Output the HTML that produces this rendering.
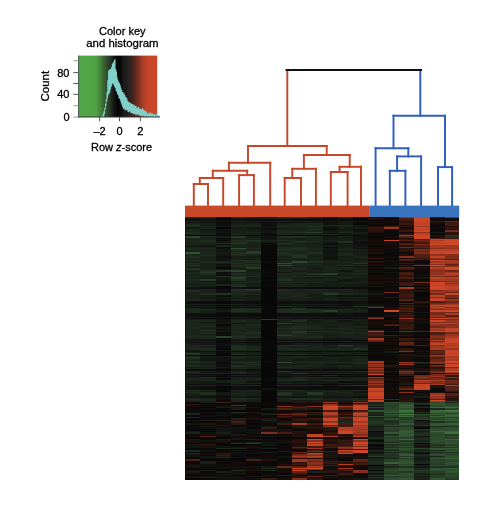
<!DOCTYPE html>
<html><head><meta charset="utf-8"><style>
html,body{margin:0;padding:0;background:#fff;width:499px;height:505px;overflow:hidden}
svg{display:block;will-change:transform}
</style></head><body>
<svg width="499" height="505" viewBox="0 0 499 505" shape-rendering="geometricPrecision">
<defs>
<linearGradient id="ck" x1="78.5" y1="0" x2="157.2" y2="0" gradientUnits="userSpaceOnUse">
<stop offset="0.0000" stop-color="#52a846"/>
<stop offset="0.2224" stop-color="#50a244"/>
<stop offset="0.2732" stop-color="#46843c"/>
<stop offset="0.3240" stop-color="#386232"/>
<stop offset="0.3748" stop-color="#2d442c"/>
<stop offset="0.4130" stop-color="#222e24"/>
<stop offset="0.4447" stop-color="#161816"/>
<stop offset="0.4892" stop-color="#060606"/>
<stop offset="0.5273" stop-color="#060606"/>
<stop offset="0.5654" stop-color="#181717"/>
<stop offset="0.6290" stop-color="#24201f"/>
<stop offset="0.6798" stop-color="#3e241e"/>
<stop offset="0.7306" stop-color="#642a20"/>
<stop offset="0.7814" stop-color="#8c3424"/>
<stop offset="0.8323" stop-color="#b23e28"/>
<stop offset="0.8831" stop-color="#c74529"/>
<stop offset="1.0000" stop-color="#c9462a"/>
</linearGradient>
<filter id="hb" x="185" y="217.2" width="274.2" height="262.3" filterUnits="userSpaceOnUse" color-interpolation-filters="sRGB">
<feGaussianBlur stdDeviation="0.35 0.45" edgeMode="duplicate"/>
</filter>
</defs>
<rect x="0" y="0" width="499" height="505" fill="#ffffff"/>
<!-- color key -->
<rect x="78.5" y="55.6" width="78.7" height="61.4" fill="url(#ck)"/>
<path d="M100.50 116.95 L101.25 116.95 L101.25 116.31 L102.00 116.31 L102.00 115.42 L102.75 115.42 L102.75 113.22 L103.50 113.22 L103.50 111.01 L104.25 111.01 L104.25 108.09 L105.00 108.09 L105.00 103.68 L105.75 103.68 L105.75 98.82 L106.50 98.82 L106.50 91.73 L107.25 91.73 L107.25 80.24 L108.00 80.24 L108.00 70.69 L108.75 70.69 L108.75 70.00 L109.50 70.00 L109.50 68.91 L110.25 68.91 L110.25 68.71 L111.00 68.71 L111.00 67.17 L111.75 67.17 L111.75 63.92 L112.50 63.92 L112.50 62.64 L113.25 62.64 L113.25 61.38 L114.00 61.38 L114.00 59.65 L114.75 59.65 L114.75 59.21 L115.50 59.21 L115.50 68.98 L116.25 68.98 L116.25 71.55 L117.00 71.55 L117.00 77.56 L117.75 77.56 L117.75 80.31 L118.50 80.31 L118.50 82.10 L119.25 82.10 L119.25 83.17 L120.00 83.17 L120.00 84.78 L120.75 84.78 L120.75 87.69 L121.50 87.69 L121.50 89.89 L122.25 89.89 L122.25 92.00 L123.00 92.00 L123.00 92.62 L123.75 92.62 L123.75 93.52 L124.50 93.52 L124.50 94.75 L125.25 94.75 L125.25 96.71 L126.00 96.71 L126.00 97.59 L126.75 97.59 L126.75 98.52 L127.50 98.52 L127.50 101.09 L128.25 101.09 L128.25 101.82 L129.00 101.82 L129.00 101.91 L129.75 101.91 L129.75 102.77 L130.50 102.77 L130.50 103.17 L131.25 103.17 L131.25 103.70 L132.00 103.70 L132.00 104.23 L132.75 104.23 L132.75 104.03 L133.50 104.03 L133.50 105.48 L134.25 105.48 L134.25 105.06 L135.00 105.06 L135.00 106.10 L135.75 106.10 L135.75 105.70 L136.50 105.70 L136.50 107.39 L137.25 107.39 L137.25 107.77 L138.00 107.77 L138.00 106.69 L138.75 106.69 L138.75 107.51 L139.50 107.51 L139.50 109.08 L140.25 109.08 L140.25 108.38 L141.00 108.38 L141.00 109.40 L141.75 109.40 L141.75 108.55 L142.50 108.55 L142.50 108.35 L143.25 108.35 L143.25 109.75 L144.00 109.75 L144.00 110.53 L144.75 110.53 L144.75 110.46 L145.50 110.46 L145.50 110.93 L146.25 110.93 L146.25 112.02 L147.00 112.02 L147.00 113.67 L147.75 113.67 L147.75 113.44 L148.50 113.44 L148.50 112.42 L149.25 112.42 L149.25 112.80 L150.00 112.80 L150.00 112.72 L150.75 112.72 L150.75 112.83 L151.50 112.83 L151.50 114.33 L152.25 114.33 L152.25 113.37 L153.00 113.37 L153.00 114.21 L153.75 114.21 L153.75 114.16 L154.50 114.16 L154.50 113.84 L155.25 113.84 L155.25 114.97 L156.00 114.97 L156.00 114.04 L156.75 114.04 L156.75 115.11 L157.50 115.11 L157.50 114.31 L158.25 114.31 L158.25 115.46 L159.00 115.46 L159.00 115.68 L159.75 115.68 L159.75 116.54 L160.50 116.54 L159.80 117.00 L150.00 117.00 L150.00 117.00 L149.25 117.00 L149.25 117.00 L148.50 117.00 L148.50 116.54 L147.75 116.54 L147.75 117.00 L147.00 117.00 L147.00 116.24 L146.25 116.24 L146.25 116.46 L145.50 116.46 L145.50 117.00 L144.75 117.00 L144.75 116.70 L144.00 116.70 L144.00 115.76 L143.25 115.76 L143.25 117.00 L142.50 117.00 L142.50 115.75 L141.75 115.75 L141.75 115.69 L141.00 115.69 L141.00 116.39 L140.25 116.39 L140.25 115.55 L139.50 115.55 L139.50 115.36 L138.75 115.36 L138.75 114.83 L138.00 114.83 L138.00 114.61 L137.25 114.61 L137.25 115.15 L136.50 115.15 L136.50 114.36 L135.75 114.36 L135.75 114.68 L135.00 114.68 L135.00 114.03 L134.25 114.03 L134.25 113.84 L133.50 113.84 L133.50 114.33 L132.75 114.33 L132.75 113.26 L132.00 113.26 L132.00 113.09 L131.25 113.09 L131.25 113.23 L130.50 113.23 L130.50 111.80 L129.75 111.80 L129.75 111.41 L129.00 111.41 L129.00 112.28 L128.25 112.28 L128.25 111.76 L127.50 111.76 L127.50 110.39 L126.75 110.39 L126.75 109.84 L126.00 109.84 L126.00 110.26 L125.25 110.26 L125.25 110.14 L124.50 110.14 L124.50 108.51 L123.75 108.51 L123.75 108.91 L123.00 108.91 L123.00 107.26 L122.25 107.26 L122.25 105.27 L121.50 105.27 L121.50 103.17 L120.75 103.17 L120.75 100.83 L120.00 100.83 L120.00 98.82 L119.25 98.82 L119.25 98.38 L118.50 98.38 L118.50 95.37 L117.75 95.37 L117.75 94.18 L117.00 94.18 L117.00 91.88 L116.25 91.88 L116.25 90.39 L115.50 90.39 L115.50 88.10 L114.75 88.10 L114.75 86.29 L114.00 86.29 L114.00 84.68 L113.25 84.68 L113.25 83.17 L112.50 83.17 L112.50 84.70 L111.75 84.70 L111.75 87.01 L111.00 87.01 L111.00 89.60 L110.25 89.60 L110.25 92.20 L109.50 92.20 L109.50 93.77 L108.75 93.77 L108.75 95.21 L108.00 95.21 L108.00 98.42 L107.25 98.42 L107.25 101.45 L106.50 101.45 L106.50 105.43 L105.75 105.43 L105.75 110.02 L105.00 110.02 L105.00 113.95 L104.25 113.95 L104.30 117.00 Z" fill="#80d0c9"/>
<line x1="78.6" y1="55.6" x2="78.6" y2="117.5" stroke="#2a3a2a" stroke-width="0.8"/>
<line x1="78" y1="117" x2="160" y2="117" stroke="#333" stroke-width="1"/>
<g stroke="#555" stroke-width="1">
<line x1="73.3" y1="60.8" x2="78.5" y2="60.8" stroke="#999"/>
<line x1="73.3" y1="72.6" x2="78.5" y2="72.6"/>
<line x1="73.3" y1="83.5" x2="78.5" y2="83.5"/>
<line x1="73.3" y1="94.3" x2="78.5" y2="94.3"/>
<line x1="73.3" y1="105.7" x2="78.5" y2="105.7" stroke="#999"/>
<line x1="73.3" y1="117" x2="78.5" y2="117" stroke="#999"/>
<line x1="99.7" y1="117" x2="99.7" y2="121.3"/>
<line x1="119.5" y1="117" x2="119.5" y2="121.3"/>
<line x1="140.3" y1="117" x2="140.3" y2="121.3"/>
</g>
<g font-family="Liberation Sans, sans-serif" font-size="11" fill="#000" stroke="#000" stroke-width="0.3">
<text x="122.3" y="34.8" text-anchor="middle">Color key</text>
<text x="122.4" y="46.7" text-anchor="middle" textLength="72.3" lengthAdjust="spacingAndGlyphs">and histogram</text>
<text x="69.5" y="76.8" text-anchor="end">80</text>
<text x="69.5" y="98.3" text-anchor="end">40</text>
<text x="69.5" y="120.7" text-anchor="end">0</text>
<text x="99.5" y="134.5" text-anchor="middle">–2</text>
<text x="119.6" y="134.5" text-anchor="middle">0</text>
<text x="140.3" y="134.5" text-anchor="middle">2</text>
<text x="121.6" y="150.7" text-anchor="middle">Row <tspan font-style="italic">z</tspan>-score</text>
<text transform="translate(49.0,86.2) rotate(-90)" text-anchor="middle" font-size="11.4" textLength="30.6" lengthAdjust="spacingAndGlyphs">Count</text>
</g>
<!-- dendrogram -->
<line x1="193.80" y1="184.00" x2="193.80" y2="205.70" stroke="#c8472a" stroke-width="1.95" stroke-linecap="square"/>
<line x1="208.00" y1="184.00" x2="208.00" y2="205.70" stroke="#c8472a" stroke-width="1.95" stroke-linecap="square"/>
<line x1="193.80" y1="184.00" x2="208.00" y2="184.00" stroke="#c8472a" stroke-width="1.95" stroke-linecap="square"/>
<line x1="199.80" y1="178.00" x2="199.80" y2="184.00" stroke="#c8472a" stroke-width="1.95" stroke-linecap="square"/>
<line x1="223.20" y1="178.00" x2="223.20" y2="205.70" stroke="#c8472a" stroke-width="1.95" stroke-linecap="square"/>
<line x1="199.80" y1="178.00" x2="223.20" y2="178.00" stroke="#c8472a" stroke-width="1.95" stroke-linecap="square"/>
<line x1="239.10" y1="175.10" x2="239.10" y2="205.70" stroke="#c8472a" stroke-width="1.95" stroke-linecap="square"/>
<line x1="253.90" y1="175.10" x2="253.90" y2="205.70" stroke="#c8472a" stroke-width="1.95" stroke-linecap="square"/>
<line x1="239.10" y1="175.10" x2="253.90" y2="175.10" stroke="#c8472a" stroke-width="1.95" stroke-linecap="square"/>
<line x1="212.80" y1="170.80" x2="212.80" y2="178.00" stroke="#c8472a" stroke-width="1.95" stroke-linecap="square"/>
<line x1="247.20" y1="170.80" x2="247.20" y2="175.10" stroke="#c8472a" stroke-width="1.95" stroke-linecap="square"/>
<line x1="212.80" y1="170.80" x2="247.20" y2="170.80" stroke="#c8472a" stroke-width="1.95" stroke-linecap="square"/>
<line x1="228.90" y1="162.70" x2="228.90" y2="170.80" stroke="#c8472a" stroke-width="1.95" stroke-linecap="square"/>
<line x1="270.20" y1="162.70" x2="270.20" y2="205.70" stroke="#c8472a" stroke-width="1.95" stroke-linecap="square"/>
<line x1="228.90" y1="162.70" x2="270.20" y2="162.70" stroke="#c8472a" stroke-width="1.95" stroke-linecap="square"/>
<line x1="284.70" y1="178.00" x2="284.70" y2="205.70" stroke="#c8472a" stroke-width="1.95" stroke-linecap="square"/>
<line x1="301.00" y1="178.00" x2="301.00" y2="205.70" stroke="#c8472a" stroke-width="1.95" stroke-linecap="square"/>
<line x1="284.70" y1="178.00" x2="301.00" y2="178.00" stroke="#c8472a" stroke-width="1.95" stroke-linecap="square"/>
<line x1="292.30" y1="168.80" x2="292.30" y2="178.00" stroke="#c8472a" stroke-width="1.95" stroke-linecap="square"/>
<line x1="315.90" y1="168.80" x2="315.90" y2="205.70" stroke="#c8472a" stroke-width="1.95" stroke-linecap="square"/>
<line x1="292.30" y1="168.80" x2="315.90" y2="168.80" stroke="#c8472a" stroke-width="1.95" stroke-linecap="square"/>
<line x1="330.80" y1="172.00" x2="330.80" y2="205.70" stroke="#c8472a" stroke-width="1.95" stroke-linecap="square"/>
<line x1="347.60" y1="172.00" x2="347.60" y2="205.70" stroke="#c8472a" stroke-width="1.95" stroke-linecap="square"/>
<line x1="330.80" y1="172.00" x2="347.60" y2="172.00" stroke="#c8472a" stroke-width="1.95" stroke-linecap="square"/>
<line x1="339.60" y1="166.80" x2="339.60" y2="172.00" stroke="#c8472a" stroke-width="1.95" stroke-linecap="square"/>
<line x1="361.00" y1="166.80" x2="361.00" y2="205.70" stroke="#c8472a" stroke-width="1.95" stroke-linecap="square"/>
<line x1="339.60" y1="166.80" x2="361.00" y2="166.80" stroke="#c8472a" stroke-width="1.95" stroke-linecap="square"/>
<line x1="303.90" y1="155.00" x2="303.90" y2="168.80" stroke="#c8472a" stroke-width="1.95" stroke-linecap="square"/>
<line x1="349.70" y1="155.00" x2="349.70" y2="166.80" stroke="#c8472a" stroke-width="1.95" stroke-linecap="square"/>
<line x1="303.90" y1="155.00" x2="349.70" y2="155.00" stroke="#c8472a" stroke-width="1.95" stroke-linecap="square"/>
<line x1="248.00" y1="145.90" x2="248.00" y2="162.70" stroke="#c8472a" stroke-width="1.95" stroke-linecap="square"/>
<line x1="326.70" y1="145.90" x2="326.70" y2="155.00" stroke="#c8472a" stroke-width="1.95" stroke-linecap="square"/>
<line x1="248.00" y1="145.90" x2="326.70" y2="145.90" stroke="#c8472a" stroke-width="1.95" stroke-linecap="square"/>
<line x1="389.80" y1="170.80" x2="389.80" y2="205.70" stroke="#2f5ebf" stroke-width="1.95" stroke-linecap="square"/>
<line x1="405.40" y1="170.80" x2="405.40" y2="205.70" stroke="#2f5ebf" stroke-width="1.95" stroke-linecap="square"/>
<line x1="389.80" y1="170.80" x2="405.40" y2="170.80" stroke="#2f5ebf" stroke-width="1.95" stroke-linecap="square"/>
<line x1="397.10" y1="156.40" x2="397.10" y2="170.80" stroke="#2f5ebf" stroke-width="1.95" stroke-linecap="square"/>
<line x1="421.10" y1="156.40" x2="421.10" y2="205.70" stroke="#2f5ebf" stroke-width="1.95" stroke-linecap="square"/>
<line x1="397.10" y1="156.40" x2="421.10" y2="156.40" stroke="#2f5ebf" stroke-width="1.95" stroke-linecap="square"/>
<line x1="375.60" y1="148.20" x2="375.60" y2="205.70" stroke="#2f5ebf" stroke-width="1.95" stroke-linecap="square"/>
<line x1="408.30" y1="148.20" x2="408.30" y2="156.40" stroke="#2f5ebf" stroke-width="1.95" stroke-linecap="square"/>
<line x1="375.60" y1="148.20" x2="408.30" y2="148.20" stroke="#2f5ebf" stroke-width="1.95" stroke-linecap="square"/>
<line x1="438.00" y1="167.10" x2="438.00" y2="205.70" stroke="#2f5ebf" stroke-width="1.95" stroke-linecap="square"/>
<line x1="452.10" y1="167.10" x2="452.10" y2="205.70" stroke="#2f5ebf" stroke-width="1.95" stroke-linecap="square"/>
<line x1="438.00" y1="167.10" x2="452.10" y2="167.10" stroke="#2f5ebf" stroke-width="1.95" stroke-linecap="square"/>
<line x1="393.50" y1="115.70" x2="393.50" y2="148.20" stroke="#2f5ebf" stroke-width="1.95" stroke-linecap="square"/>
<line x1="445.00" y1="115.70" x2="445.00" y2="167.10" stroke="#2f5ebf" stroke-width="1.95" stroke-linecap="square"/>
<line x1="393.50" y1="115.70" x2="445.00" y2="115.70" stroke="#2f5ebf" stroke-width="1.95" stroke-linecap="square"/>
<line x1="287.30" y1="70.00" x2="287.30" y2="145.90" stroke="#c8472a" stroke-width="1.95" stroke-linecap="square"/>
<line x1="420.30" y1="70.00" x2="420.30" y2="115.70" stroke="#2f5ebf" stroke-width="1.95" stroke-linecap="square"/>
<line x1="286.50" y1="70.00" x2="421.10" y2="70.00" stroke="#111111" stroke-width="1.90" stroke-linecap="square"/>
<!-- side colors -->
<rect x="185" y="205.6" width="184.1" height="11.8" fill="#c8482a"/>
<rect x="369.1" y="205.6" width="90.1" height="11.8" fill="#3a73be"/>
<!-- heatmap -->
<g shape-rendering="crispEdges" filter="url(#hb)">
<rect x="185.00" y="217.20" width="15.59" height="1.05" fill="#1e2c1e"/>
<rect x="185.00" y="218.20" width="15.59" height="1.05" fill="#171e17"/>
<rect x="185.00" y="219.20" width="15.59" height="1.55" fill="#0d0d0d"/>
<rect x="185.00" y="220.70" width="15.59" height="1.05" fill="#1d2a1d"/>
<rect x="185.00" y="221.70" width="15.59" height="1.05" fill="#0e0f0e"/>
<rect x="185.00" y="222.70" width="15.59" height="2.05" fill="#1c261c"/>
<rect x="185.00" y="224.70" width="15.59" height="1.05" fill="#223422"/>
<rect x="185.00" y="225.70" width="15.59" height="1.05" fill="#1b261b"/>
<rect x="185.00" y="226.70" width="15.59" height="2.05" fill="#131713"/>
<rect x="185.00" y="228.70" width="15.59" height="1.05" fill="#1b251b"/>
<rect x="185.00" y="229.70" width="15.59" height="2.05" fill="#1a241a"/>
<rect x="185.00" y="231.70" width="15.59" height="1.05" fill="#1e2b1e"/>
<rect x="185.00" y="232.70" width="15.59" height="1.05" fill="#213221"/>
<rect x="185.00" y="233.70" width="15.59" height="1.05" fill="#182018"/>
<rect x="185.00" y="234.70" width="15.59" height="1.55" fill="#0c0c0c"/>
<rect x="185.00" y="236.20" width="15.59" height="1.55" fill="#294229"/>
<rect x="185.00" y="237.70" width="15.59" height="1.05" fill="#1c261c"/>
<rect x="185.00" y="238.70" width="15.59" height="1.05" fill="#1a231a"/>
<rect x="185.00" y="239.70" width="15.59" height="1.05" fill="#1c271c"/>
<rect x="185.00" y="240.70" width="15.59" height="2.05" fill="#1c281c"/>
<rect x="185.00" y="242.70" width="15.59" height="1.55" fill="#182018"/>
<rect x="185.00" y="244.20" width="15.59" height="1.05" fill="#1c271c"/>
<rect x="185.00" y="245.20" width="15.59" height="2.05" fill="#151a15"/>
<rect x="185.00" y="247.20" width="15.59" height="1.05" fill="#182018"/>
<rect x="185.00" y="248.20" width="15.59" height="1.05" fill="#1d2a1d"/>
<rect x="185.00" y="249.20" width="15.59" height="2.05" fill="#1b261b"/>
<rect x="185.00" y="251.20" width="15.59" height="1.05" fill="#171e17"/>
<rect x="185.00" y="252.20" width="15.59" height="2.05" fill="#305330"/>
<rect x="185.00" y="254.20" width="15.59" height="2.05" fill="#1b261b"/>
<rect x="185.00" y="256.20" width="15.59" height="1.55" fill="#202f20"/>
<rect x="185.00" y="257.70" width="15.59" height="1.05" fill="#1b251b"/>
<rect x="185.00" y="258.70" width="15.59" height="1.05" fill="#182018"/>
<rect x="185.00" y="259.70" width="15.59" height="1.05" fill="#213221"/>
<rect x="185.00" y="260.70" width="15.59" height="2.05" fill="#192119"/>
<rect x="185.00" y="262.70" width="15.59" height="1.05" fill="#1f2c1f"/>
<rect x="185.00" y="263.70" width="15.59" height="1.05" fill="#1c271c"/>
<rect x="185.00" y="264.70" width="15.59" height="1.55" fill="#243924"/>
<rect x="185.00" y="266.20" width="15.59" height="1.05" fill="#161d16"/>
<rect x="185.00" y="267.20" width="15.59" height="2.05" fill="#1c271c"/>
<rect x="185.00" y="269.20" width="15.59" height="1.05" fill="#243824"/>
<rect x="185.00" y="270.20" width="15.59" height="2.05" fill="#182018"/>
<rect x="185.00" y="272.20" width="15.59" height="1.05" fill="#1d281d"/>
<rect x="185.00" y="273.20" width="15.59" height="2.05" fill="#1c271c"/>
<rect x="185.00" y="275.20" width="15.59" height="1.05" fill="#182018"/>
<rect x="185.00" y="276.20" width="15.59" height="1.05" fill="#1d291d"/>
<rect x="185.00" y="277.20" width="15.59" height="2.05" fill="#192119"/>
<rect x="185.00" y="279.20" width="15.59" height="2.05" fill="#1c281c"/>
<rect x="185.00" y="281.20" width="15.59" height="1.05" fill="#1b261b"/>
<rect x="185.00" y="282.20" width="15.59" height="1.05" fill="#192219"/>
<rect x="185.00" y="283.20" width="15.59" height="1.05" fill="#182018"/>
<rect x="185.00" y="284.20" width="15.59" height="2.05" fill="#161c16"/>
<rect x="185.00" y="286.20" width="15.59" height="1.05" fill="#1e2a1e"/>
<rect x="185.00" y="287.20" width="15.59" height="2.05" fill="#0e0f0e"/>
<rect x="185.00" y="289.20" width="15.59" height="1.05" fill="#171e17"/>
<rect x="185.00" y="290.20" width="15.59" height="2.05" fill="#202f20"/>
<rect x="185.00" y="292.20" width="15.59" height="1.05" fill="#181f18"/>
<rect x="185.00" y="293.20" width="15.59" height="1.55" fill="#1b241b"/>
<rect x="185.00" y="294.70" width="15.59" height="2.05" fill="#182018"/>
<rect x="185.00" y="296.70" width="15.59" height="1.55" fill="#192119"/>
<rect x="185.00" y="298.20" width="15.59" height="1.05" fill="#182018"/>
<rect x="185.00" y="299.20" width="15.59" height="1.55" fill="#1d281d"/>
<rect x="185.00" y="300.70" width="15.59" height="2.05" fill="#0e0e0e"/>
<rect x="185.00" y="302.70" width="15.59" height="1.55" fill="#0e100e"/>
<rect x="185.00" y="304.20" width="15.59" height="1.05" fill="#192119"/>
<rect x="185.00" y="305.20" width="15.59" height="1.05" fill="#0e100e"/>
<rect x="185.00" y="306.20" width="15.59" height="1.05" fill="#171f17"/>
<rect x="185.00" y="307.20" width="15.59" height="1.05" fill="#0d0d0d"/>
<rect x="185.00" y="308.20" width="15.59" height="1.05" fill="#1f2e1f"/>
<rect x="185.00" y="309.20" width="15.59" height="1.05" fill="#192119"/>
<rect x="185.00" y="310.20" width="15.59" height="2.05" fill="#1c281c"/>
<rect x="185.00" y="312.20" width="15.59" height="1.05" fill="#1d291d"/>
<rect x="185.00" y="313.20" width="15.59" height="2.05" fill="#0f110f"/>
<rect x="185.00" y="315.20" width="15.59" height="1.55" fill="#0e0f0e"/>
<rect x="185.00" y="316.70" width="15.59" height="1.05" fill="#161c16"/>
<rect x="185.00" y="317.70" width="15.59" height="1.55" fill="#0e0f0e"/>
<rect x="185.00" y="319.20" width="15.59" height="1.05" fill="#171e17"/>
<rect x="185.00" y="320.20" width="15.59" height="2.05" fill="#1c271c"/>
<rect x="185.00" y="322.20" width="15.59" height="1.05" fill="#182018"/>
<rect x="185.00" y="323.20" width="15.59" height="1.05" fill="#1c271c"/>
<rect x="185.00" y="324.20" width="15.59" height="2.05" fill="#1a241a"/>
<rect x="185.00" y="326.20" width="15.59" height="2.55" fill="#1d291d"/>
<rect x="185.00" y="328.70" width="15.59" height="1.05" fill="#192119"/>
<rect x="185.00" y="329.70" width="15.59" height="1.05" fill="#1b251b"/>
<rect x="185.00" y="330.70" width="15.59" height="1.55" fill="#192219"/>
<rect x="185.00" y="332.20" width="15.59" height="1.55" fill="#1b251b"/>
<rect x="185.00" y="333.70" width="15.59" height="1.05" fill="#1b241b"/>
<rect x="185.00" y="334.70" width="15.59" height="1.05" fill="#1b251b"/>
<rect x="185.00" y="335.70" width="15.59" height="2.05" fill="#1d281d"/>
<rect x="185.00" y="337.70" width="15.59" height="2.05" fill="#181f18"/>
<rect x="185.00" y="339.70" width="15.59" height="1.05" fill="#0e0f0e"/>
<rect x="185.00" y="340.70" width="15.59" height="1.05" fill="#1b261b"/>
<rect x="185.00" y="341.70" width="15.59" height="1.05" fill="#0e0f0e"/>
<rect x="185.00" y="342.70" width="15.59" height="2.05" fill="#171e17"/>
<rect x="185.00" y="344.70" width="15.59" height="1.55" fill="#1b261b"/>
<rect x="185.00" y="346.20" width="15.59" height="2.05" fill="#1c271c"/>
<rect x="185.00" y="348.20" width="15.59" height="1.55" fill="#1d281d"/>
<rect x="185.00" y="349.70" width="15.59" height="1.05" fill="#151a15"/>
<rect x="185.00" y="350.70" width="15.59" height="1.05" fill="#101110"/>
<rect x="185.00" y="351.70" width="15.59" height="1.05" fill="#181f18"/>
<rect x="185.00" y="352.70" width="15.59" height="1.55" fill="#263c26"/>
<rect x="185.00" y="354.20" width="15.59" height="1.05" fill="#203020"/>
<rect x="185.00" y="355.20" width="15.59" height="1.05" fill="#0d0e0d"/>
<rect x="185.00" y="356.20" width="15.59" height="1.05" fill="#1c271c"/>
<rect x="185.00" y="357.20" width="15.59" height="2.05" fill="#213221"/>
<rect x="185.00" y="359.20" width="15.59" height="1.55" fill="#1a221a"/>
<rect x="185.00" y="360.70" width="15.59" height="1.05" fill="#202f20"/>
<rect x="185.00" y="361.70" width="15.59" height="1.55" fill="#202e20"/>
<rect x="185.00" y="363.20" width="15.59" height="1.05" fill="#1a231a"/>
<rect x="185.00" y="364.20" width="15.59" height="1.05" fill="#1b261b"/>
<rect x="185.00" y="365.20" width="15.59" height="1.55" fill="#1e2a1e"/>
<rect x="185.00" y="366.70" width="15.59" height="1.05" fill="#151a15"/>
<rect x="185.00" y="367.70" width="15.59" height="1.05" fill="#1c271c"/>
<rect x="185.00" y="368.70" width="15.59" height="2.05" fill="#0c0c0c"/>
<rect x="185.00" y="370.70" width="15.59" height="1.05" fill="#1c271c"/>
<rect x="185.00" y="371.70" width="15.59" height="1.55" fill="#1c281c"/>
<rect x="185.00" y="373.20" width="15.59" height="1.05" fill="#1a241a"/>
<rect x="185.00" y="374.20" width="15.59" height="1.05" fill="#0e0f0e"/>
<rect x="185.00" y="375.20" width="15.59" height="1.05" fill="#171e17"/>
<rect x="185.00" y="376.20" width="15.59" height="1.05" fill="#0f100f"/>
<rect x="185.00" y="377.20" width="15.59" height="1.05" fill="#182018"/>
<rect x="185.00" y="378.20" width="15.59" height="1.55" fill="#1a231a"/>
<rect x="185.00" y="379.70" width="15.59" height="1.55" fill="#1b251b"/>
<rect x="185.00" y="381.20" width="15.59" height="1.55" fill="#161b16"/>
<rect x="185.00" y="382.70" width="15.59" height="1.05" fill="#171d17"/>
<rect x="185.00" y="383.70" width="15.59" height="1.05" fill="#0d0e0d"/>
<rect x="185.00" y="384.70" width="15.59" height="1.55" fill="#1b261b"/>
<rect x="185.00" y="386.20" width="15.59" height="1.55" fill="#111311"/>
<rect x="185.00" y="387.70" width="15.59" height="2.05" fill="#0e0f0e"/>
<rect x="185.00" y="389.70" width="15.59" height="1.05" fill="#202e20"/>
<rect x="185.00" y="390.70" width="15.59" height="1.05" fill="#1a231a"/>
<rect x="185.00" y="391.70" width="15.59" height="1.55" fill="#1e2b1e"/>
<rect x="185.00" y="393.20" width="15.59" height="2.05" fill="#182018"/>
<rect x="185.00" y="395.20" width="15.59" height="1.05" fill="#171e17"/>
<rect x="185.00" y="396.20" width="15.59" height="1.55" fill="#141814"/>
<rect x="185.00" y="397.70" width="15.59" height="1.05" fill="#1c271c"/>
<rect x="185.00" y="398.70" width="15.59" height="1.55" fill="#223322"/>
<rect x="185.00" y="400.20" width="15.59" height="1.05" fill="#1b251b"/>
<rect x="185.00" y="401.20" width="15.59" height="1.05" fill="#181f18"/>
<rect x="185.00" y="402.20" width="15.59" height="1.05" fill="#100a09"/>
<rect x="185.00" y="403.20" width="15.59" height="1.05" fill="#090808"/>
<rect x="185.00" y="404.20" width="15.59" height="1.05" fill="#32150f"/>
<rect x="185.00" y="405.20" width="15.59" height="1.05" fill="#0e0f0e"/>
<rect x="185.00" y="406.20" width="15.59" height="1.05" fill="#101110"/>
<rect x="185.00" y="407.20" width="15.59" height="1.05" fill="#0a090a"/>
<rect x="185.00" y="408.20" width="15.59" height="1.55" fill="#0e0a09"/>
<rect x="185.00" y="409.70" width="15.59" height="2.05" fill="#0a0a0a"/>
<rect x="185.00" y="411.70" width="15.59" height="1.05" fill="#0c0d0c"/>
<rect x="185.00" y="412.70" width="15.59" height="1.05" fill="#1b241b"/>
<rect x="185.00" y="413.70" width="15.59" height="1.05" fill="#1c271c"/>
<rect x="185.00" y="414.70" width="15.59" height="1.05" fill="#090808"/>
<rect x="185.00" y="415.70" width="15.59" height="1.05" fill="#0b0909"/>
<rect x="185.00" y="416.70" width="15.59" height="1.55" fill="#1d2a1d"/>
<rect x="185.00" y="418.20" width="15.59" height="2.05" fill="#080808"/>
<rect x="185.00" y="420.20" width="15.59" height="1.05" fill="#131613"/>
<rect x="185.00" y="421.20" width="15.59" height="2.05" fill="#0a0908"/>
<rect x="185.00" y="423.20" width="15.59" height="2.05" fill="#121612"/>
<rect x="185.00" y="425.20" width="15.59" height="1.05" fill="#0a0908"/>
<rect x="185.00" y="426.20" width="15.59" height="1.05" fill="#0f0a09"/>
<rect x="185.00" y="427.20" width="15.59" height="2.05" fill="#0d0a09"/>
<rect x="185.00" y="429.20" width="15.59" height="2.05" fill="#090808"/>
<rect x="185.00" y="431.20" width="15.59" height="1.05" fill="#141914"/>
<rect x="185.00" y="432.20" width="15.59" height="1.55" fill="#1b251b"/>
<rect x="185.00" y="433.70" width="15.59" height="2.05" fill="#100b09"/>
<rect x="185.00" y="435.70" width="15.59" height="1.55" fill="#110b0a"/>
<rect x="185.00" y="437.20" width="15.59" height="1.55" fill="#090808"/>
<rect x="185.00" y="438.70" width="15.59" height="1.55" fill="#151a15"/>
<rect x="185.00" y="440.20" width="15.59" height="1.55" fill="#1b0e0b"/>
<rect x="185.00" y="441.70" width="15.59" height="1.05" fill="#1e0f0c"/>
<rect x="185.00" y="442.70" width="15.59" height="1.55" fill="#0a0908"/>
<rect x="185.00" y="444.20" width="15.59" height="2.55" fill="#121512"/>
<rect x="185.00" y="446.70" width="15.59" height="1.05" fill="#170d0a"/>
<rect x="185.00" y="447.70" width="15.59" height="1.05" fill="#090909"/>
<rect x="185.00" y="448.70" width="15.59" height="1.05" fill="#0a0a0a"/>
<rect x="185.00" y="449.70" width="15.59" height="1.55" fill="#1c271c"/>
<rect x="185.00" y="451.20" width="15.59" height="1.05" fill="#1e2c1e"/>
<rect x="185.00" y="452.20" width="15.59" height="1.05" fill="#090909"/>
<rect x="185.00" y="453.20" width="15.59" height="1.05" fill="#451b12"/>
<rect x="185.00" y="454.20" width="15.59" height="2.05" fill="#101310"/>
<rect x="185.00" y="456.20" width="15.59" height="1.05" fill="#121512"/>
<rect x="185.00" y="457.20" width="15.59" height="1.05" fill="#0b0909"/>
<rect x="185.00" y="458.20" width="15.59" height="1.05" fill="#090808"/>
<rect x="185.00" y="459.20" width="15.59" height="2.05" fill="#511f14"/>
<rect x="185.00" y="461.20" width="15.59" height="1.05" fill="#080808"/>
<rect x="185.00" y="462.20" width="15.59" height="2.05" fill="#0b0908"/>
<rect x="185.00" y="464.20" width="15.59" height="1.05" fill="#160c0a"/>
<rect x="185.00" y="465.20" width="15.59" height="1.05" fill="#121512"/>
<rect x="185.00" y="466.20" width="15.59" height="2.05" fill="#131613"/>
<rect x="185.00" y="468.20" width="15.59" height="1.05" fill="#080808"/>
<rect x="185.00" y="469.20" width="15.59" height="1.05" fill="#0d0909"/>
<rect x="185.00" y="470.20" width="15.59" height="1.05" fill="#1b0e0b"/>
<rect x="185.00" y="471.20" width="15.59" height="2.05" fill="#161d16"/>
<rect x="185.00" y="473.20" width="15.59" height="1.55" fill="#130c0a"/>
<rect x="185.00" y="474.70" width="15.59" height="1.05" fill="#090808"/>
<rect x="185.00" y="475.70" width="15.59" height="1.05" fill="#121512"/>
<rect x="185.00" y="476.70" width="15.59" height="1.05" fill="#121612"/>
<rect x="185.00" y="477.70" width="15.59" height="1.85" fill="#080808"/>
<rect x="200.29" y="217.20" width="15.59" height="1.05" fill="#1d291d"/>
<rect x="200.29" y="218.20" width="15.59" height="1.05" fill="#171f17"/>
<rect x="200.29" y="219.20" width="15.59" height="1.55" fill="#101210"/>
<rect x="200.29" y="220.70" width="15.59" height="1.05" fill="#171d17"/>
<rect x="200.29" y="221.70" width="15.59" height="1.05" fill="#0d0e0d"/>
<rect x="200.29" y="222.70" width="15.59" height="2.05" fill="#171d17"/>
<rect x="200.29" y="224.70" width="15.59" height="1.05" fill="#181f18"/>
<rect x="200.29" y="225.70" width="15.59" height="1.05" fill="#1a241a"/>
<rect x="200.29" y="226.70" width="15.59" height="2.05" fill="#192219"/>
<rect x="200.29" y="228.70" width="15.59" height="1.05" fill="#111311"/>
<rect x="200.29" y="229.70" width="15.59" height="2.05" fill="#181f18"/>
<rect x="200.29" y="231.70" width="15.59" height="1.05" fill="#151b15"/>
<rect x="200.29" y="232.70" width="15.59" height="2.05" fill="#192119"/>
<rect x="200.29" y="234.70" width="15.59" height="1.55" fill="#0e0f0e"/>
<rect x="200.29" y="236.20" width="15.59" height="1.55" fill="#1a241a"/>
<rect x="200.29" y="237.70" width="15.59" height="1.05" fill="#181f18"/>
<rect x="200.29" y="238.70" width="15.59" height="1.05" fill="#1a231a"/>
<rect x="200.29" y="239.70" width="15.59" height="1.05" fill="#1f2d1f"/>
<rect x="200.29" y="240.70" width="15.59" height="2.05" fill="#1e2c1e"/>
<rect x="200.29" y="242.70" width="15.59" height="1.55" fill="#171e17"/>
<rect x="200.29" y="244.20" width="15.59" height="1.05" fill="#182018"/>
<rect x="200.29" y="245.20" width="15.59" height="2.05" fill="#131813"/>
<rect x="200.29" y="247.20" width="15.59" height="1.05" fill="#192119"/>
<rect x="200.29" y="248.20" width="15.59" height="1.05" fill="#1c281c"/>
<rect x="200.29" y="249.20" width="15.59" height="2.05" fill="#1a241a"/>
<rect x="200.29" y="251.20" width="15.59" height="1.05" fill="#1c281c"/>
<rect x="200.29" y="252.20" width="15.59" height="2.05" fill="#1b241b"/>
<rect x="200.29" y="254.20" width="15.59" height="2.05" fill="#1e2a1e"/>
<rect x="200.29" y="256.20" width="15.59" height="1.55" fill="#192219"/>
<rect x="200.29" y="257.70" width="15.59" height="1.05" fill="#1c271c"/>
<rect x="200.29" y="258.70" width="15.59" height="1.05" fill="#1a241a"/>
<rect x="200.29" y="259.70" width="15.59" height="1.05" fill="#1a231a"/>
<rect x="200.29" y="260.70" width="15.59" height="2.05" fill="#1e2b1e"/>
<rect x="200.29" y="262.70" width="15.59" height="1.05" fill="#1a231a"/>
<rect x="200.29" y="263.70" width="15.59" height="1.05" fill="#192119"/>
<rect x="200.29" y="264.70" width="15.59" height="2.55" fill="#171e17"/>
<rect x="200.29" y="267.20" width="15.59" height="2.05" fill="#182018"/>
<rect x="200.29" y="269.20" width="15.59" height="1.05" fill="#1a231a"/>
<rect x="200.29" y="270.20" width="15.59" height="2.05" fill="#213121"/>
<rect x="200.29" y="272.20" width="15.59" height="1.05" fill="#253a25"/>
<rect x="200.29" y="273.20" width="15.59" height="2.05" fill="#1f2c1f"/>
<rect x="200.29" y="275.20" width="15.59" height="1.05" fill="#151a15"/>
<rect x="200.29" y="276.20" width="15.59" height="1.05" fill="#192219"/>
<rect x="200.29" y="277.20" width="15.59" height="2.05" fill="#171d17"/>
<rect x="200.29" y="279.20" width="15.59" height="2.05" fill="#263c26"/>
<rect x="200.29" y="281.20" width="15.59" height="1.05" fill="#131713"/>
<rect x="200.29" y="282.20" width="15.59" height="1.05" fill="#1d281d"/>
<rect x="200.29" y="283.20" width="15.59" height="1.05" fill="#171e17"/>
<rect x="200.29" y="284.20" width="15.59" height="2.05" fill="#181f18"/>
<rect x="200.29" y="286.20" width="15.59" height="1.05" fill="#1a231a"/>
<rect x="200.29" y="287.20" width="15.59" height="2.05" fill="#0e100e"/>
<rect x="200.29" y="289.20" width="15.59" height="1.05" fill="#1b251b"/>
<rect x="200.29" y="290.20" width="15.59" height="3.05" fill="#192219"/>
<rect x="200.29" y="293.20" width="15.59" height="1.55" fill="#213121"/>
<rect x="200.29" y="294.70" width="15.59" height="2.05" fill="#171e17"/>
<rect x="200.29" y="296.70" width="15.59" height="1.55" fill="#151b15"/>
<rect x="200.29" y="298.20" width="15.59" height="1.05" fill="#141914"/>
<rect x="200.29" y="299.20" width="15.59" height="1.55" fill="#181f18"/>
<rect x="200.29" y="300.70" width="15.59" height="2.05" fill="#0d0d0d"/>
<rect x="200.29" y="302.70" width="15.59" height="1.55" fill="#0d0e0d"/>
<rect x="200.29" y="304.20" width="15.59" height="1.05" fill="#192119"/>
<rect x="200.29" y="305.20" width="15.59" height="1.05" fill="#0c0d0c"/>
<rect x="200.29" y="306.20" width="15.59" height="1.05" fill="#181f18"/>
<rect x="200.29" y="307.20" width="15.59" height="1.05" fill="#0e0e0e"/>
<rect x="200.29" y="308.20" width="15.59" height="1.05" fill="#171e17"/>
<rect x="200.29" y="309.20" width="15.59" height="1.05" fill="#1c271c"/>
<rect x="200.29" y="310.20" width="15.59" height="3.05" fill="#182018"/>
<rect x="200.29" y="313.20" width="15.59" height="2.05" fill="#0d0e0d"/>
<rect x="200.29" y="315.20" width="15.59" height="1.55" fill="#0d0d0d"/>
<rect x="200.29" y="316.70" width="15.59" height="1.05" fill="#161d16"/>
<rect x="200.29" y="317.70" width="15.59" height="1.55" fill="#0b0b0b"/>
<rect x="200.29" y="319.20" width="15.59" height="1.05" fill="#192119"/>
<rect x="200.29" y="320.20" width="15.59" height="2.05" fill="#1c271c"/>
<rect x="200.29" y="322.20" width="15.59" height="1.05" fill="#141914"/>
<rect x="200.29" y="323.20" width="15.59" height="1.05" fill="#161d16"/>
<rect x="200.29" y="324.20" width="15.59" height="2.05" fill="#1b251b"/>
<rect x="200.29" y="326.20" width="15.59" height="1.55" fill="#1c281c"/>
<rect x="200.29" y="327.70" width="15.59" height="1.05" fill="#1a241a"/>
<rect x="200.29" y="328.70" width="15.59" height="1.05" fill="#1a231a"/>
<rect x="200.29" y="329.70" width="15.59" height="1.05" fill="#223422"/>
<rect x="200.29" y="330.70" width="15.59" height="1.55" fill="#192119"/>
<rect x="200.29" y="332.20" width="15.59" height="1.55" fill="#1f2d1f"/>
<rect x="200.29" y="333.70" width="15.59" height="1.05" fill="#151b15"/>
<rect x="200.29" y="334.70" width="15.59" height="1.05" fill="#1c281c"/>
<rect x="200.29" y="335.70" width="15.59" height="2.05" fill="#1d291d"/>
<rect x="200.29" y="337.70" width="15.59" height="2.05" fill="#182018"/>
<rect x="200.29" y="339.70" width="15.59" height="1.05" fill="#0d0d0d"/>
<rect x="200.29" y="340.70" width="15.59" height="1.05" fill="#1b251b"/>
<rect x="200.29" y="341.70" width="15.59" height="1.05" fill="#0e100e"/>
<rect x="200.29" y="342.70" width="15.59" height="2.05" fill="#141914"/>
<rect x="200.29" y="344.70" width="15.59" height="1.55" fill="#1e2a1e"/>
<rect x="200.29" y="346.20" width="15.59" height="2.05" fill="#181f18"/>
<rect x="200.29" y="348.20" width="15.59" height="1.55" fill="#1f2e1f"/>
<rect x="200.29" y="349.70" width="15.59" height="1.05" fill="#1a231a"/>
<rect x="200.29" y="350.70" width="15.59" height="1.05" fill="#0f100f"/>
<rect x="200.29" y="351.70" width="15.59" height="1.05" fill="#161c16"/>
<rect x="200.29" y="352.70" width="15.59" height="1.55" fill="#161d16"/>
<rect x="200.29" y="354.20" width="15.59" height="1.05" fill="#1b261b"/>
<rect x="200.29" y="355.20" width="15.59" height="1.05" fill="#0d0d0d"/>
<rect x="200.29" y="356.20" width="15.59" height="3.05" fill="#141814"/>
<rect x="200.29" y="359.20" width="15.59" height="1.55" fill="#121512"/>
<rect x="200.29" y="360.70" width="15.59" height="1.05" fill="#1b241b"/>
<rect x="200.29" y="361.70" width="15.59" height="1.55" fill="#1a241a"/>
<rect x="200.29" y="363.20" width="15.59" height="1.05" fill="#161d16"/>
<rect x="200.29" y="364.20" width="15.59" height="1.05" fill="#171d17"/>
<rect x="200.29" y="365.20" width="15.59" height="1.55" fill="#1a241a"/>
<rect x="200.29" y="366.70" width="15.59" height="1.05" fill="#161c16"/>
<rect x="200.29" y="367.70" width="15.59" height="1.05" fill="#192119"/>
<rect x="200.29" y="368.70" width="15.59" height="2.05" fill="#0d0d0d"/>
<rect x="200.29" y="370.70" width="15.59" height="1.05" fill="#161b16"/>
<rect x="200.29" y="371.70" width="15.59" height="1.55" fill="#141814"/>
<rect x="200.29" y="373.20" width="15.59" height="1.05" fill="#192119"/>
<rect x="200.29" y="374.20" width="15.59" height="1.05" fill="#0e0f0e"/>
<rect x="200.29" y="375.20" width="15.59" height="1.05" fill="#141914"/>
<rect x="200.29" y="376.20" width="15.59" height="1.05" fill="#0d0e0d"/>
<rect x="200.29" y="377.20" width="15.59" height="1.05" fill="#1c281c"/>
<rect x="200.29" y="378.20" width="15.59" height="1.55" fill="#1a241a"/>
<rect x="200.29" y="379.70" width="15.59" height="1.55" fill="#1e2a1e"/>
<rect x="200.29" y="381.20" width="15.59" height="1.55" fill="#141814"/>
<rect x="200.29" y="382.70" width="15.59" height="1.05" fill="#151a15"/>
<rect x="200.29" y="383.70" width="15.59" height="1.05" fill="#0e0f0e"/>
<rect x="200.29" y="384.70" width="15.59" height="1.55" fill="#1c261c"/>
<rect x="200.29" y="386.20" width="15.59" height="3.55" fill="#0e0f0e"/>
<rect x="200.29" y="389.70" width="15.59" height="1.05" fill="#1a241a"/>
<rect x="200.29" y="390.70" width="15.59" height="1.05" fill="#141914"/>
<rect x="200.29" y="391.70" width="15.59" height="1.55" fill="#1f2e1f"/>
<rect x="200.29" y="393.20" width="15.59" height="2.05" fill="#203020"/>
<rect x="200.29" y="395.20" width="15.59" height="1.05" fill="#161d16"/>
<rect x="200.29" y="396.20" width="15.59" height="1.55" fill="#101210"/>
<rect x="200.29" y="397.70" width="15.59" height="1.05" fill="#171f17"/>
<rect x="200.29" y="398.70" width="15.59" height="1.55" fill="#192219"/>
<rect x="200.29" y="400.20" width="15.59" height="1.05" fill="#1b251b"/>
<rect x="200.29" y="401.20" width="15.59" height="1.05" fill="#171d17"/>
<rect x="200.29" y="402.20" width="15.59" height="1.05" fill="#171e17"/>
<rect x="200.29" y="403.20" width="15.59" height="1.05" fill="#0a0808"/>
<rect x="200.29" y="404.20" width="15.59" height="1.05" fill="#131713"/>
<rect x="200.29" y="405.20" width="15.59" height="1.05" fill="#0f0a09"/>
<rect x="200.29" y="406.20" width="15.59" height="1.05" fill="#0d0e0d"/>
<rect x="200.29" y="407.20" width="15.59" height="1.05" fill="#0b0908"/>
<rect x="200.29" y="408.20" width="15.59" height="1.55" fill="#110b0a"/>
<rect x="200.29" y="409.70" width="15.59" height="2.05" fill="#080808"/>
<rect x="200.29" y="411.70" width="15.59" height="1.05" fill="#0e0f0e"/>
<rect x="200.29" y="412.70" width="15.59" height="1.05" fill="#0d0a09"/>
<rect x="200.29" y="413.70" width="15.59" height="1.05" fill="#100a09"/>
<rect x="200.29" y="414.70" width="15.59" height="1.05" fill="#0f100f"/>
<rect x="200.29" y="415.70" width="15.59" height="1.05" fill="#0e0e0e"/>
<rect x="200.29" y="416.70" width="15.59" height="1.55" fill="#0c0909"/>
<rect x="200.29" y="418.20" width="15.59" height="2.05" fill="#0d0a09"/>
<rect x="200.29" y="420.20" width="15.59" height="1.05" fill="#171e17"/>
<rect x="200.29" y="421.20" width="15.59" height="2.05" fill="#0b0908"/>
<rect x="200.29" y="423.20" width="15.59" height="2.05" fill="#26110d"/>
<rect x="200.29" y="425.20" width="15.59" height="1.05" fill="#0d0a09"/>
<rect x="200.29" y="426.20" width="15.59" height="1.05" fill="#161c16"/>
<rect x="200.29" y="427.20" width="15.59" height="2.05" fill="#0f100f"/>
<rect x="200.29" y="429.20" width="15.59" height="2.05" fill="#0b0b0b"/>
<rect x="200.29" y="431.20" width="15.59" height="1.05" fill="#0c0909"/>
<rect x="200.29" y="432.20" width="15.59" height="1.55" fill="#111311"/>
<rect x="200.29" y="433.70" width="15.59" height="2.05" fill="#0f110f"/>
<rect x="200.29" y="435.70" width="15.59" height="1.55" fill="#572115"/>
<rect x="200.29" y="437.20" width="15.59" height="1.55" fill="#090909"/>
<rect x="200.29" y="438.70" width="15.59" height="1.55" fill="#0f0a09"/>
<rect x="200.29" y="440.20" width="15.59" height="1.55" fill="#131613"/>
<rect x="200.29" y="441.70" width="15.59" height="1.05" fill="#0e0a09"/>
<rect x="200.29" y="442.70" width="15.59" height="1.55" fill="#170d0a"/>
<rect x="200.29" y="444.20" width="15.59" height="1.55" fill="#29120d"/>
<rect x="200.29" y="445.70" width="15.59" height="1.05" fill="#100a09"/>
<rect x="200.29" y="446.70" width="15.59" height="1.05" fill="#141814"/>
<rect x="200.29" y="447.70" width="15.59" height="1.05" fill="#0b0b0b"/>
<rect x="200.29" y="448.70" width="15.59" height="1.05" fill="#100b09"/>
<rect x="200.29" y="449.70" width="15.59" height="1.55" fill="#0f110f"/>
<rect x="200.29" y="451.20" width="15.59" height="1.05" fill="#111411"/>
<rect x="200.29" y="452.20" width="15.59" height="1.05" fill="#0a0908"/>
<rect x="200.29" y="453.20" width="15.59" height="1.05" fill="#160c0a"/>
<rect x="200.29" y="454.20" width="15.59" height="2.05" fill="#100a09"/>
<rect x="200.29" y="456.20" width="15.59" height="1.05" fill="#121612"/>
<rect x="200.29" y="457.20" width="15.59" height="1.05" fill="#131613"/>
<rect x="200.29" y="458.20" width="15.59" height="1.05" fill="#0c0c0c"/>
<rect x="200.29" y="459.20" width="15.59" height="2.05" fill="#0b0908"/>
<rect x="200.29" y="461.20" width="15.59" height="1.05" fill="#161c16"/>
<rect x="200.29" y="462.20" width="15.59" height="2.05" fill="#192119"/>
<rect x="200.29" y="464.20" width="15.59" height="1.05" fill="#0e0e0e"/>
<rect x="200.29" y="465.20" width="15.59" height="1.05" fill="#101210"/>
<rect x="200.29" y="466.20" width="15.59" height="2.05" fill="#0d0d0d"/>
<rect x="200.29" y="468.20" width="15.59" height="1.05" fill="#0e0f0e"/>
<rect x="200.29" y="469.20" width="15.59" height="1.05" fill="#080808"/>
<rect x="200.29" y="470.20" width="15.59" height="1.05" fill="#171f17"/>
<rect x="200.29" y="471.20" width="15.59" height="2.05" fill="#090808"/>
<rect x="200.29" y="473.20" width="15.59" height="1.55" fill="#140c0a"/>
<rect x="200.29" y="474.70" width="15.59" height="1.05" fill="#080808"/>
<rect x="200.29" y="475.70" width="15.59" height="1.05" fill="#131613"/>
<rect x="200.29" y="476.70" width="15.59" height="1.05" fill="#151b15"/>
<rect x="200.29" y="477.70" width="15.59" height="1.85" fill="#0a0908"/>
<rect x="215.58" y="217.20" width="15.59" height="1.05" fill="#111311"/>
<rect x="215.58" y="218.20" width="15.59" height="1.05" fill="#080808"/>
<rect x="215.58" y="219.20" width="15.59" height="1.55" fill="#0a0a0a"/>
<rect x="215.58" y="220.70" width="15.59" height="1.05" fill="#141814"/>
<rect x="215.58" y="221.70" width="15.59" height="1.05" fill="#090808"/>
<rect x="215.58" y="222.70" width="15.59" height="2.05" fill="#0e0f0e"/>
<rect x="215.58" y="224.70" width="15.59" height="1.05" fill="#111311"/>
<rect x="215.58" y="225.70" width="15.59" height="1.05" fill="#131713"/>
<rect x="215.58" y="226.70" width="15.59" height="2.05" fill="#090808"/>
<rect x="215.58" y="228.70" width="15.59" height="1.05" fill="#111311"/>
<rect x="215.58" y="229.70" width="15.59" height="2.05" fill="#101210"/>
<rect x="215.58" y="231.70" width="15.59" height="1.05" fill="#141814"/>
<rect x="215.58" y="232.70" width="15.59" height="1.05" fill="#0d0d0d"/>
<rect x="215.58" y="233.70" width="15.59" height="1.05" fill="#0d0e0d"/>
<rect x="215.58" y="234.70" width="15.59" height="1.55" fill="#0b0b0b"/>
<rect x="215.58" y="236.20" width="15.59" height="1.55" fill="#171e17"/>
<rect x="215.58" y="237.70" width="15.59" height="1.05" fill="#0f110f"/>
<rect x="215.58" y="238.70" width="15.59" height="1.05" fill="#101210"/>
<rect x="215.58" y="239.70" width="15.59" height="1.05" fill="#0d0d0d"/>
<rect x="215.58" y="240.70" width="15.59" height="2.05" fill="#141914"/>
<rect x="215.58" y="242.70" width="15.59" height="1.55" fill="#1e2c1e"/>
<rect x="215.58" y="244.20" width="15.59" height="1.05" fill="#0b0b0b"/>
<rect x="215.58" y="245.20" width="15.59" height="2.05" fill="#1d291d"/>
<rect x="215.58" y="247.20" width="15.59" height="1.05" fill="#0d0d0d"/>
<rect x="215.58" y="248.20" width="15.59" height="1.05" fill="#101210"/>
<rect x="215.58" y="249.20" width="15.59" height="2.05" fill="#131613"/>
<rect x="215.58" y="251.20" width="15.59" height="1.05" fill="#121512"/>
<rect x="215.58" y="252.20" width="15.59" height="2.05" fill="#141914"/>
<rect x="215.58" y="254.20" width="15.59" height="2.05" fill="#141814"/>
<rect x="215.58" y="256.20" width="15.59" height="1.55" fill="#0f110f"/>
<rect x="215.58" y="257.70" width="15.59" height="1.05" fill="#111411"/>
<rect x="215.58" y="258.70" width="15.59" height="1.05" fill="#0e0f0e"/>
<rect x="215.58" y="259.70" width="15.59" height="1.05" fill="#111411"/>
<rect x="215.58" y="260.70" width="15.59" height="2.05" fill="#1d291d"/>
<rect x="215.58" y="262.70" width="15.59" height="1.05" fill="#171d17"/>
<rect x="215.58" y="263.70" width="15.59" height="1.05" fill="#0c0d0c"/>
<rect x="215.58" y="264.70" width="15.59" height="1.55" fill="#151915"/>
<rect x="215.58" y="266.20" width="15.59" height="1.05" fill="#0f110f"/>
<rect x="215.58" y="267.20" width="15.59" height="2.05" fill="#0b0b0b"/>
<rect x="215.58" y="269.20" width="15.59" height="1.05" fill="#131713"/>
<rect x="215.58" y="270.20" width="15.59" height="2.05" fill="#243724"/>
<rect x="215.58" y="272.20" width="15.59" height="1.05" fill="#0e0e0e"/>
<rect x="215.58" y="273.20" width="15.59" height="2.05" fill="#101110"/>
<rect x="215.58" y="275.20" width="15.59" height="1.05" fill="#0b0b0b"/>
<rect x="215.58" y="276.20" width="15.59" height="1.05" fill="#213221"/>
<rect x="215.58" y="277.20" width="15.59" height="2.05" fill="#141914"/>
<rect x="215.58" y="279.20" width="15.59" height="2.05" fill="#121512"/>
<rect x="215.58" y="281.20" width="15.59" height="1.05" fill="#101210"/>
<rect x="215.58" y="282.20" width="15.59" height="1.05" fill="#0f100f"/>
<rect x="215.58" y="283.20" width="15.59" height="1.05" fill="#0e0f0e"/>
<rect x="215.58" y="284.20" width="15.59" height="2.05" fill="#1b261b"/>
<rect x="215.58" y="286.20" width="15.59" height="1.05" fill="#090808"/>
<rect x="215.58" y="287.20" width="15.59" height="2.05" fill="#080808"/>
<rect x="215.58" y="289.20" width="15.59" height="1.05" fill="#101210"/>
<rect x="215.58" y="290.20" width="15.59" height="3.05" fill="#0f100f"/>
<rect x="215.58" y="293.20" width="15.59" height="1.55" fill="#213221"/>
<rect x="215.58" y="294.70" width="15.59" height="2.05" fill="#0f110f"/>
<rect x="215.58" y="296.70" width="15.59" height="1.55" fill="#151915"/>
<rect x="215.58" y="298.20" width="15.59" height="1.05" fill="#111311"/>
<rect x="215.58" y="299.20" width="15.59" height="1.55" fill="#111411"/>
<rect x="215.58" y="300.70" width="15.59" height="2.05" fill="#0a0a0a"/>
<rect x="215.58" y="302.70" width="15.59" height="1.55" fill="#090808"/>
<rect x="215.58" y="304.20" width="15.59" height="1.05" fill="#141914"/>
<rect x="215.58" y="305.20" width="15.59" height="1.05" fill="#0a0a0a"/>
<rect x="215.58" y="306.20" width="15.59" height="1.05" fill="#111311"/>
<rect x="215.58" y="307.20" width="15.59" height="1.05" fill="#080808"/>
<rect x="215.58" y="308.20" width="15.59" height="2.05" fill="#101210"/>
<rect x="215.58" y="310.20" width="15.59" height="2.05" fill="#151a15"/>
<rect x="215.58" y="312.20" width="15.59" height="1.05" fill="#0d0e0d"/>
<rect x="215.58" y="313.20" width="15.59" height="2.05" fill="#0b0b0b"/>
<rect x="215.58" y="315.20" width="15.59" height="1.55" fill="#090909"/>
<rect x="215.58" y="316.70" width="15.59" height="1.05" fill="#111311"/>
<rect x="215.58" y="317.70" width="15.59" height="1.55" fill="#090809"/>
<rect x="215.58" y="319.20" width="15.59" height="1.05" fill="#111311"/>
<rect x="215.58" y="320.20" width="15.59" height="2.05" fill="#101310"/>
<rect x="215.58" y="322.20" width="15.59" height="1.05" fill="#101210"/>
<rect x="215.58" y="323.20" width="15.59" height="1.05" fill="#141814"/>
<rect x="215.58" y="324.20" width="15.59" height="2.05" fill="#0a0908"/>
<rect x="215.58" y="326.20" width="15.59" height="1.55" fill="#111311"/>
<rect x="215.58" y="327.70" width="15.59" height="1.05" fill="#161b16"/>
<rect x="215.58" y="328.70" width="15.59" height="1.05" fill="#0c0c0c"/>
<rect x="215.58" y="329.70" width="15.59" height="2.55" fill="#141814"/>
<rect x="215.58" y="332.20" width="15.59" height="1.55" fill="#0d0d0d"/>
<rect x="215.58" y="333.70" width="15.59" height="1.05" fill="#0f110f"/>
<rect x="215.58" y="334.70" width="15.59" height="1.05" fill="#0c0c0c"/>
<rect x="215.58" y="335.70" width="15.59" height="2.05" fill="#294329"/>
<rect x="215.58" y="337.70" width="15.59" height="3.05" fill="#0c0c0c"/>
<rect x="215.58" y="340.70" width="15.59" height="1.05" fill="#0b0a0b"/>
<rect x="215.58" y="341.70" width="15.59" height="1.05" fill="#0c0c0c"/>
<rect x="215.58" y="342.70" width="15.59" height="2.05" fill="#0e0f0e"/>
<rect x="215.58" y="344.70" width="15.59" height="1.55" fill="#0e100e"/>
<rect x="215.58" y="346.20" width="15.59" height="2.05" fill="#0d0e0d"/>
<rect x="215.58" y="348.20" width="15.59" height="1.55" fill="#090808"/>
<rect x="215.58" y="349.70" width="15.59" height="1.05" fill="#121512"/>
<rect x="215.58" y="350.70" width="15.59" height="1.05" fill="#0b0b0b"/>
<rect x="215.58" y="351.70" width="15.59" height="1.05" fill="#0e0f0e"/>
<rect x="215.58" y="352.70" width="15.59" height="2.55" fill="#090808"/>
<rect x="215.58" y="355.20" width="15.59" height="1.05" fill="#090909"/>
<rect x="215.58" y="356.20" width="15.59" height="1.05" fill="#141914"/>
<rect x="215.58" y="357.20" width="15.59" height="2.05" fill="#111411"/>
<rect x="215.58" y="359.20" width="15.59" height="1.55" fill="#111311"/>
<rect x="215.58" y="360.70" width="15.59" height="1.05" fill="#0f100f"/>
<rect x="215.58" y="361.70" width="15.59" height="1.55" fill="#0d0e0d"/>
<rect x="215.58" y="363.20" width="15.59" height="1.05" fill="#080808"/>
<rect x="215.58" y="364.20" width="15.59" height="1.05" fill="#101210"/>
<rect x="215.58" y="365.20" width="15.59" height="1.55" fill="#0d0e0d"/>
<rect x="215.58" y="366.70" width="15.59" height="1.05" fill="#151a15"/>
<rect x="215.58" y="367.70" width="15.59" height="1.05" fill="#0e0f0e"/>
<rect x="215.58" y="368.70" width="15.59" height="2.05" fill="#0a0a0a"/>
<rect x="215.58" y="370.70" width="15.59" height="1.05" fill="#101310"/>
<rect x="215.58" y="371.70" width="15.59" height="1.55" fill="#0e0f0e"/>
<rect x="215.58" y="373.20" width="15.59" height="1.05" fill="#1b261b"/>
<rect x="215.58" y="374.20" width="15.59" height="1.05" fill="#090909"/>
<rect x="215.58" y="375.20" width="15.59" height="1.05" fill="#0f110f"/>
<rect x="215.58" y="376.20" width="15.59" height="1.05" fill="#0a0a0a"/>
<rect x="215.58" y="377.20" width="15.59" height="1.05" fill="#121512"/>
<rect x="215.58" y="378.20" width="15.59" height="1.55" fill="#0b0a0b"/>
<rect x="215.58" y="379.70" width="15.59" height="1.55" fill="#171e17"/>
<rect x="215.58" y="381.20" width="15.59" height="1.55" fill="#181f18"/>
<rect x="215.58" y="382.70" width="15.59" height="1.05" fill="#0c0c0c"/>
<rect x="215.58" y="383.70" width="15.59" height="1.05" fill="#111311"/>
<rect x="215.58" y="384.70" width="15.59" height="1.55" fill="#121512"/>
<rect x="215.58" y="386.20" width="15.59" height="3.55" fill="#0a0a0a"/>
<rect x="215.58" y="389.70" width="15.59" height="1.05" fill="#0a0908"/>
<rect x="215.58" y="390.70" width="15.59" height="1.05" fill="#090808"/>
<rect x="215.58" y="391.70" width="15.59" height="1.55" fill="#141814"/>
<rect x="215.58" y="393.20" width="15.59" height="2.05" fill="#131813"/>
<rect x="215.58" y="395.20" width="15.59" height="1.05" fill="#111311"/>
<rect x="215.58" y="396.20" width="15.59" height="1.55" fill="#0c0c0c"/>
<rect x="215.58" y="397.70" width="15.59" height="1.05" fill="#101110"/>
<rect x="215.58" y="398.70" width="15.59" height="1.55" fill="#0f110f"/>
<rect x="215.58" y="400.20" width="15.59" height="1.05" fill="#090808"/>
<rect x="215.58" y="401.20" width="15.59" height="1.05" fill="#111311"/>
<rect x="215.58" y="402.20" width="15.59" height="1.05" fill="#401a11"/>
<rect x="215.58" y="403.20" width="15.59" height="1.05" fill="#0d0e0d"/>
<rect x="215.58" y="404.20" width="15.59" height="1.05" fill="#080808"/>
<rect x="215.58" y="405.20" width="15.59" height="1.05" fill="#0d0d0d"/>
<rect x="215.58" y="406.20" width="15.59" height="1.05" fill="#141814"/>
<rect x="215.58" y="407.20" width="15.59" height="1.05" fill="#171d17"/>
<rect x="215.58" y="408.20" width="15.59" height="1.55" fill="#0a0908"/>
<rect x="215.58" y="409.70" width="15.59" height="2.05" fill="#080808"/>
<rect x="215.58" y="411.70" width="15.59" height="1.05" fill="#121612"/>
<rect x="215.58" y="412.70" width="15.59" height="1.05" fill="#0f100f"/>
<rect x="215.58" y="413.70" width="15.59" height="1.05" fill="#0f110f"/>
<rect x="215.58" y="414.70" width="15.59" height="1.05" fill="#101210"/>
<rect x="215.58" y="415.70" width="15.59" height="1.05" fill="#100b09"/>
<rect x="215.58" y="416.70" width="15.59" height="1.55" fill="#080808"/>
<rect x="215.58" y="418.20" width="15.59" height="2.05" fill="#110b09"/>
<rect x="215.58" y="420.20" width="15.59" height="1.05" fill="#1c271c"/>
<rect x="215.58" y="421.20" width="15.59" height="2.05" fill="#130b0a"/>
<rect x="215.58" y="423.20" width="15.59" height="2.05" fill="#120b0a"/>
<rect x="215.58" y="425.20" width="15.59" height="1.05" fill="#131713"/>
<rect x="215.58" y="426.20" width="15.59" height="1.05" fill="#0c0d0c"/>
<rect x="215.58" y="427.20" width="15.59" height="4.05" fill="#111411"/>
<rect x="215.58" y="431.20" width="15.59" height="1.05" fill="#121512"/>
<rect x="215.58" y="432.20" width="15.59" height="1.55" fill="#181f18"/>
<rect x="215.58" y="433.70" width="15.59" height="2.05" fill="#0f110f"/>
<rect x="215.58" y="435.70" width="15.59" height="1.55" fill="#0d0a09"/>
<rect x="215.58" y="437.20" width="15.59" height="1.55" fill="#080808"/>
<rect x="215.58" y="438.70" width="15.59" height="1.55" fill="#161b16"/>
<rect x="215.58" y="440.20" width="15.59" height="1.55" fill="#131713"/>
<rect x="215.58" y="441.70" width="15.59" height="2.55" fill="#150c0a"/>
<rect x="215.58" y="444.20" width="15.59" height="1.55" fill="#0a0908"/>
<rect x="215.58" y="445.70" width="15.59" height="1.05" fill="#121512"/>
<rect x="215.58" y="446.70" width="15.59" height="1.05" fill="#0f100f"/>
<rect x="215.58" y="447.70" width="15.59" height="1.05" fill="#1d281d"/>
<rect x="215.58" y="448.70" width="15.59" height="2.55" fill="#0a0908"/>
<rect x="215.58" y="451.20" width="15.59" height="1.05" fill="#090909"/>
<rect x="215.58" y="452.20" width="15.59" height="1.05" fill="#111311"/>
<rect x="215.58" y="453.20" width="15.59" height="1.05" fill="#151a15"/>
<rect x="215.58" y="454.20" width="15.59" height="2.05" fill="#34160f"/>
<rect x="215.58" y="456.20" width="15.59" height="1.05" fill="#141914"/>
<rect x="215.58" y="457.20" width="15.59" height="1.05" fill="#3c1810"/>
<rect x="215.58" y="458.20" width="15.59" height="1.05" fill="#0c0d0c"/>
<rect x="215.58" y="459.20" width="15.59" height="2.05" fill="#090808"/>
<rect x="215.58" y="461.20" width="15.59" height="1.05" fill="#111311"/>
<rect x="215.58" y="462.20" width="15.59" height="2.05" fill="#0a0908"/>
<rect x="215.58" y="464.20" width="15.59" height="1.05" fill="#110b09"/>
<rect x="215.58" y="465.20" width="15.59" height="1.05" fill="#0b0b0b"/>
<rect x="215.58" y="466.20" width="15.59" height="2.05" fill="#0d0e0d"/>
<rect x="215.58" y="468.20" width="15.59" height="1.05" fill="#111311"/>
<rect x="215.58" y="469.20" width="15.59" height="1.05" fill="#090808"/>
<rect x="215.58" y="470.20" width="15.59" height="1.05" fill="#080808"/>
<rect x="215.58" y="471.20" width="15.59" height="2.05" fill="#171e17"/>
<rect x="215.58" y="473.20" width="15.59" height="1.55" fill="#0f100f"/>
<rect x="215.58" y="474.70" width="15.59" height="1.05" fill="#121512"/>
<rect x="215.58" y="475.70" width="15.59" height="1.05" fill="#0c0c0c"/>
<rect x="215.58" y="476.70" width="15.59" height="1.05" fill="#141814"/>
<rect x="215.58" y="477.70" width="15.59" height="1.85" fill="#0f110f"/>
<rect x="230.87" y="217.20" width="15.59" height="1.05" fill="#1e2b1e"/>
<rect x="230.87" y="218.20" width="15.59" height="1.05" fill="#171d17"/>
<rect x="230.87" y="219.20" width="15.59" height="1.55" fill="#0e0f0e"/>
<rect x="230.87" y="220.70" width="15.59" height="1.05" fill="#1d291d"/>
<rect x="230.87" y="221.70" width="15.59" height="1.05" fill="#0e0e0e"/>
<rect x="230.87" y="222.70" width="15.59" height="2.05" fill="#171d17"/>
<rect x="230.87" y="224.70" width="15.59" height="1.05" fill="#1d2a1d"/>
<rect x="230.87" y="225.70" width="15.59" height="1.05" fill="#1a231a"/>
<rect x="230.87" y="226.70" width="15.59" height="3.05" fill="#171e17"/>
<rect x="230.87" y="229.70" width="15.59" height="3.05" fill="#181f18"/>
<rect x="230.87" y="232.70" width="15.59" height="1.05" fill="#192119"/>
<rect x="230.87" y="233.70" width="15.59" height="1.05" fill="#1d291d"/>
<rect x="230.87" y="234.70" width="15.59" height="1.55" fill="#0e0f0e"/>
<rect x="230.87" y="236.20" width="15.59" height="1.55" fill="#243824"/>
<rect x="230.87" y="237.70" width="15.59" height="2.05" fill="#1a241a"/>
<rect x="230.87" y="239.70" width="15.59" height="1.05" fill="#1f2e1f"/>
<rect x="230.87" y="240.70" width="15.59" height="2.05" fill="#1e2c1e"/>
<rect x="230.87" y="242.70" width="15.59" height="1.55" fill="#223422"/>
<rect x="230.87" y="244.20" width="15.59" height="1.05" fill="#1c271c"/>
<rect x="230.87" y="245.20" width="15.59" height="2.05" fill="#192219"/>
<rect x="230.87" y="247.20" width="15.59" height="1.05" fill="#182018"/>
<rect x="230.87" y="248.20" width="15.59" height="1.05" fill="#2e4e2e"/>
<rect x="230.87" y="249.20" width="15.59" height="2.05" fill="#1f2d1f"/>
<rect x="230.87" y="251.20" width="15.59" height="1.05" fill="#192119"/>
<rect x="230.87" y="252.20" width="15.59" height="2.05" fill="#202f20"/>
<rect x="230.87" y="254.20" width="15.59" height="2.05" fill="#1d2a1d"/>
<rect x="230.87" y="256.20" width="15.59" height="1.55" fill="#171e17"/>
<rect x="230.87" y="257.70" width="15.59" height="1.05" fill="#182018"/>
<rect x="230.87" y="258.70" width="15.59" height="1.05" fill="#161c16"/>
<rect x="230.87" y="259.70" width="15.59" height="1.05" fill="#213221"/>
<rect x="230.87" y="260.70" width="15.59" height="2.05" fill="#1b251b"/>
<rect x="230.87" y="262.70" width="15.59" height="1.05" fill="#203020"/>
<rect x="230.87" y="263.70" width="15.59" height="1.05" fill="#1b251b"/>
<rect x="230.87" y="264.70" width="15.59" height="1.55" fill="#1f2d1f"/>
<rect x="230.87" y="266.20" width="15.59" height="1.05" fill="#1e2b1e"/>
<rect x="230.87" y="267.20" width="15.59" height="2.05" fill="#182018"/>
<rect x="230.87" y="269.20" width="15.59" height="1.05" fill="#192219"/>
<rect x="230.87" y="270.20" width="15.59" height="2.05" fill="#2a452a"/>
<rect x="230.87" y="272.20" width="15.59" height="1.05" fill="#151b15"/>
<rect x="230.87" y="273.20" width="15.59" height="2.05" fill="#1f2c1f"/>
<rect x="230.87" y="275.20" width="15.59" height="1.05" fill="#1b251b"/>
<rect x="230.87" y="276.20" width="15.59" height="1.05" fill="#1e2b1e"/>
<rect x="230.87" y="277.20" width="15.59" height="2.05" fill="#273f27"/>
<rect x="230.87" y="279.20" width="15.59" height="2.05" fill="#203020"/>
<rect x="230.87" y="281.20" width="15.59" height="1.05" fill="#161d16"/>
<rect x="230.87" y="282.20" width="15.59" height="1.05" fill="#1c281c"/>
<rect x="230.87" y="283.20" width="15.59" height="1.05" fill="#181f18"/>
<rect x="230.87" y="284.20" width="15.59" height="2.05" fill="#1e2b1e"/>
<rect x="230.87" y="286.20" width="15.59" height="1.05" fill="#233623"/>
<rect x="230.87" y="287.20" width="15.59" height="2.05" fill="#0e0f0e"/>
<rect x="230.87" y="289.20" width="15.59" height="1.05" fill="#233523"/>
<rect x="230.87" y="290.20" width="15.59" height="2.05" fill="#1d291d"/>
<rect x="230.87" y="292.20" width="15.59" height="1.05" fill="#1c271c"/>
<rect x="230.87" y="293.20" width="15.59" height="1.55" fill="#1d281d"/>
<rect x="230.87" y="294.70" width="15.59" height="2.05" fill="#192219"/>
<rect x="230.87" y="296.70" width="15.59" height="1.55" fill="#182018"/>
<rect x="230.87" y="298.20" width="15.59" height="1.05" fill="#161c16"/>
<rect x="230.87" y="299.20" width="15.59" height="1.55" fill="#1a221a"/>
<rect x="230.87" y="300.70" width="15.59" height="3.55" fill="#0e0f0e"/>
<rect x="230.87" y="304.20" width="15.59" height="1.05" fill="#192119"/>
<rect x="230.87" y="305.20" width="15.59" height="1.05" fill="#0d0e0d"/>
<rect x="230.87" y="306.20" width="15.59" height="1.05" fill="#181f18"/>
<rect x="230.87" y="307.20" width="15.59" height="1.05" fill="#0d0e0d"/>
<rect x="230.87" y="308.20" width="15.59" height="1.05" fill="#1d2a1d"/>
<rect x="230.87" y="309.20" width="15.59" height="1.05" fill="#202f20"/>
<rect x="230.87" y="310.20" width="15.59" height="2.05" fill="#213121"/>
<rect x="230.87" y="312.20" width="15.59" height="1.05" fill="#1a231a"/>
<rect x="230.87" y="313.20" width="15.59" height="2.05" fill="#0e0f0e"/>
<rect x="230.87" y="315.20" width="15.59" height="1.55" fill="#0d0e0d"/>
<rect x="230.87" y="316.70" width="15.59" height="1.05" fill="#192219"/>
<rect x="230.87" y="317.70" width="15.59" height="1.55" fill="#101210"/>
<rect x="230.87" y="319.20" width="15.59" height="1.05" fill="#192119"/>
<rect x="230.87" y="320.20" width="15.59" height="2.05" fill="#1c281c"/>
<rect x="230.87" y="322.20" width="15.59" height="1.05" fill="#1b251b"/>
<rect x="230.87" y="323.20" width="15.59" height="1.05" fill="#131713"/>
<rect x="230.87" y="324.20" width="15.59" height="2.05" fill="#1b251b"/>
<rect x="230.87" y="326.20" width="15.59" height="1.55" fill="#1c271c"/>
<rect x="230.87" y="327.70" width="15.59" height="1.05" fill="#1b251b"/>
<rect x="230.87" y="328.70" width="15.59" height="1.05" fill="#1a241a"/>
<rect x="230.87" y="329.70" width="15.59" height="1.05" fill="#1a231a"/>
<rect x="230.87" y="330.70" width="15.59" height="3.05" fill="#1c271c"/>
<rect x="230.87" y="333.70" width="15.59" height="1.05" fill="#192119"/>
<rect x="230.87" y="334.70" width="15.59" height="1.05" fill="#1d2a1d"/>
<rect x="230.87" y="335.70" width="15.59" height="2.05" fill="#223222"/>
<rect x="230.87" y="337.70" width="15.59" height="2.05" fill="#192119"/>
<rect x="230.87" y="339.70" width="15.59" height="1.05" fill="#0f100f"/>
<rect x="230.87" y="340.70" width="15.59" height="1.05" fill="#1a231a"/>
<rect x="230.87" y="341.70" width="15.59" height="1.05" fill="#0f100f"/>
<rect x="230.87" y="342.70" width="15.59" height="2.05" fill="#161c16"/>
<rect x="230.87" y="344.70" width="15.59" height="1.55" fill="#1c281c"/>
<rect x="230.87" y="346.20" width="15.59" height="3.55" fill="#203020"/>
<rect x="230.87" y="349.70" width="15.59" height="1.05" fill="#192219"/>
<rect x="230.87" y="350.70" width="15.59" height="1.05" fill="#0f110f"/>
<rect x="230.87" y="351.70" width="15.59" height="1.05" fill="#192219"/>
<rect x="230.87" y="352.70" width="15.59" height="1.55" fill="#1a231a"/>
<rect x="230.87" y="354.20" width="15.59" height="1.05" fill="#1f2d1f"/>
<rect x="230.87" y="355.20" width="15.59" height="1.05" fill="#0d0e0d"/>
<rect x="230.87" y="356.20" width="15.59" height="1.05" fill="#1a231a"/>
<rect x="230.87" y="357.20" width="15.59" height="2.05" fill="#1d281d"/>
<rect x="230.87" y="359.20" width="15.59" height="1.55" fill="#161d16"/>
<rect x="230.87" y="360.70" width="15.59" height="1.05" fill="#1a231a"/>
<rect x="230.87" y="361.70" width="15.59" height="1.55" fill="#1f2c1f"/>
<rect x="230.87" y="363.20" width="15.59" height="1.05" fill="#1c281c"/>
<rect x="230.87" y="364.20" width="15.59" height="1.05" fill="#151b15"/>
<rect x="230.87" y="365.20" width="15.59" height="1.55" fill="#213021"/>
<rect x="230.87" y="366.70" width="15.59" height="1.05" fill="#1a231a"/>
<rect x="230.87" y="367.70" width="15.59" height="1.05" fill="#1d291d"/>
<rect x="230.87" y="368.70" width="15.59" height="2.05" fill="#121512"/>
<rect x="230.87" y="370.70" width="15.59" height="1.05" fill="#1b251b"/>
<rect x="230.87" y="371.70" width="15.59" height="1.55" fill="#1d291d"/>
<rect x="230.87" y="373.20" width="15.59" height="1.05" fill="#1b251b"/>
<rect x="230.87" y="374.20" width="15.59" height="1.05" fill="#0e0f0e"/>
<rect x="230.87" y="375.20" width="15.59" height="1.05" fill="#181f18"/>
<rect x="230.87" y="376.20" width="15.59" height="1.05" fill="#0f100f"/>
<rect x="230.87" y="377.20" width="15.59" height="1.05" fill="#161c16"/>
<rect x="230.87" y="378.20" width="15.59" height="1.55" fill="#192119"/>
<rect x="230.87" y="379.70" width="15.59" height="1.55" fill="#1c271c"/>
<rect x="230.87" y="381.20" width="15.59" height="1.55" fill="#1a231a"/>
<rect x="230.87" y="382.70" width="15.59" height="1.05" fill="#1a221a"/>
<rect x="230.87" y="383.70" width="15.59" height="1.05" fill="#0f100f"/>
<rect x="230.87" y="384.70" width="15.59" height="1.55" fill="#1b251b"/>
<rect x="230.87" y="386.20" width="15.59" height="1.55" fill="#0f110f"/>
<rect x="230.87" y="387.70" width="15.59" height="2.05" fill="#0e0f0e"/>
<rect x="230.87" y="389.70" width="15.59" height="1.05" fill="#192119"/>
<rect x="230.87" y="390.70" width="15.59" height="1.05" fill="#192219"/>
<rect x="230.87" y="391.70" width="15.59" height="1.55" fill="#182018"/>
<rect x="230.87" y="393.20" width="15.59" height="2.05" fill="#1b261b"/>
<rect x="230.87" y="395.20" width="15.59" height="1.05" fill="#192119"/>
<rect x="230.87" y="396.20" width="15.59" height="1.55" fill="#151a15"/>
<rect x="230.87" y="397.70" width="15.59" height="1.05" fill="#1f2d1f"/>
<rect x="230.87" y="398.70" width="15.59" height="1.55" fill="#1e2b1e"/>
<rect x="230.87" y="400.20" width="15.59" height="1.05" fill="#1c261c"/>
<rect x="230.87" y="401.20" width="15.59" height="1.05" fill="#1a231a"/>
<rect x="230.87" y="402.20" width="15.59" height="1.05" fill="#0c0c0c"/>
<rect x="230.87" y="403.20" width="15.59" height="1.05" fill="#0a090a"/>
<rect x="230.87" y="404.20" width="15.59" height="1.05" fill="#0f110f"/>
<rect x="230.87" y="405.20" width="15.59" height="1.05" fill="#632517"/>
<rect x="230.87" y="406.20" width="15.59" height="1.05" fill="#120b0a"/>
<rect x="230.87" y="407.20" width="15.59" height="1.05" fill="#181f18"/>
<rect x="230.87" y="408.20" width="15.59" height="1.55" fill="#171e17"/>
<rect x="230.87" y="409.70" width="15.59" height="2.05" fill="#080808"/>
<rect x="230.87" y="411.70" width="15.59" height="1.05" fill="#1f2d1f"/>
<rect x="230.87" y="412.70" width="15.59" height="1.05" fill="#121512"/>
<rect x="230.87" y="413.70" width="15.59" height="2.05" fill="#0c0909"/>
<rect x="230.87" y="415.70" width="15.59" height="1.05" fill="#0b0908"/>
<rect x="230.87" y="416.70" width="15.59" height="1.55" fill="#0c0909"/>
<rect x="230.87" y="418.20" width="15.59" height="2.05" fill="#192219"/>
<rect x="230.87" y="420.20" width="15.59" height="1.05" fill="#28120d"/>
<rect x="230.87" y="421.20" width="15.59" height="2.05" fill="#471c12"/>
<rect x="230.87" y="423.20" width="15.59" height="2.05" fill="#161d16"/>
<rect x="230.87" y="425.20" width="15.59" height="1.05" fill="#0b0908"/>
<rect x="230.87" y="426.20" width="15.59" height="1.05" fill="#0f0a09"/>
<rect x="230.87" y="427.20" width="15.59" height="2.05" fill="#121512"/>
<rect x="230.87" y="429.20" width="15.59" height="2.05" fill="#0f110f"/>
<rect x="230.87" y="431.20" width="15.59" height="1.05" fill="#1e0f0c"/>
<rect x="230.87" y="432.20" width="15.59" height="1.55" fill="#100a09"/>
<rect x="230.87" y="433.70" width="15.59" height="2.05" fill="#151b15"/>
<rect x="230.87" y="435.70" width="15.59" height="1.55" fill="#0e0a09"/>
<rect x="230.87" y="437.20" width="15.59" height="1.55" fill="#190d0b"/>
<rect x="230.87" y="438.70" width="15.59" height="1.55" fill="#141914"/>
<rect x="230.87" y="440.20" width="15.59" height="1.55" fill="#0b0908"/>
<rect x="230.87" y="441.70" width="15.59" height="1.05" fill="#131713"/>
<rect x="230.87" y="442.70" width="15.59" height="1.55" fill="#1e2b1e"/>
<rect x="230.87" y="444.20" width="15.59" height="1.55" fill="#090808"/>
<rect x="230.87" y="445.70" width="15.59" height="1.05" fill="#0b0b0b"/>
<rect x="230.87" y="446.70" width="15.59" height="1.05" fill="#131613"/>
<rect x="230.87" y="447.70" width="15.59" height="1.05" fill="#1b251b"/>
<rect x="230.87" y="448.70" width="15.59" height="1.05" fill="#080808"/>
<rect x="230.87" y="449.70" width="15.59" height="1.55" fill="#101210"/>
<rect x="230.87" y="451.20" width="15.59" height="1.05" fill="#0e0a09"/>
<rect x="230.87" y="452.20" width="15.59" height="1.05" fill="#111311"/>
<rect x="230.87" y="453.20" width="15.59" height="1.05" fill="#0c0d0c"/>
<rect x="230.87" y="454.20" width="15.59" height="2.05" fill="#0d0d0d"/>
<rect x="230.87" y="456.20" width="15.59" height="1.05" fill="#0a0908"/>
<rect x="230.87" y="457.20" width="15.59" height="1.05" fill="#0e0f0e"/>
<rect x="230.87" y="458.20" width="15.59" height="1.05" fill="#090808"/>
<rect x="230.87" y="459.20" width="15.59" height="2.05" fill="#080808"/>
<rect x="230.87" y="461.20" width="15.59" height="1.05" fill="#0a0908"/>
<rect x="230.87" y="462.20" width="15.59" height="2.05" fill="#130c0a"/>
<rect x="230.87" y="464.20" width="15.59" height="1.05" fill="#150c0a"/>
<rect x="230.87" y="465.20" width="15.59" height="1.05" fill="#0a0908"/>
<rect x="230.87" y="466.20" width="15.59" height="2.05" fill="#101110"/>
<rect x="230.87" y="468.20" width="15.59" height="1.05" fill="#0a0908"/>
<rect x="230.87" y="469.20" width="15.59" height="1.05" fill="#101110"/>
<rect x="230.87" y="470.20" width="15.59" height="1.05" fill="#1f2d1f"/>
<rect x="230.87" y="471.20" width="15.59" height="2.05" fill="#1a0e0b"/>
<rect x="230.87" y="473.20" width="15.59" height="1.55" fill="#111311"/>
<rect x="230.87" y="474.70" width="15.59" height="1.05" fill="#090909"/>
<rect x="230.87" y="475.70" width="15.59" height="1.05" fill="#0d0d0d"/>
<rect x="230.87" y="476.70" width="15.59" height="1.05" fill="#111411"/>
<rect x="230.87" y="477.70" width="15.59" height="1.85" fill="#0f100f"/>
<rect x="246.16" y="217.20" width="15.59" height="1.05" fill="#1a241a"/>
<rect x="246.16" y="218.20" width="15.59" height="1.05" fill="#151b15"/>
<rect x="246.16" y="219.20" width="15.59" height="1.55" fill="#0e0e0e"/>
<rect x="246.16" y="220.70" width="15.59" height="1.05" fill="#1b241b"/>
<rect x="246.16" y="221.70" width="15.59" height="1.05" fill="#0c0c0c"/>
<rect x="246.16" y="222.70" width="15.59" height="2.05" fill="#192219"/>
<rect x="246.16" y="224.70" width="15.59" height="1.05" fill="#1c281c"/>
<rect x="246.16" y="225.70" width="15.59" height="1.05" fill="#192119"/>
<rect x="246.16" y="226.70" width="15.59" height="2.05" fill="#141814"/>
<rect x="246.16" y="228.70" width="15.59" height="1.05" fill="#131713"/>
<rect x="246.16" y="229.70" width="15.59" height="2.05" fill="#171f17"/>
<rect x="246.16" y="231.70" width="15.59" height="1.05" fill="#1b261b"/>
<rect x="246.16" y="232.70" width="15.59" height="1.05" fill="#181f18"/>
<rect x="246.16" y="233.70" width="15.59" height="1.05" fill="#161c16"/>
<rect x="246.16" y="234.70" width="15.59" height="1.55" fill="#0c0d0c"/>
<rect x="246.16" y="236.20" width="15.59" height="1.55" fill="#161d16"/>
<rect x="246.16" y="237.70" width="15.59" height="1.05" fill="#1a241a"/>
<rect x="246.16" y="238.70" width="15.59" height="1.05" fill="#171e17"/>
<rect x="246.16" y="239.70" width="15.59" height="1.05" fill="#233423"/>
<rect x="246.16" y="240.70" width="15.59" height="2.05" fill="#1d291d"/>
<rect x="246.16" y="242.70" width="15.59" height="4.55" fill="#182018"/>
<rect x="246.16" y="247.20" width="15.59" height="1.05" fill="#1a231a"/>
<rect x="246.16" y="248.20" width="15.59" height="1.05" fill="#1d2a1d"/>
<rect x="246.16" y="249.20" width="15.59" height="2.05" fill="#1b241b"/>
<rect x="246.16" y="251.20" width="15.59" height="1.05" fill="#253a25"/>
<rect x="246.16" y="252.20" width="15.59" height="2.05" fill="#273d27"/>
<rect x="246.16" y="254.20" width="15.59" height="2.05" fill="#1a241a"/>
<rect x="246.16" y="256.20" width="15.59" height="1.55" fill="#151b15"/>
<rect x="246.16" y="257.70" width="15.59" height="1.05" fill="#192119"/>
<rect x="246.16" y="258.70" width="15.59" height="1.05" fill="#151a15"/>
<rect x="246.16" y="259.70" width="15.59" height="1.05" fill="#1d2a1d"/>
<rect x="246.16" y="260.70" width="15.59" height="2.05" fill="#1e2b1e"/>
<rect x="246.16" y="262.70" width="15.59" height="1.05" fill="#1a231a"/>
<rect x="246.16" y="263.70" width="15.59" height="1.05" fill="#202f20"/>
<rect x="246.16" y="264.70" width="15.59" height="1.55" fill="#1e2c1e"/>
<rect x="246.16" y="266.20" width="15.59" height="1.05" fill="#1e2a1e"/>
<rect x="246.16" y="267.20" width="15.59" height="2.05" fill="#263c26"/>
<rect x="246.16" y="269.20" width="15.59" height="1.05" fill="#161b16"/>
<rect x="246.16" y="270.20" width="15.59" height="2.05" fill="#161c16"/>
<rect x="246.16" y="272.20" width="15.59" height="1.05" fill="#192219"/>
<rect x="246.16" y="273.20" width="15.59" height="2.05" fill="#1c281c"/>
<rect x="246.16" y="275.20" width="15.59" height="1.05" fill="#181f18"/>
<rect x="246.16" y="276.20" width="15.59" height="1.05" fill="#1f2d1f"/>
<rect x="246.16" y="277.20" width="15.59" height="2.05" fill="#161c16"/>
<rect x="246.16" y="279.20" width="15.59" height="2.05" fill="#182018"/>
<rect x="246.16" y="281.20" width="15.59" height="1.05" fill="#192219"/>
<rect x="246.16" y="282.20" width="15.59" height="1.05" fill="#1e2b1e"/>
<rect x="246.16" y="283.20" width="15.59" height="1.05" fill="#141914"/>
<rect x="246.16" y="284.20" width="15.59" height="2.05" fill="#171e17"/>
<rect x="246.16" y="286.20" width="15.59" height="1.05" fill="#161c16"/>
<rect x="246.16" y="287.20" width="15.59" height="2.05" fill="#0e0e0e"/>
<rect x="246.16" y="289.20" width="15.59" height="1.05" fill="#294229"/>
<rect x="246.16" y="290.20" width="15.59" height="2.05" fill="#1e2b1e"/>
<rect x="246.16" y="292.20" width="15.59" height="1.05" fill="#151a15"/>
<rect x="246.16" y="293.20" width="15.59" height="1.55" fill="#1b251b"/>
<rect x="246.16" y="294.70" width="15.59" height="2.05" fill="#151a15"/>
<rect x="246.16" y="296.70" width="15.59" height="1.55" fill="#192119"/>
<rect x="246.16" y="298.20" width="15.59" height="1.05" fill="#171e17"/>
<rect x="246.16" y="299.20" width="15.59" height="1.55" fill="#161c16"/>
<rect x="246.16" y="300.70" width="15.59" height="2.05" fill="#0d0e0d"/>
<rect x="246.16" y="302.70" width="15.59" height="1.55" fill="#0d0d0d"/>
<rect x="246.16" y="304.20" width="15.59" height="1.05" fill="#151a15"/>
<rect x="246.16" y="305.20" width="15.59" height="1.05" fill="#0e0e0e"/>
<rect x="246.16" y="306.20" width="15.59" height="1.05" fill="#171d17"/>
<rect x="246.16" y="307.20" width="15.59" height="1.05" fill="#0d0d0d"/>
<rect x="246.16" y="308.20" width="15.59" height="1.05" fill="#1c281c"/>
<rect x="246.16" y="309.20" width="15.59" height="1.05" fill="#1e2a1e"/>
<rect x="246.16" y="310.20" width="15.59" height="2.05" fill="#1e2b1e"/>
<rect x="246.16" y="312.20" width="15.59" height="1.05" fill="#1a231a"/>
<rect x="246.16" y="313.20" width="15.59" height="3.55" fill="#0d0d0d"/>
<rect x="246.16" y="316.70" width="15.59" height="1.05" fill="#141914"/>
<rect x="246.16" y="317.70" width="15.59" height="1.55" fill="#0d0e0d"/>
<rect x="246.16" y="319.20" width="15.59" height="3.05" fill="#192219"/>
<rect x="246.16" y="322.20" width="15.59" height="1.05" fill="#192119"/>
<rect x="246.16" y="323.20" width="15.59" height="1.05" fill="#171f17"/>
<rect x="246.16" y="324.20" width="15.59" height="2.05" fill="#1d291d"/>
<rect x="246.16" y="326.20" width="15.59" height="1.55" fill="#1b251b"/>
<rect x="246.16" y="327.70" width="15.59" height="1.05" fill="#181f18"/>
<rect x="246.16" y="328.70" width="15.59" height="1.05" fill="#1a231a"/>
<rect x="246.16" y="329.70" width="15.59" height="1.05" fill="#1b241b"/>
<rect x="246.16" y="330.70" width="15.59" height="1.55" fill="#1a241a"/>
<rect x="246.16" y="332.20" width="15.59" height="1.55" fill="#213121"/>
<rect x="246.16" y="333.70" width="15.59" height="1.05" fill="#1b251b"/>
<rect x="246.16" y="334.70" width="15.59" height="1.05" fill="#1a231a"/>
<rect x="246.16" y="335.70" width="15.59" height="2.05" fill="#1e2b1e"/>
<rect x="246.16" y="337.70" width="15.59" height="2.05" fill="#131713"/>
<rect x="246.16" y="339.70" width="15.59" height="1.05" fill="#0d0e0d"/>
<rect x="246.16" y="340.70" width="15.59" height="1.05" fill="#171f17"/>
<rect x="246.16" y="341.70" width="15.59" height="1.05" fill="#0c0d0c"/>
<rect x="246.16" y="342.70" width="15.59" height="2.05" fill="#131713"/>
<rect x="246.16" y="344.70" width="15.59" height="1.55" fill="#161c16"/>
<rect x="246.16" y="346.20" width="15.59" height="2.05" fill="#1a231a"/>
<rect x="246.16" y="348.20" width="15.59" height="1.55" fill="#1c281c"/>
<rect x="246.16" y="349.70" width="15.59" height="1.05" fill="#1a241a"/>
<rect x="246.16" y="350.70" width="15.59" height="1.05" fill="#0d0d0d"/>
<rect x="246.16" y="351.70" width="15.59" height="1.05" fill="#161c16"/>
<rect x="246.16" y="352.70" width="15.59" height="1.55" fill="#181f18"/>
<rect x="246.16" y="354.20" width="15.59" height="1.05" fill="#192119"/>
<rect x="246.16" y="355.20" width="15.59" height="1.05" fill="#0e100e"/>
<rect x="246.16" y="356.20" width="15.59" height="1.05" fill="#1c271c"/>
<rect x="246.16" y="357.20" width="15.59" height="2.05" fill="#171e17"/>
<rect x="246.16" y="359.20" width="15.59" height="1.55" fill="#161d16"/>
<rect x="246.16" y="360.70" width="15.59" height="1.05" fill="#1b241b"/>
<rect x="246.16" y="361.70" width="15.59" height="1.55" fill="#223322"/>
<rect x="246.16" y="363.20" width="15.59" height="1.05" fill="#181f18"/>
<rect x="246.16" y="364.20" width="15.59" height="1.05" fill="#202f20"/>
<rect x="246.16" y="365.20" width="15.59" height="1.55" fill="#1a241a"/>
<rect x="246.16" y="366.70" width="15.59" height="1.05" fill="#1a221a"/>
<rect x="246.16" y="367.70" width="15.59" height="1.05" fill="#192219"/>
<rect x="246.16" y="368.70" width="15.59" height="2.05" fill="#0e0e0e"/>
<rect x="246.16" y="370.70" width="15.59" height="1.05" fill="#151a15"/>
<rect x="246.16" y="371.70" width="15.59" height="1.55" fill="#171d17"/>
<rect x="246.16" y="373.20" width="15.59" height="1.05" fill="#161b16"/>
<rect x="246.16" y="374.20" width="15.59" height="1.05" fill="#0d0e0d"/>
<rect x="246.16" y="375.20" width="15.59" height="1.05" fill="#161b16"/>
<rect x="246.16" y="376.20" width="15.59" height="1.05" fill="#0e0f0e"/>
<rect x="246.16" y="377.20" width="15.59" height="2.55" fill="#1a231a"/>
<rect x="246.16" y="379.70" width="15.59" height="1.55" fill="#182018"/>
<rect x="246.16" y="381.20" width="15.59" height="1.55" fill="#121412"/>
<rect x="246.16" y="382.70" width="15.59" height="1.05" fill="#1a241a"/>
<rect x="246.16" y="383.70" width="15.59" height="1.05" fill="#0d0e0d"/>
<rect x="246.16" y="384.70" width="15.59" height="1.55" fill="#1b251b"/>
<rect x="246.16" y="386.20" width="15.59" height="1.55" fill="#0e0e0e"/>
<rect x="246.16" y="387.70" width="15.59" height="2.05" fill="#0c0d0c"/>
<rect x="246.16" y="389.70" width="15.59" height="1.05" fill="#1d2a1d"/>
<rect x="246.16" y="390.70" width="15.59" height="1.05" fill="#192119"/>
<rect x="246.16" y="391.70" width="15.59" height="3.55" fill="#181f18"/>
<rect x="246.16" y="395.20" width="15.59" height="1.05" fill="#161b16"/>
<rect x="246.16" y="396.20" width="15.59" height="1.55" fill="#121512"/>
<rect x="246.16" y="397.70" width="15.59" height="1.05" fill="#1d291d"/>
<rect x="246.16" y="398.70" width="15.59" height="1.55" fill="#1a231a"/>
<rect x="246.16" y="400.20" width="15.59" height="1.05" fill="#171e17"/>
<rect x="246.16" y="401.20" width="15.59" height="1.05" fill="#151b15"/>
<rect x="246.16" y="402.20" width="15.59" height="1.05" fill="#180d0b"/>
<rect x="246.16" y="403.20" width="15.59" height="1.05" fill="#0a0908"/>
<rect x="246.16" y="404.20" width="15.59" height="1.05" fill="#0e0f0e"/>
<rect x="246.16" y="405.20" width="15.59" height="1.05" fill="#0a0908"/>
<rect x="246.16" y="406.20" width="15.59" height="1.05" fill="#100b09"/>
<rect x="246.16" y="407.20" width="15.59" height="1.05" fill="#1f0f0c"/>
<rect x="246.16" y="408.20" width="15.59" height="3.55" fill="#090808"/>
<rect x="246.16" y="411.70" width="15.59" height="1.05" fill="#25110d"/>
<rect x="246.16" y="412.70" width="15.59" height="1.05" fill="#140c0a"/>
<rect x="246.16" y="413.70" width="15.59" height="1.05" fill="#0c0909"/>
<rect x="246.16" y="414.70" width="15.59" height="1.05" fill="#0b0b0b"/>
<rect x="246.16" y="415.70" width="15.59" height="1.05" fill="#140c0a"/>
<rect x="246.16" y="416.70" width="15.59" height="1.55" fill="#190d0b"/>
<rect x="246.16" y="418.20" width="15.59" height="2.05" fill="#1c0e0b"/>
<rect x="246.16" y="420.20" width="15.59" height="1.05" fill="#090808"/>
<rect x="246.16" y="421.20" width="15.59" height="2.05" fill="#0d0909"/>
<rect x="246.16" y="423.20" width="15.59" height="2.05" fill="#090808"/>
<rect x="246.16" y="425.20" width="15.59" height="1.05" fill="#160c0a"/>
<rect x="246.16" y="426.20" width="15.59" height="1.05" fill="#0d0a09"/>
<rect x="246.16" y="427.20" width="15.59" height="2.05" fill="#090808"/>
<rect x="246.16" y="429.20" width="15.59" height="2.05" fill="#111311"/>
<rect x="246.16" y="431.20" width="15.59" height="1.05" fill="#160d0a"/>
<rect x="246.16" y="432.20" width="15.59" height="1.55" fill="#111311"/>
<rect x="246.16" y="433.70" width="15.59" height="2.05" fill="#130b0a"/>
<rect x="246.16" y="435.70" width="15.59" height="1.55" fill="#1d0f0b"/>
<rect x="246.16" y="437.20" width="15.59" height="1.55" fill="#0a0a0a"/>
<rect x="246.16" y="438.70" width="15.59" height="1.55" fill="#181f18"/>
<rect x="246.16" y="440.20" width="15.59" height="1.55" fill="#0a0808"/>
<rect x="246.16" y="441.70" width="15.59" height="1.05" fill="#1c281c"/>
<rect x="246.16" y="442.70" width="15.59" height="1.55" fill="#5b2215"/>
<rect x="246.16" y="444.20" width="15.59" height="1.55" fill="#090808"/>
<rect x="246.16" y="445.70" width="15.59" height="1.05" fill="#160c0a"/>
<rect x="246.16" y="446.70" width="15.59" height="1.05" fill="#1e0f0c"/>
<rect x="246.16" y="447.70" width="15.59" height="1.05" fill="#110b09"/>
<rect x="246.16" y="448.70" width="15.59" height="1.05" fill="#0a0908"/>
<rect x="246.16" y="449.70" width="15.59" height="1.55" fill="#0f0a09"/>
<rect x="246.16" y="451.20" width="15.59" height="1.05" fill="#0e0a09"/>
<rect x="246.16" y="452.20" width="15.59" height="1.05" fill="#130b0a"/>
<rect x="246.16" y="453.20" width="15.59" height="1.05" fill="#170d0b"/>
<rect x="246.16" y="454.20" width="15.59" height="2.05" fill="#090809"/>
<rect x="246.16" y="456.20" width="15.59" height="1.05" fill="#0f0a09"/>
<rect x="246.16" y="457.20" width="15.59" height="2.05" fill="#0d0d0d"/>
<rect x="246.16" y="459.20" width="15.59" height="2.05" fill="#4b1d13"/>
<rect x="246.16" y="461.20" width="15.59" height="1.05" fill="#0f0a09"/>
<rect x="246.16" y="462.20" width="15.59" height="2.05" fill="#0e0a09"/>
<rect x="246.16" y="464.20" width="15.59" height="1.05" fill="#0a0808"/>
<rect x="246.16" y="465.20" width="15.59" height="1.05" fill="#090909"/>
<rect x="246.16" y="466.20" width="15.59" height="2.05" fill="#101210"/>
<rect x="246.16" y="468.20" width="15.59" height="1.05" fill="#130b0a"/>
<rect x="246.16" y="469.20" width="15.59" height="1.05" fill="#0f100f"/>
<rect x="246.16" y="470.20" width="15.59" height="1.05" fill="#1a0e0b"/>
<rect x="246.16" y="471.20" width="15.59" height="2.05" fill="#100b09"/>
<rect x="246.16" y="473.20" width="15.59" height="2.55" fill="#090808"/>
<rect x="246.16" y="475.70" width="15.59" height="1.05" fill="#141814"/>
<rect x="246.16" y="476.70" width="15.59" height="1.05" fill="#0e0a09"/>
<rect x="246.16" y="477.70" width="15.59" height="1.85" fill="#140c0a"/>
<rect x="261.45" y="217.20" width="15.59" height="1.05" fill="#111411"/>
<rect x="261.45" y="218.20" width="15.59" height="1.05" fill="#1a231a"/>
<rect x="261.45" y="219.20" width="15.59" height="1.55" fill="#0c0c0c"/>
<rect x="261.45" y="220.70" width="15.59" height="1.05" fill="#192219"/>
<rect x="261.45" y="221.70" width="15.59" height="1.05" fill="#0b0b0b"/>
<rect x="261.45" y="222.70" width="15.59" height="2.05" fill="#101110"/>
<rect x="261.45" y="224.70" width="15.59" height="1.05" fill="#0d0e0d"/>
<rect x="261.45" y="225.70" width="15.59" height="1.05" fill="#101310"/>
<rect x="261.45" y="226.70" width="15.59" height="2.05" fill="#101110"/>
<rect x="261.45" y="228.70" width="15.59" height="1.05" fill="#0c0c0c"/>
<rect x="261.45" y="229.70" width="15.59" height="2.05" fill="#131713"/>
<rect x="261.45" y="231.70" width="15.59" height="1.05" fill="#131613"/>
<rect x="261.45" y="232.70" width="15.59" height="1.05" fill="#0f100f"/>
<rect x="261.45" y="233.70" width="15.59" height="1.05" fill="#0c0c0c"/>
<rect x="261.45" y="234.70" width="15.59" height="1.55" fill="#0b0b0b"/>
<rect x="261.45" y="236.20" width="15.59" height="1.55" fill="#111411"/>
<rect x="261.45" y="237.70" width="15.59" height="2.05" fill="#121512"/>
<rect x="261.45" y="239.70" width="15.59" height="1.05" fill="#192219"/>
<rect x="261.45" y="240.70" width="15.59" height="2.05" fill="#151a15"/>
<rect x="261.45" y="242.70" width="15.59" height="1.55" fill="#090808"/>
<rect x="261.45" y="244.20" width="15.59" height="1.05" fill="#101110"/>
<rect x="261.45" y="245.20" width="15.59" height="2.05" fill="#080808"/>
<rect x="261.45" y="247.20" width="15.59" height="1.05" fill="#090808"/>
<rect x="261.45" y="248.20" width="15.59" height="1.05" fill="#080808"/>
<rect x="261.45" y="249.20" width="15.59" height="2.05" fill="#0a090a"/>
<rect x="261.45" y="251.20" width="15.59" height="3.05" fill="#090909"/>
<rect x="261.45" y="254.20" width="15.59" height="3.55" fill="#080808"/>
<rect x="261.45" y="257.70" width="15.59" height="1.05" fill="#090909"/>
<rect x="261.45" y="258.70" width="15.59" height="2.05" fill="#080808"/>
<rect x="261.45" y="260.70" width="15.59" height="2.05" fill="#0a0a0a"/>
<rect x="261.45" y="262.70" width="15.59" height="1.05" fill="#090808"/>
<rect x="261.45" y="263.70" width="15.59" height="5.55" fill="#080808"/>
<rect x="261.45" y="269.20" width="15.59" height="1.05" fill="#090809"/>
<rect x="261.45" y="270.20" width="15.59" height="2.05" fill="#090909"/>
<rect x="261.45" y="272.20" width="15.59" height="3.05" fill="#0a0a0a"/>
<rect x="261.45" y="275.20" width="15.59" height="1.05" fill="#090909"/>
<rect x="261.45" y="276.20" width="15.59" height="1.05" fill="#0b0b0b"/>
<rect x="261.45" y="277.20" width="15.59" height="2.05" fill="#080808"/>
<rect x="261.45" y="279.20" width="15.59" height="2.05" fill="#0a0a0a"/>
<rect x="261.45" y="281.20" width="15.59" height="3.05" fill="#080808"/>
<rect x="261.45" y="284.20" width="15.59" height="3.05" fill="#090909"/>
<rect x="261.45" y="287.20" width="15.59" height="2.05" fill="#090809"/>
<rect x="261.45" y="289.20" width="15.59" height="3.05" fill="#080808"/>
<rect x="261.45" y="292.20" width="15.59" height="1.05" fill="#090909"/>
<rect x="261.45" y="293.20" width="15.59" height="1.55" fill="#080808"/>
<rect x="261.45" y="294.70" width="15.59" height="2.05" fill="#090809"/>
<rect x="261.45" y="296.70" width="15.59" height="9.55" fill="#080808"/>
<rect x="261.45" y="306.20" width="15.59" height="1.05" fill="#0a0a0a"/>
<rect x="261.45" y="307.20" width="15.59" height="1.05" fill="#080808"/>
<rect x="261.45" y="308.20" width="15.59" height="4.05" fill="#090909"/>
<rect x="261.45" y="312.20" width="15.59" height="1.05" fill="#0a0a0a"/>
<rect x="261.45" y="313.20" width="15.59" height="2.05" fill="#080808"/>
<rect x="261.45" y="315.20" width="15.59" height="1.55" fill="#090909"/>
<rect x="261.45" y="316.70" width="15.59" height="1.05" fill="#0a0a0a"/>
<rect x="261.45" y="317.70" width="15.59" height="1.55" fill="#080808"/>
<rect x="261.45" y="319.20" width="15.59" height="1.05" fill="#253925"/>
<rect x="261.45" y="320.20" width="15.59" height="7.55" fill="#080808"/>
<rect x="261.45" y="327.70" width="15.59" height="1.05" fill="#090909"/>
<rect x="261.45" y="328.70" width="15.59" height="1.05" fill="#090809"/>
<rect x="261.45" y="329.70" width="15.59" height="6.05" fill="#080808"/>
<rect x="261.45" y="335.70" width="15.59" height="2.05" fill="#090809"/>
<rect x="261.45" y="337.70" width="15.59" height="2.05" fill="#080808"/>
<rect x="261.45" y="339.70" width="15.59" height="1.05" fill="#090809"/>
<rect x="261.45" y="340.70" width="15.59" height="2.05" fill="#080808"/>
<rect x="261.45" y="342.70" width="15.59" height="2.05" fill="#0a0a0a"/>
<rect x="261.45" y="344.70" width="15.59" height="1.55" fill="#090808"/>
<rect x="261.45" y="346.20" width="15.59" height="2.05" fill="#0b0b0b"/>
<rect x="261.45" y="348.20" width="15.59" height="1.55" fill="#090808"/>
<rect x="261.45" y="349.70" width="15.59" height="4.55" fill="#080808"/>
<rect x="261.45" y="354.20" width="15.59" height="1.05" fill="#0a0a0a"/>
<rect x="261.45" y="355.20" width="15.59" height="2.05" fill="#080808"/>
<rect x="261.45" y="357.20" width="15.59" height="2.05" fill="#090808"/>
<rect x="261.45" y="359.20" width="15.59" height="1.55" fill="#080808"/>
<rect x="261.45" y="360.70" width="15.59" height="2.55" fill="#0b0b0b"/>
<rect x="261.45" y="363.20" width="15.59" height="1.05" fill="#080808"/>
<rect x="261.45" y="364.20" width="15.59" height="1.05" fill="#090909"/>
<rect x="261.45" y="365.20" width="15.59" height="1.55" fill="#0a090a"/>
<rect x="261.45" y="366.70" width="15.59" height="1.05" fill="#080808"/>
<rect x="261.45" y="367.70" width="15.59" height="1.05" fill="#090808"/>
<rect x="261.45" y="368.70" width="15.59" height="2.05" fill="#080808"/>
<rect x="261.45" y="370.70" width="15.59" height="1.05" fill="#090909"/>
<rect x="261.45" y="371.70" width="15.59" height="6.55" fill="#080808"/>
<rect x="261.45" y="378.20" width="15.59" height="1.55" fill="#0a0a0a"/>
<rect x="261.45" y="379.70" width="15.59" height="1.55" fill="#090808"/>
<rect x="261.45" y="381.20" width="15.59" height="3.55" fill="#080808"/>
<rect x="261.45" y="384.70" width="15.59" height="1.55" fill="#090909"/>
<rect x="261.45" y="386.20" width="15.59" height="1.55" fill="#080808"/>
<rect x="261.45" y="387.70" width="15.59" height="2.05" fill="#0f110f"/>
<rect x="261.45" y="389.70" width="15.59" height="1.05" fill="#0a0a0a"/>
<rect x="261.45" y="390.70" width="15.59" height="1.05" fill="#090808"/>
<rect x="261.45" y="391.70" width="15.59" height="6.05" fill="#080808"/>
<rect x="261.45" y="397.70" width="15.59" height="1.05" fill="#0a090a"/>
<rect x="261.45" y="398.70" width="15.59" height="2.55" fill="#080808"/>
<rect x="261.45" y="401.20" width="15.59" height="1.05" fill="#090808"/>
<rect x="261.45" y="402.20" width="15.59" height="1.05" fill="#0a0a0a"/>
<rect x="261.45" y="403.20" width="15.59" height="1.05" fill="#090808"/>
<rect x="261.45" y="404.20" width="15.59" height="1.05" fill="#0f0a09"/>
<rect x="261.45" y="405.20" width="15.59" height="1.05" fill="#0a0908"/>
<rect x="261.45" y="406.20" width="15.59" height="1.05" fill="#0b0b0b"/>
<rect x="261.45" y="407.20" width="15.59" height="1.05" fill="#090808"/>
<rect x="261.45" y="408.20" width="15.59" height="1.55" fill="#151a15"/>
<rect x="261.45" y="409.70" width="15.59" height="2.05" fill="#0b0b0b"/>
<rect x="261.45" y="411.70" width="15.59" height="1.05" fill="#0f0a09"/>
<rect x="261.45" y="412.70" width="15.59" height="1.05" fill="#141914"/>
<rect x="261.45" y="413.70" width="15.59" height="1.05" fill="#192119"/>
<rect x="261.45" y="414.70" width="15.59" height="1.05" fill="#120b0a"/>
<rect x="261.45" y="415.70" width="15.59" height="1.05" fill="#0d0e0d"/>
<rect x="261.45" y="416.70" width="15.59" height="1.55" fill="#0b0908"/>
<rect x="261.45" y="418.20" width="15.59" height="2.05" fill="#26120d"/>
<rect x="261.45" y="420.20" width="15.59" height="1.05" fill="#181f18"/>
<rect x="261.45" y="421.20" width="15.59" height="2.05" fill="#0f110f"/>
<rect x="261.45" y="423.20" width="15.59" height="3.05" fill="#0e0a09"/>
<rect x="261.45" y="426.20" width="15.59" height="1.05" fill="#151a15"/>
<rect x="261.45" y="427.20" width="15.59" height="2.05" fill="#381710"/>
<rect x="261.45" y="429.20" width="15.59" height="2.05" fill="#111311"/>
<rect x="261.45" y="431.20" width="15.59" height="1.05" fill="#141814"/>
<rect x="261.45" y="432.20" width="15.59" height="1.55" fill="#7d2d1b"/>
<rect x="261.45" y="433.70" width="15.59" height="2.05" fill="#0d0a09"/>
<rect x="261.45" y="435.70" width="15.59" height="1.55" fill="#131713"/>
<rect x="261.45" y="437.20" width="15.59" height="1.55" fill="#080808"/>
<rect x="261.45" y="438.70" width="15.59" height="1.55" fill="#150c0a"/>
<rect x="261.45" y="440.20" width="15.59" height="1.55" fill="#0c0c0c"/>
<rect x="261.45" y="441.70" width="15.59" height="1.05" fill="#131713"/>
<rect x="261.45" y="442.70" width="15.59" height="1.55" fill="#0e0f0e"/>
<rect x="261.45" y="444.20" width="15.59" height="1.55" fill="#111411"/>
<rect x="261.45" y="445.70" width="15.59" height="1.05" fill="#090808"/>
<rect x="261.45" y="446.70" width="15.59" height="1.05" fill="#140c0a"/>
<rect x="261.45" y="447.70" width="15.59" height="1.05" fill="#181f18"/>
<rect x="261.45" y="448.70" width="15.59" height="1.05" fill="#080808"/>
<rect x="261.45" y="449.70" width="15.59" height="1.55" fill="#090808"/>
<rect x="261.45" y="451.20" width="15.59" height="1.05" fill="#0d0a09"/>
<rect x="261.45" y="452.20" width="15.59" height="1.05" fill="#151b15"/>
<rect x="261.45" y="453.20" width="15.59" height="1.05" fill="#0c0c0c"/>
<rect x="261.45" y="454.20" width="15.59" height="2.05" fill="#0d0909"/>
<rect x="261.45" y="456.20" width="15.59" height="1.05" fill="#140c0a"/>
<rect x="261.45" y="457.20" width="15.59" height="1.05" fill="#0e0a09"/>
<rect x="261.45" y="458.20" width="15.59" height="1.05" fill="#0d0e0d"/>
<rect x="261.45" y="459.20" width="15.59" height="2.05" fill="#23100c"/>
<rect x="261.45" y="461.20" width="15.59" height="1.05" fill="#110b09"/>
<rect x="261.45" y="462.20" width="15.59" height="2.05" fill="#0c0909"/>
<rect x="261.45" y="464.20" width="15.59" height="1.05" fill="#0d0a09"/>
<rect x="261.45" y="465.20" width="15.59" height="1.05" fill="#0b0908"/>
<rect x="261.45" y="466.20" width="15.59" height="2.05" fill="#141814"/>
<rect x="261.45" y="468.20" width="15.59" height="1.05" fill="#1d291d"/>
<rect x="261.45" y="469.20" width="15.59" height="1.05" fill="#160c0a"/>
<rect x="261.45" y="470.20" width="15.59" height="1.05" fill="#1c271c"/>
<rect x="261.45" y="471.20" width="15.59" height="2.05" fill="#0a0908"/>
<rect x="261.45" y="473.20" width="15.59" height="1.55" fill="#0d0e0d"/>
<rect x="261.45" y="474.70" width="15.59" height="1.05" fill="#0f100f"/>
<rect x="261.45" y="475.70" width="15.59" height="1.05" fill="#101210"/>
<rect x="261.45" y="476.70" width="15.59" height="1.05" fill="#0d0909"/>
<rect x="261.45" y="477.70" width="15.59" height="1.85" fill="#391810"/>
<rect x="276.74" y="217.20" width="15.59" height="1.05" fill="#243724"/>
<rect x="276.74" y="218.20" width="15.59" height="1.05" fill="#182018"/>
<rect x="276.74" y="219.20" width="15.59" height="1.55" fill="#0e100e"/>
<rect x="276.74" y="220.70" width="15.59" height="1.05" fill="#1b261b"/>
<rect x="276.74" y="221.70" width="15.59" height="1.05" fill="#0e0f0e"/>
<rect x="276.74" y="222.70" width="15.59" height="2.05" fill="#192119"/>
<rect x="276.74" y="224.70" width="15.59" height="1.05" fill="#1b251b"/>
<rect x="276.74" y="225.70" width="15.59" height="1.05" fill="#1d2a1d"/>
<rect x="276.74" y="226.70" width="15.59" height="2.05" fill="#192219"/>
<rect x="276.74" y="228.70" width="15.59" height="1.05" fill="#161d16"/>
<rect x="276.74" y="229.70" width="15.59" height="2.05" fill="#1d291d"/>
<rect x="276.74" y="231.70" width="15.59" height="2.05" fill="#1c281c"/>
<rect x="276.74" y="233.70" width="15.59" height="1.05" fill="#192119"/>
<rect x="276.74" y="234.70" width="15.59" height="1.55" fill="#0e0f0e"/>
<rect x="276.74" y="236.20" width="15.59" height="1.55" fill="#1f2d1f"/>
<rect x="276.74" y="237.70" width="15.59" height="1.05" fill="#171f17"/>
<rect x="276.74" y="238.70" width="15.59" height="1.05" fill="#1a231a"/>
<rect x="276.74" y="239.70" width="15.59" height="1.05" fill="#1f2c1f"/>
<rect x="276.74" y="240.70" width="15.59" height="2.05" fill="#1a231a"/>
<rect x="276.74" y="242.70" width="15.59" height="1.55" fill="#233623"/>
<rect x="276.74" y="244.20" width="15.59" height="1.05" fill="#1c271c"/>
<rect x="276.74" y="245.20" width="15.59" height="2.05" fill="#181f18"/>
<rect x="276.74" y="247.20" width="15.59" height="1.05" fill="#1f2d1f"/>
<rect x="276.74" y="248.20" width="15.59" height="1.05" fill="#1d2a1d"/>
<rect x="276.74" y="249.20" width="15.59" height="2.05" fill="#203020"/>
<rect x="276.74" y="251.20" width="15.59" height="1.05" fill="#192219"/>
<rect x="276.74" y="252.20" width="15.59" height="2.05" fill="#1f2e1f"/>
<rect x="276.74" y="254.20" width="15.59" height="2.05" fill="#1e2a1e"/>
<rect x="276.74" y="256.20" width="15.59" height="1.55" fill="#182018"/>
<rect x="276.74" y="257.70" width="15.59" height="1.05" fill="#1f2c1f"/>
<rect x="276.74" y="258.70" width="15.59" height="1.05" fill="#151a15"/>
<rect x="276.74" y="259.70" width="15.59" height="1.05" fill="#1a241a"/>
<rect x="276.74" y="260.70" width="15.59" height="2.05" fill="#1c281c"/>
<rect x="276.74" y="262.70" width="15.59" height="1.05" fill="#2e4d2e"/>
<rect x="276.74" y="263.70" width="15.59" height="1.05" fill="#1c271c"/>
<rect x="276.74" y="264.70" width="15.59" height="1.55" fill="#2b482b"/>
<rect x="276.74" y="266.20" width="15.59" height="1.05" fill="#1b261b"/>
<rect x="276.74" y="267.20" width="15.59" height="2.05" fill="#192219"/>
<rect x="276.74" y="269.20" width="15.59" height="1.05" fill="#1a231a"/>
<rect x="276.74" y="270.20" width="15.59" height="2.05" fill="#1c261c"/>
<rect x="276.74" y="272.20" width="15.59" height="1.05" fill="#131713"/>
<rect x="276.74" y="273.20" width="15.59" height="2.05" fill="#1d291d"/>
<rect x="276.74" y="275.20" width="15.59" height="1.05" fill="#1a231a"/>
<rect x="276.74" y="276.20" width="15.59" height="1.05" fill="#1b251b"/>
<rect x="276.74" y="277.20" width="15.59" height="2.05" fill="#1d281d"/>
<rect x="276.74" y="279.20" width="15.59" height="2.05" fill="#223422"/>
<rect x="276.74" y="281.20" width="15.59" height="1.05" fill="#181f18"/>
<rect x="276.74" y="282.20" width="15.59" height="1.05" fill="#1e2c1e"/>
<rect x="276.74" y="283.20" width="15.59" height="1.05" fill="#192119"/>
<rect x="276.74" y="284.20" width="15.59" height="2.05" fill="#192219"/>
<rect x="276.74" y="286.20" width="15.59" height="1.05" fill="#1b251b"/>
<rect x="276.74" y="287.20" width="15.59" height="2.05" fill="#0e0f0e"/>
<rect x="276.74" y="289.20" width="15.59" height="3.05" fill="#1d291d"/>
<rect x="276.74" y="292.20" width="15.59" height="1.05" fill="#182018"/>
<rect x="276.74" y="293.20" width="15.59" height="1.55" fill="#1c261c"/>
<rect x="276.74" y="294.70" width="15.59" height="2.05" fill="#1a231a"/>
<rect x="276.74" y="296.70" width="15.59" height="1.55" fill="#1c271c"/>
<rect x="276.74" y="298.20" width="15.59" height="1.05" fill="#192219"/>
<rect x="276.74" y="299.20" width="15.59" height="1.55" fill="#161b16"/>
<rect x="276.74" y="300.70" width="15.59" height="2.05" fill="#0f110f"/>
<rect x="276.74" y="302.70" width="15.59" height="1.55" fill="#0d0e0d"/>
<rect x="276.74" y="304.20" width="15.59" height="1.05" fill="#161d16"/>
<rect x="276.74" y="305.20" width="15.59" height="1.05" fill="#0e0e0e"/>
<rect x="276.74" y="306.20" width="15.59" height="1.05" fill="#233523"/>
<rect x="276.74" y="307.20" width="15.59" height="1.05" fill="#0e0f0e"/>
<rect x="276.74" y="308.20" width="15.59" height="1.05" fill="#181f18"/>
<rect x="276.74" y="309.20" width="15.59" height="1.05" fill="#202f20"/>
<rect x="276.74" y="310.20" width="15.59" height="2.05" fill="#1f2e1f"/>
<rect x="276.74" y="312.20" width="15.59" height="1.05" fill="#1d291d"/>
<rect x="276.74" y="313.20" width="15.59" height="3.55" fill="#0e0f0e"/>
<rect x="276.74" y="316.70" width="15.59" height="1.05" fill="#171d17"/>
<rect x="276.74" y="317.70" width="15.59" height="1.55" fill="#0e0f0e"/>
<rect x="276.74" y="319.20" width="15.59" height="1.05" fill="#1c281c"/>
<rect x="276.74" y="320.20" width="15.59" height="2.05" fill="#192219"/>
<rect x="276.74" y="322.20" width="15.59" height="1.05" fill="#1a241a"/>
<rect x="276.74" y="323.20" width="15.59" height="1.05" fill="#253b25"/>
<rect x="276.74" y="324.20" width="15.59" height="2.05" fill="#171d17"/>
<rect x="276.74" y="326.20" width="15.59" height="1.55" fill="#1b261b"/>
<rect x="276.74" y="327.70" width="15.59" height="1.05" fill="#1f2d1f"/>
<rect x="276.74" y="328.70" width="15.59" height="1.05" fill="#1c271c"/>
<rect x="276.74" y="329.70" width="15.59" height="1.05" fill="#192219"/>
<rect x="276.74" y="330.70" width="15.59" height="1.55" fill="#1e2c1e"/>
<rect x="276.74" y="332.20" width="15.59" height="1.55" fill="#1b251b"/>
<rect x="276.74" y="333.70" width="15.59" height="1.05" fill="#203020"/>
<rect x="276.74" y="334.70" width="15.59" height="1.05" fill="#273f27"/>
<rect x="276.74" y="335.70" width="15.59" height="2.05" fill="#1c261c"/>
<rect x="276.74" y="337.70" width="15.59" height="2.05" fill="#171d17"/>
<rect x="276.74" y="339.70" width="15.59" height="1.05" fill="#0e0e0e"/>
<rect x="276.74" y="340.70" width="15.59" height="1.05" fill="#1b251b"/>
<rect x="276.74" y="341.70" width="15.59" height="1.05" fill="#0e0f0e"/>
<rect x="276.74" y="342.70" width="15.59" height="2.05" fill="#101210"/>
<rect x="276.74" y="344.70" width="15.59" height="1.55" fill="#202f20"/>
<rect x="276.74" y="346.20" width="15.59" height="2.05" fill="#1b261b"/>
<rect x="276.74" y="348.20" width="15.59" height="1.55" fill="#1e2a1e"/>
<rect x="276.74" y="349.70" width="15.59" height="1.05" fill="#192219"/>
<rect x="276.74" y="350.70" width="15.59" height="1.05" fill="#0e0f0e"/>
<rect x="276.74" y="351.70" width="15.59" height="1.05" fill="#192219"/>
<rect x="276.74" y="352.70" width="15.59" height="1.55" fill="#1c271c"/>
<rect x="276.74" y="354.20" width="15.59" height="1.05" fill="#1d2a1d"/>
<rect x="276.74" y="355.20" width="15.59" height="1.05" fill="#0c0d0c"/>
<rect x="276.74" y="356.20" width="15.59" height="1.05" fill="#1a241a"/>
<rect x="276.74" y="357.20" width="15.59" height="3.55" fill="#192219"/>
<rect x="276.74" y="360.70" width="15.59" height="1.05" fill="#171d17"/>
<rect x="276.74" y="361.70" width="15.59" height="1.55" fill="#2b462b"/>
<rect x="276.74" y="363.20" width="15.59" height="1.05" fill="#192219"/>
<rect x="276.74" y="364.20" width="15.59" height="1.05" fill="#161c16"/>
<rect x="276.74" y="365.20" width="15.59" height="1.55" fill="#192119"/>
<rect x="276.74" y="366.70" width="15.59" height="1.05" fill="#1f2d1f"/>
<rect x="276.74" y="367.70" width="15.59" height="1.05" fill="#182018"/>
<rect x="276.74" y="368.70" width="15.59" height="2.05" fill="#0f100f"/>
<rect x="276.74" y="370.70" width="15.59" height="1.05" fill="#253a25"/>
<rect x="276.74" y="371.70" width="15.59" height="1.55" fill="#151a15"/>
<rect x="276.74" y="373.20" width="15.59" height="1.05" fill="#181f18"/>
<rect x="276.74" y="374.20" width="15.59" height="1.05" fill="#0e0f0e"/>
<rect x="276.74" y="375.20" width="15.59" height="1.05" fill="#151a15"/>
<rect x="276.74" y="376.20" width="15.59" height="1.05" fill="#0d0e0d"/>
<rect x="276.74" y="377.20" width="15.59" height="1.05" fill="#151b15"/>
<rect x="276.74" y="378.20" width="15.59" height="1.55" fill="#192119"/>
<rect x="276.74" y="379.70" width="15.59" height="1.55" fill="#1f2e1f"/>
<rect x="276.74" y="381.20" width="15.59" height="1.55" fill="#161c16"/>
<rect x="276.74" y="382.70" width="15.59" height="1.05" fill="#182018"/>
<rect x="276.74" y="383.70" width="15.59" height="1.05" fill="#0d0e0d"/>
<rect x="276.74" y="384.70" width="15.59" height="1.55" fill="#1a241a"/>
<rect x="276.74" y="386.20" width="15.59" height="1.55" fill="#0f100f"/>
<rect x="276.74" y="387.70" width="15.59" height="2.05" fill="#0e0f0e"/>
<rect x="276.74" y="389.70" width="15.59" height="1.05" fill="#1e2a1e"/>
<rect x="276.74" y="390.70" width="15.59" height="1.05" fill="#181f18"/>
<rect x="276.74" y="391.70" width="15.59" height="1.55" fill="#202f20"/>
<rect x="276.74" y="393.20" width="15.59" height="2.05" fill="#233523"/>
<rect x="276.74" y="395.20" width="15.59" height="1.05" fill="#1e2b1e"/>
<rect x="276.74" y="396.20" width="15.59" height="1.55" fill="#141814"/>
<rect x="276.74" y="397.70" width="15.59" height="1.05" fill="#1c271c"/>
<rect x="276.74" y="398.70" width="15.59" height="1.55" fill="#192119"/>
<rect x="276.74" y="400.20" width="15.59" height="2.05" fill="#171f17"/>
<rect x="276.74" y="402.20" width="15.59" height="1.05" fill="#120b0a"/>
<rect x="276.74" y="403.20" width="15.59" height="1.05" fill="#090808"/>
<rect x="276.74" y="404.20" width="15.59" height="1.05" fill="#121612"/>
<rect x="276.74" y="405.20" width="15.59" height="1.05" fill="#0e100e"/>
<rect x="276.74" y="406.20" width="15.59" height="1.05" fill="#90331e"/>
<rect x="276.74" y="407.20" width="15.59" height="1.05" fill="#29120d"/>
<rect x="276.74" y="408.20" width="15.59" height="1.55" fill="#532014"/>
<rect x="276.74" y="409.70" width="15.59" height="2.05" fill="#0c0c0c"/>
<rect x="276.74" y="411.70" width="15.59" height="1.05" fill="#130b0a"/>
<rect x="276.74" y="412.70" width="15.59" height="1.05" fill="#101210"/>
<rect x="276.74" y="413.70" width="15.59" height="1.05" fill="#782b1a"/>
<rect x="276.74" y="414.70" width="15.59" height="1.05" fill="#0b0909"/>
<rect x="276.74" y="415.70" width="15.59" height="1.05" fill="#461b12"/>
<rect x="276.74" y="416.70" width="15.59" height="1.55" fill="#26120d"/>
<rect x="276.74" y="418.20" width="15.59" height="2.05" fill="#0d0a09"/>
<rect x="276.74" y="420.20" width="15.59" height="1.05" fill="#1a0e0b"/>
<rect x="276.74" y="421.20" width="15.59" height="2.05" fill="#131613"/>
<rect x="276.74" y="423.20" width="15.59" height="2.05" fill="#3d1911"/>
<rect x="276.74" y="425.20" width="15.59" height="1.05" fill="#101210"/>
<rect x="276.74" y="426.20" width="15.59" height="1.05" fill="#110b0a"/>
<rect x="276.74" y="427.20" width="15.59" height="2.05" fill="#0f0a09"/>
<rect x="276.74" y="429.20" width="15.59" height="2.05" fill="#131613"/>
<rect x="276.74" y="431.20" width="15.59" height="1.05" fill="#1e0f0c"/>
<rect x="276.74" y="432.20" width="15.59" height="1.55" fill="#451b12"/>
<rect x="276.74" y="433.70" width="15.59" height="2.05" fill="#0b0909"/>
<rect x="276.74" y="435.70" width="15.59" height="1.55" fill="#180d0b"/>
<rect x="276.74" y="437.20" width="15.59" height="1.55" fill="#090808"/>
<rect x="276.74" y="438.70" width="15.59" height="1.55" fill="#0a0908"/>
<rect x="276.74" y="440.20" width="15.59" height="1.55" fill="#1a0e0b"/>
<rect x="276.74" y="441.70" width="15.59" height="1.05" fill="#0f100f"/>
<rect x="276.74" y="442.70" width="15.59" height="1.55" fill="#0e0f0e"/>
<rect x="276.74" y="444.20" width="15.59" height="1.55" fill="#090808"/>
<rect x="276.74" y="445.70" width="15.59" height="1.05" fill="#120b0a"/>
<rect x="276.74" y="446.70" width="15.59" height="1.05" fill="#090808"/>
<rect x="276.74" y="447.70" width="15.59" height="1.05" fill="#180d0b"/>
<rect x="276.74" y="448.70" width="15.59" height="1.05" fill="#090808"/>
<rect x="276.74" y="449.70" width="15.59" height="1.55" fill="#110b09"/>
<rect x="276.74" y="451.20" width="15.59" height="1.05" fill="#2d140e"/>
<rect x="276.74" y="452.20" width="15.59" height="1.05" fill="#0a0a0a"/>
<rect x="276.74" y="453.20" width="15.59" height="1.05" fill="#120b0a"/>
<rect x="276.74" y="454.20" width="15.59" height="2.05" fill="#080808"/>
<rect x="276.74" y="456.20" width="15.59" height="1.05" fill="#131713"/>
<rect x="276.74" y="457.20" width="15.59" height="1.05" fill="#110b0a"/>
<rect x="276.74" y="458.20" width="15.59" height="1.05" fill="#0c0c0c"/>
<rect x="276.74" y="459.20" width="15.59" height="2.05" fill="#0b0909"/>
<rect x="276.74" y="461.20" width="15.59" height="1.05" fill="#110b09"/>
<rect x="276.74" y="462.20" width="15.59" height="2.05" fill="#0b0b0b"/>
<rect x="276.74" y="464.20" width="15.59" height="1.05" fill="#1e0f0c"/>
<rect x="276.74" y="465.20" width="15.59" height="1.05" fill="#1b0e0b"/>
<rect x="276.74" y="466.20" width="15.59" height="2.05" fill="#6a2718"/>
<rect x="276.74" y="468.20" width="15.59" height="1.05" fill="#160c0a"/>
<rect x="276.74" y="469.20" width="15.59" height="1.05" fill="#0e0f0e"/>
<rect x="276.74" y="470.20" width="15.59" height="1.05" fill="#0e0a09"/>
<rect x="276.74" y="471.20" width="15.59" height="2.05" fill="#180d0b"/>
<rect x="276.74" y="473.20" width="15.59" height="1.55" fill="#090808"/>
<rect x="276.74" y="474.70" width="15.59" height="1.05" fill="#361710"/>
<rect x="276.74" y="475.70" width="15.59" height="1.05" fill="#0c0909"/>
<rect x="276.74" y="476.70" width="15.59" height="1.05" fill="#0f100f"/>
<rect x="276.74" y="477.70" width="15.59" height="1.85" fill="#170d0b"/>
<rect x="292.03" y="217.20" width="15.59" height="1.05" fill="#253925"/>
<rect x="292.03" y="218.20" width="15.59" height="1.05" fill="#171e17"/>
<rect x="292.03" y="219.20" width="15.59" height="1.55" fill="#0d0e0d"/>
<rect x="292.03" y="220.70" width="15.59" height="1.05" fill="#1b251b"/>
<rect x="292.03" y="221.70" width="15.59" height="1.05" fill="#0c0d0c"/>
<rect x="292.03" y="222.70" width="15.59" height="2.05" fill="#1b251b"/>
<rect x="292.03" y="224.70" width="15.59" height="2.05" fill="#1b261b"/>
<rect x="292.03" y="226.70" width="15.59" height="2.05" fill="#1a231a"/>
<rect x="292.03" y="228.70" width="15.59" height="1.05" fill="#161c16"/>
<rect x="292.03" y="229.70" width="15.59" height="2.05" fill="#1b261b"/>
<rect x="292.03" y="231.70" width="15.59" height="1.05" fill="#213221"/>
<rect x="292.03" y="232.70" width="15.59" height="1.05" fill="#192219"/>
<rect x="292.03" y="233.70" width="15.59" height="1.05" fill="#181f18"/>
<rect x="292.03" y="234.70" width="15.59" height="1.55" fill="#0d0e0d"/>
<rect x="292.03" y="236.20" width="15.59" height="1.55" fill="#203020"/>
<rect x="292.03" y="237.70" width="15.59" height="1.05" fill="#161c16"/>
<rect x="292.03" y="238.70" width="15.59" height="1.05" fill="#171e17"/>
<rect x="292.03" y="239.70" width="15.59" height="1.05" fill="#1b251b"/>
<rect x="292.03" y="240.70" width="15.59" height="2.05" fill="#202f20"/>
<rect x="292.03" y="242.70" width="15.59" height="1.55" fill="#161c16"/>
<rect x="292.03" y="244.20" width="15.59" height="1.05" fill="#1d281d"/>
<rect x="292.03" y="245.20" width="15.59" height="2.05" fill="#192119"/>
<rect x="292.03" y="247.20" width="15.59" height="1.05" fill="#1f2c1f"/>
<rect x="292.03" y="248.20" width="15.59" height="1.05" fill="#203020"/>
<rect x="292.03" y="249.20" width="15.59" height="2.05" fill="#1d2a1d"/>
<rect x="292.03" y="251.20" width="15.59" height="1.05" fill="#1b261b"/>
<rect x="292.03" y="252.20" width="15.59" height="2.05" fill="#1b251b"/>
<rect x="292.03" y="254.20" width="15.59" height="2.05" fill="#213021"/>
<rect x="292.03" y="256.20" width="15.59" height="1.55" fill="#223322"/>
<rect x="292.03" y="257.70" width="15.59" height="1.05" fill="#1a231a"/>
<rect x="292.03" y="258.70" width="15.59" height="1.05" fill="#161d16"/>
<rect x="292.03" y="259.70" width="15.59" height="1.05" fill="#1a231a"/>
<rect x="292.03" y="260.70" width="15.59" height="2.05" fill="#2b482b"/>
<rect x="292.03" y="262.70" width="15.59" height="2.05" fill="#1b251b"/>
<rect x="292.03" y="264.70" width="15.59" height="1.55" fill="#1f2c1f"/>
<rect x="292.03" y="266.20" width="15.59" height="1.05" fill="#161c16"/>
<rect x="292.03" y="267.20" width="15.59" height="2.05" fill="#1b251b"/>
<rect x="292.03" y="269.20" width="15.59" height="1.05" fill="#1f2d1f"/>
<rect x="292.03" y="270.20" width="15.59" height="2.05" fill="#161d16"/>
<rect x="292.03" y="272.20" width="15.59" height="1.05" fill="#1b261b"/>
<rect x="292.03" y="273.20" width="15.59" height="2.05" fill="#1c261c"/>
<rect x="292.03" y="275.20" width="15.59" height="1.05" fill="#192119"/>
<rect x="292.03" y="276.20" width="15.59" height="1.05" fill="#1f2c1f"/>
<rect x="292.03" y="277.20" width="15.59" height="2.05" fill="#192219"/>
<rect x="292.03" y="279.20" width="15.59" height="2.05" fill="#1a231a"/>
<rect x="292.03" y="281.20" width="15.59" height="2.05" fill="#1b251b"/>
<rect x="292.03" y="283.20" width="15.59" height="1.05" fill="#131713"/>
<rect x="292.03" y="284.20" width="15.59" height="2.05" fill="#1b251b"/>
<rect x="292.03" y="286.20" width="15.59" height="1.05" fill="#181f18"/>
<rect x="292.03" y="287.20" width="15.59" height="2.05" fill="#0e0f0e"/>
<rect x="292.03" y="289.20" width="15.59" height="1.05" fill="#1c271c"/>
<rect x="292.03" y="290.20" width="15.59" height="2.05" fill="#1b241b"/>
<rect x="292.03" y="292.20" width="15.59" height="1.05" fill="#182018"/>
<rect x="292.03" y="293.20" width="15.59" height="1.55" fill="#1d281d"/>
<rect x="292.03" y="294.70" width="15.59" height="2.05" fill="#1c261c"/>
<rect x="292.03" y="296.70" width="15.59" height="1.55" fill="#1a231a"/>
<rect x="292.03" y="298.20" width="15.59" height="1.05" fill="#192119"/>
<rect x="292.03" y="299.20" width="15.59" height="1.55" fill="#181f18"/>
<rect x="292.03" y="300.70" width="15.59" height="2.05" fill="#0f100f"/>
<rect x="292.03" y="302.70" width="15.59" height="1.55" fill="#0e0f0e"/>
<rect x="292.03" y="304.20" width="15.59" height="1.05" fill="#1b251b"/>
<rect x="292.03" y="305.20" width="15.59" height="1.05" fill="#0d0d0d"/>
<rect x="292.03" y="306.20" width="15.59" height="1.05" fill="#1b261b"/>
<rect x="292.03" y="307.20" width="15.59" height="1.05" fill="#0e0f0e"/>
<rect x="292.03" y="308.20" width="15.59" height="1.05" fill="#223322"/>
<rect x="292.03" y="309.20" width="15.59" height="1.05" fill="#213121"/>
<rect x="292.03" y="310.20" width="15.59" height="2.05" fill="#1e2b1e"/>
<rect x="292.03" y="312.20" width="15.59" height="1.05" fill="#213121"/>
<rect x="292.03" y="313.20" width="15.59" height="2.05" fill="#0e0f0e"/>
<rect x="292.03" y="315.20" width="15.59" height="1.55" fill="#0f100f"/>
<rect x="292.03" y="316.70" width="15.59" height="1.05" fill="#161c16"/>
<rect x="292.03" y="317.70" width="15.59" height="1.55" fill="#0e0e0e"/>
<rect x="292.03" y="319.20" width="15.59" height="1.05" fill="#1c271c"/>
<rect x="292.03" y="320.20" width="15.59" height="2.05" fill="#1e2b1e"/>
<rect x="292.03" y="322.20" width="15.59" height="1.05" fill="#161c16"/>
<rect x="292.03" y="323.20" width="15.59" height="1.05" fill="#1c261c"/>
<rect x="292.03" y="324.20" width="15.59" height="2.05" fill="#1b241b"/>
<rect x="292.03" y="326.20" width="15.59" height="1.55" fill="#1f2c1f"/>
<rect x="292.03" y="327.70" width="15.59" height="1.05" fill="#202f20"/>
<rect x="292.03" y="328.70" width="15.59" height="1.05" fill="#1c261c"/>
<rect x="292.03" y="329.70" width="15.59" height="1.05" fill="#1a221a"/>
<rect x="292.03" y="330.70" width="15.59" height="1.55" fill="#253a25"/>
<rect x="292.03" y="332.20" width="15.59" height="1.55" fill="#223322"/>
<rect x="292.03" y="333.70" width="15.59" height="1.05" fill="#1b251b"/>
<rect x="292.03" y="334.70" width="15.59" height="1.05" fill="#1d291d"/>
<rect x="292.03" y="335.70" width="15.59" height="2.05" fill="#1c281c"/>
<rect x="292.03" y="337.70" width="15.59" height="2.05" fill="#181f18"/>
<rect x="292.03" y="339.70" width="15.59" height="1.05" fill="#0f110f"/>
<rect x="292.03" y="340.70" width="15.59" height="1.05" fill="#1a241a"/>
<rect x="292.03" y="341.70" width="15.59" height="1.05" fill="#0f100f"/>
<rect x="292.03" y="342.70" width="15.59" height="2.05" fill="#161c16"/>
<rect x="292.03" y="344.70" width="15.59" height="1.55" fill="#213021"/>
<rect x="292.03" y="346.20" width="15.59" height="2.05" fill="#182018"/>
<rect x="292.03" y="348.20" width="15.59" height="1.55" fill="#1d291d"/>
<rect x="292.03" y="349.70" width="15.59" height="1.05" fill="#1a241a"/>
<rect x="292.03" y="350.70" width="15.59" height="1.05" fill="#0e0e0e"/>
<rect x="292.03" y="351.70" width="15.59" height="1.05" fill="#181f18"/>
<rect x="292.03" y="352.70" width="15.59" height="1.55" fill="#192119"/>
<rect x="292.03" y="354.20" width="15.59" height="1.05" fill="#1f2e1f"/>
<rect x="292.03" y="355.20" width="15.59" height="1.05" fill="#101110"/>
<rect x="292.03" y="356.20" width="15.59" height="1.05" fill="#1b261b"/>
<rect x="292.03" y="357.20" width="15.59" height="2.05" fill="#1a231a"/>
<rect x="292.03" y="359.20" width="15.59" height="1.55" fill="#141914"/>
<rect x="292.03" y="360.70" width="15.59" height="1.05" fill="#1c271c"/>
<rect x="292.03" y="361.70" width="15.59" height="2.55" fill="#1b251b"/>
<rect x="292.03" y="364.20" width="15.59" height="1.05" fill="#141814"/>
<rect x="292.03" y="365.20" width="15.59" height="1.55" fill="#1c261c"/>
<rect x="292.03" y="366.70" width="15.59" height="1.05" fill="#181f18"/>
<rect x="292.03" y="367.70" width="15.59" height="1.05" fill="#192219"/>
<rect x="292.03" y="368.70" width="15.59" height="2.05" fill="#0e0e0e"/>
<rect x="292.03" y="370.70" width="15.59" height="1.05" fill="#161c16"/>
<rect x="292.03" y="371.70" width="15.59" height="1.55" fill="#161d16"/>
<rect x="292.03" y="373.20" width="15.59" height="1.05" fill="#263b26"/>
<rect x="292.03" y="374.20" width="15.59" height="1.05" fill="#0d0e0d"/>
<rect x="292.03" y="375.20" width="15.59" height="1.05" fill="#161c16"/>
<rect x="292.03" y="376.20" width="15.59" height="1.05" fill="#121512"/>
<rect x="292.03" y="377.20" width="15.59" height="2.55" fill="#1d291d"/>
<rect x="292.03" y="379.70" width="15.59" height="1.55" fill="#1e2a1e"/>
<rect x="292.03" y="381.20" width="15.59" height="1.55" fill="#131713"/>
<rect x="292.03" y="382.70" width="15.59" height="1.05" fill="#181f18"/>
<rect x="292.03" y="383.70" width="15.59" height="1.05" fill="#0e0e0e"/>
<rect x="292.03" y="384.70" width="15.59" height="1.55" fill="#1c271c"/>
<rect x="292.03" y="386.20" width="15.59" height="1.55" fill="#0f100f"/>
<rect x="292.03" y="387.70" width="15.59" height="2.05" fill="#0e0e0e"/>
<rect x="292.03" y="389.70" width="15.59" height="1.05" fill="#1f2d1f"/>
<rect x="292.03" y="390.70" width="15.59" height="1.05" fill="#181f18"/>
<rect x="292.03" y="391.70" width="15.59" height="1.55" fill="#1a231a"/>
<rect x="292.03" y="393.20" width="15.59" height="2.05" fill="#161c16"/>
<rect x="292.03" y="395.20" width="15.59" height="1.05" fill="#192219"/>
<rect x="292.03" y="396.20" width="15.59" height="1.55" fill="#121512"/>
<rect x="292.03" y="397.70" width="15.59" height="1.05" fill="#202e20"/>
<rect x="292.03" y="398.70" width="15.59" height="1.55" fill="#1f2d1f"/>
<rect x="292.03" y="400.20" width="15.59" height="1.05" fill="#151a15"/>
<rect x="292.03" y="401.20" width="15.59" height="1.05" fill="#192219"/>
<rect x="292.03" y="402.20" width="15.59" height="1.05" fill="#26120d"/>
<rect x="292.03" y="403.20" width="15.59" height="1.05" fill="#160d0a"/>
<rect x="292.03" y="404.20" width="15.59" height="1.05" fill="#170d0b"/>
<rect x="292.03" y="405.20" width="15.59" height="1.05" fill="#0e0f0e"/>
<rect x="292.03" y="406.20" width="15.59" height="1.05" fill="#3c1810"/>
<rect x="292.03" y="407.20" width="15.59" height="1.05" fill="#491c13"/>
<rect x="292.03" y="408.20" width="15.59" height="1.55" fill="#31150f"/>
<rect x="292.03" y="409.70" width="15.59" height="2.05" fill="#120b0a"/>
<rect x="292.03" y="411.70" width="15.59" height="1.05" fill="#22100c"/>
<rect x="292.03" y="412.70" width="15.59" height="1.05" fill="#481c12"/>
<rect x="292.03" y="413.70" width="15.59" height="1.05" fill="#702919"/>
<rect x="292.03" y="414.70" width="15.59" height="1.05" fill="#3a1810"/>
<rect x="292.03" y="415.70" width="15.59" height="1.05" fill="#29120d"/>
<rect x="292.03" y="416.70" width="15.59" height="1.55" fill="#0e0a09"/>
<rect x="292.03" y="418.20" width="15.59" height="2.05" fill="#2e140e"/>
<rect x="292.03" y="420.20" width="15.59" height="1.05" fill="#31150f"/>
<rect x="292.03" y="421.20" width="15.59" height="2.05" fill="#24110c"/>
<rect x="292.03" y="423.20" width="15.59" height="2.05" fill="#ab3b23"/>
<rect x="292.03" y="425.20" width="15.59" height="1.05" fill="#120b0a"/>
<rect x="292.03" y="426.20" width="15.59" height="1.05" fill="#1c261c"/>
<rect x="292.03" y="427.20" width="15.59" height="2.05" fill="#1b0e0b"/>
<rect x="292.03" y="429.20" width="15.59" height="2.05" fill="#0c0909"/>
<rect x="292.03" y="431.20" width="15.59" height="1.05" fill="#25110d"/>
<rect x="292.03" y="432.20" width="15.59" height="1.55" fill="#24110d"/>
<rect x="292.03" y="433.70" width="15.59" height="2.05" fill="#1b0e0b"/>
<rect x="292.03" y="435.70" width="15.59" height="1.55" fill="#26110d"/>
<rect x="292.03" y="437.20" width="15.59" height="1.55" fill="#0b0908"/>
<rect x="292.03" y="438.70" width="15.59" height="1.55" fill="#25110d"/>
<rect x="292.03" y="440.20" width="15.59" height="1.55" fill="#26110d"/>
<rect x="292.03" y="441.70" width="15.59" height="1.05" fill="#2b130e"/>
<rect x="292.03" y="442.70" width="15.59" height="1.55" fill="#101210"/>
<rect x="292.03" y="444.20" width="15.59" height="1.55" fill="#22100c"/>
<rect x="292.03" y="445.70" width="15.59" height="1.05" fill="#23110c"/>
<rect x="292.03" y="446.70" width="15.59" height="1.05" fill="#5c2316"/>
<rect x="292.03" y="447.70" width="15.59" height="1.05" fill="#2f140e"/>
<rect x="292.03" y="448.70" width="15.59" height="1.05" fill="#0d0a09"/>
<rect x="292.03" y="449.70" width="15.59" height="1.55" fill="#0c0909"/>
<rect x="292.03" y="451.20" width="15.59" height="1.05" fill="#080808"/>
<rect x="292.03" y="452.20" width="15.59" height="1.05" fill="#702919"/>
<rect x="292.03" y="453.20" width="15.59" height="1.05" fill="#190d0b"/>
<rect x="292.03" y="454.20" width="15.59" height="2.05" fill="#792c1a"/>
<rect x="292.03" y="456.20" width="15.59" height="1.05" fill="#a03821"/>
<rect x="292.03" y="457.20" width="15.59" height="1.05" fill="#86301c"/>
<rect x="292.03" y="458.20" width="15.59" height="1.05" fill="#21100c"/>
<rect x="292.03" y="459.20" width="15.59" height="2.05" fill="#9b3620"/>
<rect x="292.03" y="461.20" width="15.59" height="1.05" fill="#9d3720"/>
<rect x="292.03" y="462.20" width="15.59" height="2.05" fill="#33160f"/>
<rect x="292.03" y="464.20" width="15.59" height="1.05" fill="#401a11"/>
<rect x="292.03" y="465.20" width="15.59" height="1.05" fill="#0b0909"/>
<rect x="292.03" y="466.20" width="15.59" height="2.05" fill="#582115"/>
<rect x="292.03" y="468.20" width="15.59" height="1.05" fill="#ca4528"/>
<rect x="292.03" y="469.20" width="15.59" height="1.05" fill="#642517"/>
<rect x="292.03" y="470.20" width="15.59" height="1.05" fill="#c74427"/>
<rect x="292.03" y="471.20" width="15.59" height="2.05" fill="#602416"/>
<rect x="292.03" y="473.20" width="15.59" height="1.55" fill="#381710"/>
<rect x="292.03" y="474.70" width="15.59" height="1.05" fill="#110b09"/>
<rect x="292.03" y="475.70" width="15.59" height="1.05" fill="#2a130d"/>
<rect x="292.03" y="476.70" width="15.59" height="1.05" fill="#25110d"/>
<rect x="292.03" y="477.70" width="15.59" height="1.85" fill="#812e1c"/>
<rect x="307.32" y="217.20" width="15.59" height="1.05" fill="#1d281d"/>
<rect x="307.32" y="218.20" width="15.59" height="1.05" fill="#151a15"/>
<rect x="307.32" y="219.20" width="15.59" height="1.55" fill="#0d0d0d"/>
<rect x="307.32" y="220.70" width="15.59" height="1.05" fill="#151b15"/>
<rect x="307.32" y="221.70" width="15.59" height="1.05" fill="#121512"/>
<rect x="307.32" y="222.70" width="15.59" height="2.05" fill="#1b261b"/>
<rect x="307.32" y="224.70" width="15.59" height="1.05" fill="#1d291d"/>
<rect x="307.32" y="225.70" width="15.59" height="1.05" fill="#1f2d1f"/>
<rect x="307.32" y="226.70" width="15.59" height="2.05" fill="#1a241a"/>
<rect x="307.32" y="228.70" width="15.59" height="1.05" fill="#1e2b1e"/>
<rect x="307.32" y="229.70" width="15.59" height="2.05" fill="#1a241a"/>
<rect x="307.32" y="231.70" width="15.59" height="1.05" fill="#263c26"/>
<rect x="307.32" y="232.70" width="15.59" height="1.05" fill="#192219"/>
<rect x="307.32" y="233.70" width="15.59" height="1.05" fill="#1a231a"/>
<rect x="307.32" y="234.70" width="15.59" height="1.55" fill="#0d0e0d"/>
<rect x="307.32" y="236.20" width="15.59" height="1.55" fill="#1c261c"/>
<rect x="307.32" y="237.70" width="15.59" height="1.05" fill="#181f18"/>
<rect x="307.32" y="238.70" width="15.59" height="2.05" fill="#192219"/>
<rect x="307.32" y="240.70" width="15.59" height="2.05" fill="#1b251b"/>
<rect x="307.32" y="242.70" width="15.59" height="1.55" fill="#171e17"/>
<rect x="307.32" y="244.20" width="15.59" height="3.05" fill="#181f18"/>
<rect x="307.32" y="247.20" width="15.59" height="1.05" fill="#192119"/>
<rect x="307.32" y="248.20" width="15.59" height="1.05" fill="#1c281c"/>
<rect x="307.32" y="249.20" width="15.59" height="2.05" fill="#1b261b"/>
<rect x="307.32" y="251.20" width="15.59" height="1.05" fill="#1a241a"/>
<rect x="307.32" y="252.20" width="15.59" height="2.05" fill="#202f20"/>
<rect x="307.32" y="254.20" width="15.59" height="2.05" fill="#1a231a"/>
<rect x="307.32" y="256.20" width="15.59" height="1.55" fill="#171f17"/>
<rect x="307.32" y="257.70" width="15.59" height="1.05" fill="#1d291d"/>
<rect x="307.32" y="258.70" width="15.59" height="1.05" fill="#171d17"/>
<rect x="307.32" y="259.70" width="15.59" height="1.05" fill="#1b261b"/>
<rect x="307.32" y="260.70" width="15.59" height="2.05" fill="#1f2d1f"/>
<rect x="307.32" y="262.70" width="15.59" height="1.05" fill="#192219"/>
<rect x="307.32" y="263.70" width="15.59" height="1.05" fill="#1d291d"/>
<rect x="307.32" y="264.70" width="15.59" height="1.55" fill="#192219"/>
<rect x="307.32" y="266.20" width="15.59" height="1.05" fill="#192119"/>
<rect x="307.32" y="267.20" width="15.59" height="2.05" fill="#171e17"/>
<rect x="307.32" y="269.20" width="15.59" height="1.05" fill="#151b15"/>
<rect x="307.32" y="270.20" width="15.59" height="2.05" fill="#192219"/>
<rect x="307.32" y="272.20" width="15.59" height="1.05" fill="#151a15"/>
<rect x="307.32" y="273.20" width="15.59" height="2.05" fill="#223322"/>
<rect x="307.32" y="275.20" width="15.59" height="1.05" fill="#181f18"/>
<rect x="307.32" y="276.20" width="15.59" height="1.05" fill="#213121"/>
<rect x="307.32" y="277.20" width="15.59" height="2.05" fill="#141914"/>
<rect x="307.32" y="279.20" width="15.59" height="2.05" fill="#1b251b"/>
<rect x="307.32" y="281.20" width="15.59" height="1.05" fill="#182018"/>
<rect x="307.32" y="282.20" width="15.59" height="1.05" fill="#1e2c1e"/>
<rect x="307.32" y="283.20" width="15.59" height="1.05" fill="#141914"/>
<rect x="307.32" y="284.20" width="15.59" height="2.05" fill="#151b15"/>
<rect x="307.32" y="286.20" width="15.59" height="1.05" fill="#192219"/>
<rect x="307.32" y="287.20" width="15.59" height="2.05" fill="#0d0d0d"/>
<rect x="307.32" y="289.20" width="15.59" height="1.05" fill="#1f2e1f"/>
<rect x="307.32" y="290.20" width="15.59" height="2.05" fill="#1b241b"/>
<rect x="307.32" y="292.20" width="15.59" height="1.05" fill="#1c271c"/>
<rect x="307.32" y="293.20" width="15.59" height="1.55" fill="#171e17"/>
<rect x="307.32" y="294.70" width="15.59" height="2.05" fill="#151b15"/>
<rect x="307.32" y="296.70" width="15.59" height="1.55" fill="#192119"/>
<rect x="307.32" y="298.20" width="15.59" height="1.05" fill="#151a15"/>
<rect x="307.32" y="299.20" width="15.59" height="1.55" fill="#171e17"/>
<rect x="307.32" y="300.70" width="15.59" height="2.05" fill="#0d0e0d"/>
<rect x="307.32" y="302.70" width="15.59" height="1.55" fill="#0d0d0d"/>
<rect x="307.32" y="304.20" width="15.59" height="1.05" fill="#171e17"/>
<rect x="307.32" y="305.20" width="15.59" height="1.05" fill="#0f100f"/>
<rect x="307.32" y="306.20" width="15.59" height="1.05" fill="#151a15"/>
<rect x="307.32" y="307.20" width="15.59" height="1.05" fill="#0d0e0d"/>
<rect x="307.32" y="308.20" width="15.59" height="1.05" fill="#151a15"/>
<rect x="307.32" y="309.20" width="15.59" height="1.05" fill="#1d291d"/>
<rect x="307.32" y="310.20" width="15.59" height="2.05" fill="#1f2d1f"/>
<rect x="307.32" y="312.20" width="15.59" height="1.05" fill="#1b241b"/>
<rect x="307.32" y="313.20" width="15.59" height="2.05" fill="#101210"/>
<rect x="307.32" y="315.20" width="15.59" height="1.55" fill="#0d0e0d"/>
<rect x="307.32" y="316.70" width="15.59" height="1.05" fill="#141914"/>
<rect x="307.32" y="317.70" width="15.59" height="1.55" fill="#0d0d0d"/>
<rect x="307.32" y="319.20" width="15.59" height="1.05" fill="#192119"/>
<rect x="307.32" y="320.20" width="15.59" height="2.05" fill="#151a15"/>
<rect x="307.32" y="322.20" width="15.59" height="1.05" fill="#192119"/>
<rect x="307.32" y="323.20" width="15.59" height="1.05" fill="#161c16"/>
<rect x="307.32" y="324.20" width="15.59" height="2.05" fill="#1a231a"/>
<rect x="307.32" y="326.20" width="15.59" height="1.55" fill="#1c271c"/>
<rect x="307.32" y="327.70" width="15.59" height="1.05" fill="#1b251b"/>
<rect x="307.32" y="328.70" width="15.59" height="1.05" fill="#1a231a"/>
<rect x="307.32" y="329.70" width="15.59" height="1.05" fill="#161d16"/>
<rect x="307.32" y="330.70" width="15.59" height="1.55" fill="#1f2d1f"/>
<rect x="307.32" y="332.20" width="15.59" height="1.55" fill="#192219"/>
<rect x="307.32" y="333.70" width="15.59" height="1.05" fill="#192119"/>
<rect x="307.32" y="334.70" width="15.59" height="1.05" fill="#1a241a"/>
<rect x="307.32" y="335.70" width="15.59" height="2.05" fill="#1f2e1f"/>
<rect x="307.32" y="337.70" width="15.59" height="2.05" fill="#161d16"/>
<rect x="307.32" y="339.70" width="15.59" height="1.05" fill="#0d0e0d"/>
<rect x="307.32" y="340.70" width="15.59" height="1.05" fill="#1b241b"/>
<rect x="307.32" y="341.70" width="15.59" height="1.05" fill="#0e0f0e"/>
<rect x="307.32" y="342.70" width="15.59" height="2.05" fill="#161c16"/>
<rect x="307.32" y="344.70" width="15.59" height="1.55" fill="#1a231a"/>
<rect x="307.32" y="346.20" width="15.59" height="2.05" fill="#1c261c"/>
<rect x="307.32" y="348.20" width="15.59" height="1.55" fill="#1a231a"/>
<rect x="307.32" y="349.70" width="15.59" height="1.05" fill="#182018"/>
<rect x="307.32" y="350.70" width="15.59" height="1.05" fill="#0d0d0d"/>
<rect x="307.32" y="351.70" width="15.59" height="1.05" fill="#161c16"/>
<rect x="307.32" y="352.70" width="15.59" height="1.55" fill="#141814"/>
<rect x="307.32" y="354.20" width="15.59" height="1.05" fill="#1b241b"/>
<rect x="307.32" y="355.20" width="15.59" height="1.05" fill="#0e0f0e"/>
<rect x="307.32" y="356.20" width="15.59" height="1.05" fill="#1b251b"/>
<rect x="307.32" y="357.20" width="15.59" height="2.05" fill="#161c16"/>
<rect x="307.32" y="359.20" width="15.59" height="1.55" fill="#151b15"/>
<rect x="307.32" y="360.70" width="15.59" height="1.05" fill="#1b251b"/>
<rect x="307.32" y="361.70" width="15.59" height="1.55" fill="#1c261c"/>
<rect x="307.32" y="363.20" width="15.59" height="1.05" fill="#192219"/>
<rect x="307.32" y="364.20" width="15.59" height="1.05" fill="#192119"/>
<rect x="307.32" y="365.20" width="15.59" height="1.55" fill="#1a231a"/>
<rect x="307.32" y="366.70" width="15.59" height="2.05" fill="#161c16"/>
<rect x="307.32" y="368.70" width="15.59" height="2.05" fill="#0d0e0d"/>
<rect x="307.32" y="370.70" width="15.59" height="1.05" fill="#181f18"/>
<rect x="307.32" y="371.70" width="15.59" height="1.55" fill="#131713"/>
<rect x="307.32" y="373.20" width="15.59" height="1.05" fill="#192119"/>
<rect x="307.32" y="374.20" width="15.59" height="1.05" fill="#0d0e0d"/>
<rect x="307.32" y="375.20" width="15.59" height="1.05" fill="#171e17"/>
<rect x="307.32" y="376.20" width="15.59" height="1.05" fill="#0d0e0d"/>
<rect x="307.32" y="377.20" width="15.59" height="1.05" fill="#1a231a"/>
<rect x="307.32" y="378.20" width="15.59" height="1.55" fill="#192119"/>
<rect x="307.32" y="379.70" width="15.59" height="1.55" fill="#1a231a"/>
<rect x="307.32" y="381.20" width="15.59" height="1.55" fill="#141814"/>
<rect x="307.32" y="382.70" width="15.59" height="1.05" fill="#161b16"/>
<rect x="307.32" y="383.70" width="15.59" height="1.05" fill="#0d0e0d"/>
<rect x="307.32" y="384.70" width="15.59" height="1.55" fill="#1b261b"/>
<rect x="307.32" y="386.20" width="15.59" height="1.55" fill="#0d0e0d"/>
<rect x="307.32" y="387.70" width="15.59" height="2.05" fill="#0c0c0c"/>
<rect x="307.32" y="389.70" width="15.59" height="1.05" fill="#192119"/>
<rect x="307.32" y="390.70" width="15.59" height="1.05" fill="#171e17"/>
<rect x="307.32" y="391.70" width="15.59" height="1.55" fill="#263b26"/>
<rect x="307.32" y="393.20" width="15.59" height="2.05" fill="#243824"/>
<rect x="307.32" y="395.20" width="15.59" height="1.05" fill="#192119"/>
<rect x="307.32" y="396.20" width="15.59" height="1.55" fill="#151a15"/>
<rect x="307.32" y="397.70" width="15.59" height="1.05" fill="#1d291d"/>
<rect x="307.32" y="398.70" width="15.59" height="1.55" fill="#1e2b1e"/>
<rect x="307.32" y="400.20" width="15.59" height="1.05" fill="#141914"/>
<rect x="307.32" y="401.20" width="15.59" height="1.05" fill="#171f17"/>
<rect x="307.32" y="402.20" width="15.59" height="1.05" fill="#200f0c"/>
<rect x="307.32" y="403.20" width="15.59" height="1.05" fill="#0a0908"/>
<rect x="307.32" y="404.20" width="15.59" height="1.05" fill="#1d0e0b"/>
<rect x="307.32" y="405.20" width="15.59" height="1.05" fill="#160c0a"/>
<rect x="307.32" y="406.20" width="15.59" height="1.05" fill="#87301d"/>
<rect x="307.32" y="407.20" width="15.59" height="1.05" fill="#27120d"/>
<rect x="307.32" y="408.20" width="15.59" height="1.55" fill="#171f17"/>
<rect x="307.32" y="409.70" width="15.59" height="2.05" fill="#080808"/>
<rect x="307.32" y="411.70" width="15.59" height="1.05" fill="#391810"/>
<rect x="307.32" y="412.70" width="15.59" height="1.05" fill="#21100c"/>
<rect x="307.32" y="413.70" width="15.59" height="1.05" fill="#192119"/>
<rect x="307.32" y="414.70" width="15.59" height="1.05" fill="#180d0b"/>
<rect x="307.32" y="415.70" width="15.59" height="1.05" fill="#0f0a09"/>
<rect x="307.32" y="416.70" width="15.59" height="1.55" fill="#160c0a"/>
<rect x="307.32" y="418.20" width="15.59" height="2.05" fill="#371710"/>
<rect x="307.32" y="420.20" width="15.59" height="1.05" fill="#22100c"/>
<rect x="307.32" y="421.20" width="15.59" height="2.05" fill="#150c0a"/>
<rect x="307.32" y="423.20" width="15.59" height="2.05" fill="#3b1810"/>
<rect x="307.32" y="425.20" width="15.59" height="1.05" fill="#24110d"/>
<rect x="307.32" y="426.20" width="15.59" height="1.05" fill="#1d0f0b"/>
<rect x="307.32" y="427.20" width="15.59" height="2.05" fill="#2d140e"/>
<rect x="307.32" y="429.20" width="15.59" height="2.05" fill="#1a0e0b"/>
<rect x="307.32" y="431.20" width="15.59" height="1.05" fill="#0f100f"/>
<rect x="307.32" y="432.20" width="15.59" height="1.55" fill="#130c0a"/>
<rect x="307.32" y="433.70" width="15.59" height="2.05" fill="#bc4125"/>
<rect x="307.32" y="435.70" width="15.59" height="1.55" fill="#cd4628"/>
<rect x="307.32" y="437.20" width="15.59" height="1.55" fill="#1d0f0b"/>
<rect x="307.32" y="438.70" width="15.59" height="1.55" fill="#c84427"/>
<rect x="307.32" y="440.20" width="15.59" height="1.55" fill="#88301d"/>
<rect x="307.32" y="441.70" width="15.59" height="1.05" fill="#cd4628"/>
<rect x="307.32" y="442.70" width="15.59" height="1.55" fill="#96351f"/>
<rect x="307.32" y="444.20" width="15.59" height="1.55" fill="#c14226"/>
<rect x="307.32" y="445.70" width="15.59" height="1.05" fill="#401911"/>
<rect x="307.32" y="446.70" width="15.59" height="1.05" fill="#461b12"/>
<rect x="307.32" y="447.70" width="15.59" height="1.05" fill="#97351f"/>
<rect x="307.32" y="448.70" width="15.59" height="1.05" fill="#140c0a"/>
<rect x="307.32" y="449.70" width="15.59" height="1.55" fill="#481c12"/>
<rect x="307.32" y="451.20" width="15.59" height="1.05" fill="#6d2818"/>
<rect x="307.32" y="452.20" width="15.59" height="1.05" fill="#29120d"/>
<rect x="307.32" y="453.20" width="15.59" height="1.05" fill="#cb4528"/>
<rect x="307.32" y="454.20" width="15.59" height="2.05" fill="#852f1c"/>
<rect x="307.32" y="456.20" width="15.59" height="1.05" fill="#b73f24"/>
<rect x="307.32" y="457.20" width="15.59" height="1.05" fill="#91331e"/>
<rect x="307.32" y="458.20" width="15.59" height="1.05" fill="#24110c"/>
<rect x="307.32" y="459.20" width="15.59" height="2.05" fill="#812e1c"/>
<rect x="307.32" y="461.20" width="15.59" height="1.05" fill="#682618"/>
<rect x="307.32" y="462.20" width="15.59" height="2.05" fill="#86301c"/>
<rect x="307.32" y="464.20" width="15.59" height="1.05" fill="#792c1a"/>
<rect x="307.32" y="465.20" width="15.59" height="1.05" fill="#742a1a"/>
<rect x="307.32" y="466.20" width="15.59" height="2.05" fill="#a13821"/>
<rect x="307.32" y="468.20" width="15.59" height="1.05" fill="#cd4628"/>
<rect x="307.32" y="469.20" width="15.59" height="1.05" fill="#832f1c"/>
<rect x="307.32" y="470.20" width="15.59" height="1.05" fill="#0f0a09"/>
<rect x="307.32" y="471.20" width="15.59" height="2.05" fill="#1a231a"/>
<rect x="307.32" y="473.20" width="15.59" height="1.55" fill="#0f0a09"/>
<rect x="307.32" y="474.70" width="15.59" height="1.05" fill="#121512"/>
<rect x="307.32" y="475.70" width="15.59" height="1.05" fill="#5b2215"/>
<rect x="307.32" y="476.70" width="15.59" height="1.05" fill="#160c0a"/>
<rect x="307.32" y="477.70" width="15.59" height="1.85" fill="#2c130e"/>
<rect x="322.61" y="217.20" width="15.59" height="1.05" fill="#141914"/>
<rect x="322.61" y="218.20" width="15.59" height="1.05" fill="#0f100f"/>
<rect x="322.61" y="219.20" width="15.59" height="1.55" fill="#0c0c0c"/>
<rect x="322.61" y="220.70" width="15.59" height="1.05" fill="#161b16"/>
<rect x="322.61" y="221.70" width="15.59" height="1.05" fill="#0d0d0d"/>
<rect x="322.61" y="222.70" width="15.59" height="2.05" fill="#111311"/>
<rect x="322.61" y="224.70" width="15.59" height="1.05" fill="#1c271c"/>
<rect x="322.61" y="225.70" width="15.59" height="1.05" fill="#161c16"/>
<rect x="322.61" y="226.70" width="15.59" height="2.05" fill="#0f110f"/>
<rect x="322.61" y="228.70" width="15.59" height="1.05" fill="#0c0c0c"/>
<rect x="322.61" y="229.70" width="15.59" height="2.05" fill="#141814"/>
<rect x="322.61" y="231.70" width="15.59" height="1.05" fill="#151b15"/>
<rect x="322.61" y="232.70" width="15.59" height="1.05" fill="#111411"/>
<rect x="322.61" y="233.70" width="15.59" height="1.05" fill="#1d2a1d"/>
<rect x="322.61" y="234.70" width="15.59" height="1.55" fill="#0c0c0c"/>
<rect x="322.61" y="236.20" width="15.59" height="1.55" fill="#121512"/>
<rect x="322.61" y="237.70" width="15.59" height="1.05" fill="#171d17"/>
<rect x="322.61" y="238.70" width="15.59" height="1.05" fill="#141814"/>
<rect x="322.61" y="239.70" width="15.59" height="1.05" fill="#1a241a"/>
<rect x="322.61" y="240.70" width="15.59" height="2.05" fill="#141914"/>
<rect x="322.61" y="242.70" width="15.59" height="1.55" fill="#0e0f0e"/>
<rect x="322.61" y="244.20" width="15.59" height="1.05" fill="#0d0d0d"/>
<rect x="322.61" y="245.20" width="15.59" height="2.05" fill="#151a15"/>
<rect x="322.61" y="247.20" width="15.59" height="1.05" fill="#0d0d0d"/>
<rect x="322.61" y="248.20" width="15.59" height="1.05" fill="#131713"/>
<rect x="322.61" y="249.20" width="15.59" height="2.05" fill="#121612"/>
<rect x="322.61" y="251.20" width="15.59" height="3.05" fill="#111311"/>
<rect x="322.61" y="254.20" width="15.59" height="2.05" fill="#141814"/>
<rect x="322.61" y="256.20" width="15.59" height="1.55" fill="#101210"/>
<rect x="322.61" y="257.70" width="15.59" height="1.05" fill="#121512"/>
<rect x="322.61" y="258.70" width="15.59" height="1.05" fill="#0f100f"/>
<rect x="322.61" y="259.70" width="15.59" height="1.05" fill="#1a231a"/>
<rect x="322.61" y="260.70" width="15.59" height="2.05" fill="#1a241a"/>
<rect x="322.61" y="262.70" width="15.59" height="2.05" fill="#171e17"/>
<rect x="322.61" y="264.70" width="15.59" height="2.55" fill="#192119"/>
<rect x="322.61" y="267.20" width="15.59" height="2.05" fill="#1a241a"/>
<rect x="322.61" y="269.20" width="15.59" height="1.05" fill="#182018"/>
<rect x="322.61" y="270.20" width="15.59" height="2.05" fill="#1a231a"/>
<rect x="322.61" y="272.20" width="15.59" height="1.05" fill="#151a15"/>
<rect x="322.61" y="273.20" width="15.59" height="2.05" fill="#273e27"/>
<rect x="322.61" y="275.20" width="15.59" height="1.05" fill="#171f17"/>
<rect x="322.61" y="276.20" width="15.59" height="1.05" fill="#1c271c"/>
<rect x="322.61" y="277.20" width="15.59" height="2.05" fill="#161c16"/>
<rect x="322.61" y="279.20" width="15.59" height="2.05" fill="#1a241a"/>
<rect x="322.61" y="281.20" width="15.59" height="1.05" fill="#161c16"/>
<rect x="322.61" y="282.20" width="15.59" height="1.05" fill="#141914"/>
<rect x="322.61" y="283.20" width="15.59" height="1.05" fill="#161d16"/>
<rect x="322.61" y="284.20" width="15.59" height="2.05" fill="#161c16"/>
<rect x="322.61" y="286.20" width="15.59" height="1.05" fill="#151b15"/>
<rect x="322.61" y="287.20" width="15.59" height="2.05" fill="#0d0d0d"/>
<rect x="322.61" y="289.20" width="15.59" height="1.05" fill="#1c271c"/>
<rect x="322.61" y="290.20" width="15.59" height="2.05" fill="#1a231a"/>
<rect x="322.61" y="292.20" width="15.59" height="1.05" fill="#1b241b"/>
<rect x="322.61" y="293.20" width="15.59" height="1.55" fill="#253925"/>
<rect x="322.61" y="294.70" width="15.59" height="2.05" fill="#151b15"/>
<rect x="322.61" y="296.70" width="15.59" height="1.55" fill="#161c16"/>
<rect x="322.61" y="298.20" width="15.59" height="1.05" fill="#192119"/>
<rect x="322.61" y="299.20" width="15.59" height="1.55" fill="#192219"/>
<rect x="322.61" y="300.70" width="15.59" height="2.05" fill="#0d0e0d"/>
<rect x="322.61" y="302.70" width="15.59" height="1.55" fill="#0e0e0e"/>
<rect x="322.61" y="304.20" width="15.59" height="1.05" fill="#151b15"/>
<rect x="322.61" y="305.20" width="15.59" height="1.05" fill="#0e0f0e"/>
<rect x="322.61" y="306.20" width="15.59" height="1.05" fill="#171d17"/>
<rect x="322.61" y="307.20" width="15.59" height="1.05" fill="#0e0e0e"/>
<rect x="322.61" y="308.20" width="15.59" height="1.05" fill="#141914"/>
<rect x="322.61" y="309.20" width="15.59" height="1.05" fill="#192219"/>
<rect x="322.61" y="310.20" width="15.59" height="2.05" fill="#284028"/>
<rect x="322.61" y="312.20" width="15.59" height="1.05" fill="#171f17"/>
<rect x="322.61" y="313.20" width="15.59" height="2.05" fill="#0e0e0e"/>
<rect x="322.61" y="315.20" width="15.59" height="1.55" fill="#0d0d0d"/>
<rect x="322.61" y="316.70" width="15.59" height="1.05" fill="#171e17"/>
<rect x="322.61" y="317.70" width="15.59" height="1.55" fill="#0d0e0d"/>
<rect x="322.61" y="319.20" width="15.59" height="1.05" fill="#171d17"/>
<rect x="322.61" y="320.20" width="15.59" height="2.05" fill="#192219"/>
<rect x="322.61" y="322.20" width="15.59" height="1.05" fill="#192119"/>
<rect x="322.61" y="323.20" width="15.59" height="1.05" fill="#171e17"/>
<rect x="322.61" y="324.20" width="15.59" height="2.05" fill="#192219"/>
<rect x="322.61" y="326.20" width="15.59" height="1.55" fill="#161c16"/>
<rect x="322.61" y="327.70" width="15.59" height="1.05" fill="#1c271c"/>
<rect x="322.61" y="328.70" width="15.59" height="1.05" fill="#161c16"/>
<rect x="322.61" y="329.70" width="15.59" height="1.05" fill="#192119"/>
<rect x="322.61" y="330.70" width="15.59" height="1.55" fill="#1b251b"/>
<rect x="322.61" y="332.20" width="15.59" height="1.55" fill="#1a231a"/>
<rect x="322.61" y="333.70" width="15.59" height="1.05" fill="#171e17"/>
<rect x="322.61" y="334.70" width="15.59" height="1.05" fill="#161b16"/>
<rect x="322.61" y="335.70" width="15.59" height="2.05" fill="#182018"/>
<rect x="322.61" y="337.70" width="15.59" height="2.05" fill="#121612"/>
<rect x="322.61" y="339.70" width="15.59" height="1.05" fill="#0c0d0c"/>
<rect x="322.61" y="340.70" width="15.59" height="1.05" fill="#151b15"/>
<rect x="322.61" y="341.70" width="15.59" height="1.05" fill="#0d0d0d"/>
<rect x="322.61" y="342.70" width="15.59" height="2.05" fill="#121612"/>
<rect x="322.61" y="344.70" width="15.59" height="1.55" fill="#182018"/>
<rect x="322.61" y="346.20" width="15.59" height="2.05" fill="#171e17"/>
<rect x="322.61" y="348.20" width="15.59" height="1.55" fill="#1c261c"/>
<rect x="322.61" y="349.70" width="15.59" height="1.05" fill="#161d16"/>
<rect x="322.61" y="350.70" width="15.59" height="1.05" fill="#0d0e0d"/>
<rect x="322.61" y="351.70" width="15.59" height="1.05" fill="#171d17"/>
<rect x="322.61" y="352.70" width="15.59" height="1.55" fill="#161d16"/>
<rect x="322.61" y="354.20" width="15.59" height="1.05" fill="#181f18"/>
<rect x="322.61" y="355.20" width="15.59" height="1.05" fill="#0d0e0d"/>
<rect x="322.61" y="356.20" width="15.59" height="1.05" fill="#131713"/>
<rect x="322.61" y="357.20" width="15.59" height="2.05" fill="#192219"/>
<rect x="322.61" y="359.20" width="15.59" height="1.55" fill="#161c16"/>
<rect x="322.61" y="360.70" width="15.59" height="2.55" fill="#1a241a"/>
<rect x="322.61" y="363.20" width="15.59" height="1.05" fill="#1a231a"/>
<rect x="322.61" y="364.20" width="15.59" height="1.05" fill="#121512"/>
<rect x="322.61" y="365.20" width="15.59" height="1.55" fill="#161c16"/>
<rect x="322.61" y="366.70" width="15.59" height="1.05" fill="#141914"/>
<rect x="322.61" y="367.70" width="15.59" height="1.05" fill="#131613"/>
<rect x="322.61" y="368.70" width="15.59" height="2.05" fill="#0d0d0d"/>
<rect x="322.61" y="370.70" width="15.59" height="1.05" fill="#192119"/>
<rect x="322.61" y="371.70" width="15.59" height="2.55" fill="#151b15"/>
<rect x="322.61" y="374.20" width="15.59" height="1.05" fill="#0c0d0c"/>
<rect x="322.61" y="375.20" width="15.59" height="1.05" fill="#1e2c1e"/>
<rect x="322.61" y="376.20" width="15.59" height="1.05" fill="#0e0f0e"/>
<rect x="322.61" y="377.20" width="15.59" height="1.05" fill="#1b251b"/>
<rect x="322.61" y="378.20" width="15.59" height="1.55" fill="#151a15"/>
<rect x="322.61" y="379.70" width="15.59" height="1.55" fill="#1e2b1e"/>
<rect x="322.61" y="381.20" width="15.59" height="1.55" fill="#161b16"/>
<rect x="322.61" y="382.70" width="15.59" height="1.05" fill="#141814"/>
<rect x="322.61" y="383.70" width="15.59" height="1.05" fill="#0d0d0d"/>
<rect x="322.61" y="384.70" width="15.59" height="1.55" fill="#121512"/>
<rect x="322.61" y="386.20" width="15.59" height="1.55" fill="#0c0c0c"/>
<rect x="322.61" y="387.70" width="15.59" height="2.05" fill="#0e0f0e"/>
<rect x="322.61" y="389.70" width="15.59" height="1.05" fill="#171e17"/>
<rect x="322.61" y="390.70" width="15.59" height="1.05" fill="#1c271c"/>
<rect x="322.61" y="391.70" width="15.59" height="1.55" fill="#171e17"/>
<rect x="322.61" y="393.20" width="15.59" height="2.05" fill="#182018"/>
<rect x="322.61" y="395.20" width="15.59" height="1.05" fill="#171d17"/>
<rect x="322.61" y="396.20" width="15.59" height="1.55" fill="#131613"/>
<rect x="322.61" y="397.70" width="15.59" height="1.05" fill="#181f18"/>
<rect x="322.61" y="398.70" width="15.59" height="1.55" fill="#1c281c"/>
<rect x="322.61" y="400.20" width="15.59" height="2.05" fill="#161c16"/>
<rect x="322.61" y="402.20" width="15.59" height="1.05" fill="#9b3620"/>
<rect x="322.61" y="403.20" width="15.59" height="1.05" fill="#21100c"/>
<rect x="322.61" y="404.20" width="15.59" height="1.05" fill="#93341f"/>
<rect x="322.61" y="405.20" width="15.59" height="1.05" fill="#a63a22"/>
<rect x="322.61" y="406.20" width="15.59" height="3.55" fill="#cd4628"/>
<rect x="322.61" y="409.70" width="15.59" height="2.05" fill="#4d1e13"/>
<rect x="322.61" y="411.70" width="15.59" height="1.05" fill="#a43921"/>
<rect x="322.61" y="412.70" width="15.59" height="1.05" fill="#c64427"/>
<rect x="322.61" y="413.70" width="15.59" height="1.05" fill="#a83a22"/>
<rect x="322.61" y="414.70" width="15.59" height="1.05" fill="#91331e"/>
<rect x="322.61" y="415.70" width="15.59" height="1.05" fill="#702919"/>
<rect x="322.61" y="416.70" width="15.59" height="1.55" fill="#802e1c"/>
<rect x="322.61" y="418.20" width="15.59" height="2.05" fill="#cd4628"/>
<rect x="322.61" y="420.20" width="15.59" height="1.05" fill="#c44326"/>
<rect x="322.61" y="421.20" width="15.59" height="2.05" fill="#93341f"/>
<rect x="322.61" y="423.20" width="15.59" height="2.05" fill="#cd4628"/>
<rect x="322.61" y="425.20" width="15.59" height="1.05" fill="#6a2718"/>
<rect x="322.61" y="426.20" width="15.59" height="1.05" fill="#89311d"/>
<rect x="322.61" y="427.20" width="15.59" height="2.05" fill="#171e17"/>
<rect x="322.61" y="429.20" width="15.59" height="2.05" fill="#2c130e"/>
<rect x="322.61" y="431.20" width="15.59" height="1.05" fill="#110b09"/>
<rect x="322.61" y="432.20" width="15.59" height="1.55" fill="#2d140e"/>
<rect x="322.61" y="433.70" width="15.59" height="2.05" fill="#35160f"/>
<rect x="322.61" y="435.70" width="15.59" height="1.55" fill="#b13d24"/>
<rect x="322.61" y="437.20" width="15.59" height="1.55" fill="#0c0c0c"/>
<rect x="322.61" y="438.70" width="15.59" height="1.55" fill="#2e140e"/>
<rect x="322.61" y="440.20" width="15.59" height="1.55" fill="#2a130d"/>
<rect x="322.61" y="441.70" width="15.59" height="1.05" fill="#180d0b"/>
<rect x="322.61" y="442.70" width="15.59" height="1.55" fill="#23110c"/>
<rect x="322.61" y="444.20" width="15.59" height="1.55" fill="#3b1810"/>
<rect x="322.61" y="445.70" width="15.59" height="1.05" fill="#35160f"/>
<rect x="322.61" y="446.70" width="15.59" height="1.05" fill="#1e2a1e"/>
<rect x="322.61" y="447.70" width="15.59" height="1.05" fill="#120b0a"/>
<rect x="322.61" y="448.70" width="15.59" height="1.05" fill="#0f100f"/>
<rect x="322.61" y="449.70" width="15.59" height="1.55" fill="#0d0a09"/>
<rect x="322.61" y="451.20" width="15.59" height="1.05" fill="#421a11"/>
<rect x="322.61" y="452.20" width="15.59" height="1.05" fill="#151b15"/>
<rect x="322.61" y="453.20" width="15.59" height="1.05" fill="#1c0e0b"/>
<rect x="322.61" y="454.20" width="15.59" height="2.05" fill="#26110d"/>
<rect x="322.61" y="456.20" width="15.59" height="1.05" fill="#1b0e0b"/>
<rect x="322.61" y="457.20" width="15.59" height="1.05" fill="#26110d"/>
<rect x="322.61" y="458.20" width="15.59" height="1.05" fill="#090808"/>
<rect x="322.61" y="459.20" width="15.59" height="2.05" fill="#131613"/>
<rect x="322.61" y="461.20" width="15.59" height="1.05" fill="#36160f"/>
<rect x="322.61" y="462.20" width="15.59" height="2.05" fill="#361710"/>
<rect x="322.61" y="464.20" width="15.59" height="1.05" fill="#1c0e0b"/>
<rect x="322.61" y="465.20" width="15.59" height="1.05" fill="#1c281c"/>
<rect x="322.61" y="466.20" width="15.59" height="2.05" fill="#180d0b"/>
<rect x="322.61" y="468.20" width="15.59" height="1.05" fill="#101210"/>
<rect x="322.61" y="469.20" width="15.59" height="1.05" fill="#101310"/>
<rect x="322.61" y="470.20" width="15.59" height="1.05" fill="#25110d"/>
<rect x="322.61" y="471.20" width="15.59" height="2.05" fill="#2d140e"/>
<rect x="322.61" y="473.20" width="15.59" height="1.55" fill="#110b09"/>
<rect x="322.61" y="474.70" width="15.59" height="1.05" fill="#411a11"/>
<rect x="322.61" y="475.70" width="15.59" height="1.05" fill="#150c0a"/>
<rect x="322.61" y="476.70" width="15.59" height="1.05" fill="#151a15"/>
<rect x="322.61" y="477.70" width="15.59" height="1.85" fill="#0e0a09"/>
<rect x="337.90" y="217.20" width="15.59" height="1.05" fill="#1b241b"/>
<rect x="337.90" y="218.20" width="15.59" height="1.05" fill="#141914"/>
<rect x="337.90" y="219.20" width="15.59" height="1.55" fill="#0c0c0c"/>
<rect x="337.90" y="220.70" width="15.59" height="1.05" fill="#1a231a"/>
<rect x="337.90" y="221.70" width="15.59" height="1.05" fill="#0e0f0e"/>
<rect x="337.90" y="222.70" width="15.59" height="2.05" fill="#161c16"/>
<rect x="337.90" y="224.70" width="15.59" height="1.05" fill="#1a241a"/>
<rect x="337.90" y="225.70" width="15.59" height="1.05" fill="#192119"/>
<rect x="337.90" y="226.70" width="15.59" height="2.05" fill="#161d16"/>
<rect x="337.90" y="228.70" width="15.59" height="1.05" fill="#121612"/>
<rect x="337.90" y="229.70" width="15.59" height="2.05" fill="#161c16"/>
<rect x="337.90" y="231.70" width="15.59" height="1.05" fill="#1c281c"/>
<rect x="337.90" y="232.70" width="15.59" height="1.05" fill="#141814"/>
<rect x="337.90" y="233.70" width="15.59" height="1.05" fill="#161c16"/>
<rect x="337.90" y="234.70" width="15.59" height="1.55" fill="#0c0d0c"/>
<rect x="337.90" y="236.20" width="15.59" height="1.55" fill="#182018"/>
<rect x="337.90" y="237.70" width="15.59" height="1.05" fill="#161b16"/>
<rect x="337.90" y="238.70" width="15.59" height="1.05" fill="#182018"/>
<rect x="337.90" y="239.70" width="15.59" height="1.05" fill="#161c16"/>
<rect x="337.90" y="240.70" width="15.59" height="2.05" fill="#213121"/>
<rect x="337.90" y="242.70" width="15.59" height="1.55" fill="#131713"/>
<rect x="337.90" y="244.20" width="15.59" height="1.05" fill="#182018"/>
<rect x="337.90" y="245.20" width="15.59" height="2.05" fill="#151b15"/>
<rect x="337.90" y="247.20" width="15.59" height="1.05" fill="#171e17"/>
<rect x="337.90" y="248.20" width="15.59" height="1.05" fill="#1a231a"/>
<rect x="337.90" y="249.20" width="15.59" height="2.05" fill="#1b251b"/>
<rect x="337.90" y="251.20" width="15.59" height="1.05" fill="#151a15"/>
<rect x="337.90" y="252.20" width="15.59" height="2.05" fill="#1c271c"/>
<rect x="337.90" y="254.20" width="15.59" height="2.05" fill="#1d291d"/>
<rect x="337.90" y="256.20" width="15.59" height="1.55" fill="#161c16"/>
<rect x="337.90" y="257.70" width="15.59" height="1.05" fill="#182018"/>
<rect x="337.90" y="258.70" width="15.59" height="1.05" fill="#171e17"/>
<rect x="337.90" y="259.70" width="15.59" height="1.05" fill="#161c16"/>
<rect x="337.90" y="260.70" width="15.59" height="2.05" fill="#1b261b"/>
<rect x="337.90" y="262.70" width="15.59" height="1.05" fill="#192219"/>
<rect x="337.90" y="263.70" width="15.59" height="1.05" fill="#192119"/>
<rect x="337.90" y="264.70" width="15.59" height="1.55" fill="#1f2e1f"/>
<rect x="337.90" y="266.20" width="15.59" height="1.05" fill="#141814"/>
<rect x="337.90" y="267.20" width="15.59" height="3.05" fill="#1b251b"/>
<rect x="337.90" y="270.20" width="15.59" height="2.05" fill="#121512"/>
<rect x="337.90" y="272.20" width="15.59" height="1.05" fill="#181f18"/>
<rect x="337.90" y="273.20" width="15.59" height="2.05" fill="#182018"/>
<rect x="337.90" y="275.20" width="15.59" height="1.05" fill="#151915"/>
<rect x="337.90" y="276.20" width="15.59" height="1.05" fill="#192119"/>
<rect x="337.90" y="277.20" width="15.59" height="2.05" fill="#1b251b"/>
<rect x="337.90" y="279.20" width="15.59" height="2.05" fill="#121612"/>
<rect x="337.90" y="281.20" width="15.59" height="1.05" fill="#141914"/>
<rect x="337.90" y="282.20" width="15.59" height="1.05" fill="#1a231a"/>
<rect x="337.90" y="283.20" width="15.59" height="1.05" fill="#192119"/>
<rect x="337.90" y="284.20" width="15.59" height="2.05" fill="#151a15"/>
<rect x="337.90" y="286.20" width="15.59" height="1.05" fill="#181f18"/>
<rect x="337.90" y="287.20" width="15.59" height="2.05" fill="#0c0d0c"/>
<rect x="337.90" y="289.20" width="15.59" height="1.05" fill="#1c281c"/>
<rect x="337.90" y="290.20" width="15.59" height="2.05" fill="#192219"/>
<rect x="337.90" y="292.20" width="15.59" height="1.05" fill="#151a15"/>
<rect x="337.90" y="293.20" width="15.59" height="1.55" fill="#1e2b1e"/>
<rect x="337.90" y="294.70" width="15.59" height="2.05" fill="#121412"/>
<rect x="337.90" y="296.70" width="15.59" height="1.55" fill="#161d16"/>
<rect x="337.90" y="298.20" width="15.59" height="1.05" fill="#141814"/>
<rect x="337.90" y="299.20" width="15.59" height="1.55" fill="#161b16"/>
<rect x="337.90" y="300.70" width="15.59" height="2.05" fill="#0b0b0b"/>
<rect x="337.90" y="302.70" width="15.59" height="1.55" fill="#0e0f0e"/>
<rect x="337.90" y="304.20" width="15.59" height="1.05" fill="#111311"/>
<rect x="337.90" y="305.20" width="15.59" height="1.05" fill="#0c0c0c"/>
<rect x="337.90" y="306.20" width="15.59" height="1.05" fill="#171e17"/>
<rect x="337.90" y="307.20" width="15.59" height="1.05" fill="#0e100e"/>
<rect x="337.90" y="308.20" width="15.59" height="1.05" fill="#141914"/>
<rect x="337.90" y="309.20" width="15.59" height="1.05" fill="#1e2b1e"/>
<rect x="337.90" y="310.20" width="15.59" height="2.05" fill="#192219"/>
<rect x="337.90" y="312.20" width="15.59" height="1.05" fill="#171e17"/>
<rect x="337.90" y="313.20" width="15.59" height="2.05" fill="#111311"/>
<rect x="337.90" y="315.20" width="15.59" height="1.55" fill="#0e0f0e"/>
<rect x="337.90" y="316.70" width="15.59" height="1.05" fill="#141814"/>
<rect x="337.90" y="317.70" width="15.59" height="1.55" fill="#0c0c0c"/>
<rect x="337.90" y="319.20" width="15.59" height="1.05" fill="#1b251b"/>
<rect x="337.90" y="320.20" width="15.59" height="2.05" fill="#121512"/>
<rect x="337.90" y="322.20" width="15.59" height="1.05" fill="#171e17"/>
<rect x="337.90" y="323.20" width="15.59" height="1.05" fill="#161b16"/>
<rect x="337.90" y="324.20" width="15.59" height="2.05" fill="#192119"/>
<rect x="337.90" y="326.20" width="15.59" height="1.55" fill="#1b251b"/>
<rect x="337.90" y="327.70" width="15.59" height="2.05" fill="#1d281d"/>
<rect x="337.90" y="329.70" width="15.59" height="1.05" fill="#182018"/>
<rect x="337.90" y="330.70" width="15.59" height="1.55" fill="#1a241a"/>
<rect x="337.90" y="332.20" width="15.59" height="1.55" fill="#1d281d"/>
<rect x="337.90" y="333.70" width="15.59" height="2.05" fill="#192119"/>
<rect x="337.90" y="335.70" width="15.59" height="2.05" fill="#182018"/>
<rect x="337.90" y="337.70" width="15.59" height="2.05" fill="#131713"/>
<rect x="337.90" y="339.70" width="15.59" height="1.05" fill="#0e0e0e"/>
<rect x="337.90" y="340.70" width="15.59" height="1.05" fill="#1a241a"/>
<rect x="337.90" y="341.70" width="15.59" height="1.05" fill="#0f100f"/>
<rect x="337.90" y="342.70" width="15.59" height="2.05" fill="#131713"/>
<rect x="337.90" y="344.70" width="15.59" height="1.55" fill="#284028"/>
<rect x="337.90" y="346.20" width="15.59" height="2.05" fill="#1b251b"/>
<rect x="337.90" y="348.20" width="15.59" height="1.55" fill="#1a231a"/>
<rect x="337.90" y="349.70" width="15.59" height="1.05" fill="#1c271c"/>
<rect x="337.90" y="350.70" width="15.59" height="1.05" fill="#0c0c0c"/>
<rect x="337.90" y="351.70" width="15.59" height="1.05" fill="#161d16"/>
<rect x="337.90" y="352.70" width="15.59" height="1.55" fill="#192119"/>
<rect x="337.90" y="354.20" width="15.59" height="1.05" fill="#151a15"/>
<rect x="337.90" y="355.20" width="15.59" height="1.05" fill="#0e0f0e"/>
<rect x="337.90" y="356.20" width="15.59" height="1.05" fill="#141814"/>
<rect x="337.90" y="357.20" width="15.59" height="2.05" fill="#171d17"/>
<rect x="337.90" y="359.20" width="15.59" height="2.55" fill="#151a15"/>
<rect x="337.90" y="361.70" width="15.59" height="1.55" fill="#1c281c"/>
<rect x="337.90" y="363.20" width="15.59" height="1.05" fill="#192119"/>
<rect x="337.90" y="364.20" width="15.59" height="1.05" fill="#121412"/>
<rect x="337.90" y="365.20" width="15.59" height="1.55" fill="#1b261b"/>
<rect x="337.90" y="366.70" width="15.59" height="1.05" fill="#181f18"/>
<rect x="337.90" y="367.70" width="15.59" height="1.05" fill="#171e17"/>
<rect x="337.90" y="368.70" width="15.59" height="2.05" fill="#0d0d0d"/>
<rect x="337.90" y="370.70" width="15.59" height="1.05" fill="#171f17"/>
<rect x="337.90" y="371.70" width="15.59" height="1.55" fill="#151a15"/>
<rect x="337.90" y="373.20" width="15.59" height="1.05" fill="#151b15"/>
<rect x="337.90" y="374.20" width="15.59" height="1.05" fill="#0d0e0d"/>
<rect x="337.90" y="375.20" width="15.59" height="1.05" fill="#161b16"/>
<rect x="337.90" y="376.20" width="15.59" height="1.05" fill="#0c0c0c"/>
<rect x="337.90" y="377.20" width="15.59" height="1.05" fill="#161c16"/>
<rect x="337.90" y="378.20" width="15.59" height="1.55" fill="#192119"/>
<rect x="337.90" y="379.70" width="15.59" height="1.55" fill="#1c271c"/>
<rect x="337.90" y="381.20" width="15.59" height="1.55" fill="#0b0c0b"/>
<rect x="337.90" y="382.70" width="15.59" height="1.05" fill="#181f18"/>
<rect x="337.90" y="383.70" width="15.59" height="1.05" fill="#0d0d0d"/>
<rect x="337.90" y="384.70" width="15.59" height="1.55" fill="#1d291d"/>
<rect x="337.90" y="386.20" width="15.59" height="1.55" fill="#0e100e"/>
<rect x="337.90" y="387.70" width="15.59" height="2.05" fill="#0c0c0c"/>
<rect x="337.90" y="389.70" width="15.59" height="1.05" fill="#1b241b"/>
<rect x="337.90" y="390.70" width="15.59" height="1.05" fill="#171e17"/>
<rect x="337.90" y="391.70" width="15.59" height="1.55" fill="#1d291d"/>
<rect x="337.90" y="393.20" width="15.59" height="2.05" fill="#171e17"/>
<rect x="337.90" y="395.20" width="15.59" height="1.05" fill="#192119"/>
<rect x="337.90" y="396.20" width="15.59" height="1.55" fill="#131713"/>
<rect x="337.90" y="397.70" width="15.59" height="1.05" fill="#161c16"/>
<rect x="337.90" y="398.70" width="15.59" height="1.55" fill="#192219"/>
<rect x="337.90" y="400.20" width="15.59" height="1.05" fill="#161d16"/>
<rect x="337.90" y="401.20" width="15.59" height="1.05" fill="#161b16"/>
<rect x="337.90" y="402.20" width="15.59" height="1.05" fill="#190d0b"/>
<rect x="337.90" y="403.20" width="15.59" height="1.05" fill="#0e0e0e"/>
<rect x="337.90" y="404.20" width="15.59" height="1.05" fill="#26110d"/>
<rect x="337.90" y="405.20" width="15.59" height="1.05" fill="#30140e"/>
<rect x="337.90" y="406.20" width="15.59" height="1.05" fill="#9b3620"/>
<rect x="337.90" y="407.20" width="15.59" height="1.05" fill="#5c2216"/>
<rect x="337.90" y="408.20" width="15.59" height="1.55" fill="#4d1e13"/>
<rect x="337.90" y="409.70" width="15.59" height="2.05" fill="#0e0a09"/>
<rect x="337.90" y="411.70" width="15.59" height="1.05" fill="#30150f"/>
<rect x="337.90" y="412.70" width="15.59" height="1.05" fill="#1c0e0b"/>
<rect x="337.90" y="413.70" width="15.59" height="1.05" fill="#4e1e13"/>
<rect x="337.90" y="414.70" width="15.59" height="1.05" fill="#1c0e0b"/>
<rect x="337.90" y="415.70" width="15.59" height="1.05" fill="#26120d"/>
<rect x="337.90" y="416.70" width="15.59" height="1.55" fill="#632517"/>
<rect x="337.90" y="418.20" width="15.59" height="2.05" fill="#401a11"/>
<rect x="337.90" y="420.20" width="15.59" height="1.05" fill="#192119"/>
<rect x="337.90" y="421.20" width="15.59" height="2.05" fill="#1d291d"/>
<rect x="337.90" y="423.20" width="15.59" height="2.05" fill="#461c12"/>
<rect x="337.90" y="425.20" width="15.59" height="1.05" fill="#33150f"/>
<rect x="337.90" y="426.20" width="15.59" height="1.05" fill="#491c13"/>
<rect x="337.90" y="427.20" width="15.59" height="2.05" fill="#b23d24"/>
<rect x="337.90" y="429.20" width="15.59" height="2.05" fill="#b33e24"/>
<rect x="337.90" y="431.20" width="15.59" height="2.55" fill="#cd4628"/>
<rect x="337.90" y="433.70" width="15.59" height="2.05" fill="#20100c"/>
<rect x="337.90" y="435.70" width="15.59" height="1.55" fill="#2d140e"/>
<rect x="337.90" y="437.20" width="15.59" height="1.55" fill="#180d0b"/>
<rect x="337.90" y="438.70" width="15.59" height="1.55" fill="#23100c"/>
<rect x="337.90" y="440.20" width="15.59" height="1.55" fill="#371710"/>
<rect x="337.90" y="441.70" width="15.59" height="1.05" fill="#2f140e"/>
<rect x="337.90" y="442.70" width="15.59" height="1.55" fill="#431b12"/>
<rect x="337.90" y="444.20" width="15.59" height="1.55" fill="#31150f"/>
<rect x="337.90" y="445.70" width="15.59" height="1.05" fill="#582115"/>
<rect x="337.90" y="446.70" width="15.59" height="1.05" fill="#8f321e"/>
<rect x="337.90" y="447.70" width="15.59" height="1.05" fill="#7f2d1b"/>
<rect x="337.90" y="448.70" width="15.59" height="1.05" fill="#23110c"/>
<rect x="337.90" y="449.70" width="15.59" height="1.55" fill="#c94527"/>
<rect x="337.90" y="451.20" width="15.59" height="1.05" fill="#90331e"/>
<rect x="337.90" y="452.20" width="15.59" height="1.05" fill="#96351f"/>
<rect x="337.90" y="453.20" width="15.59" height="1.05" fill="#cd4628"/>
<rect x="337.90" y="454.20" width="15.59" height="2.05" fill="#1a0e0b"/>
<rect x="337.90" y="456.20" width="15.59" height="1.05" fill="#200f0c"/>
<rect x="337.90" y="457.20" width="15.59" height="1.05" fill="#110b09"/>
<rect x="337.90" y="458.20" width="15.59" height="1.05" fill="#0b0909"/>
<rect x="337.90" y="459.20" width="15.59" height="2.05" fill="#0a0908"/>
<rect x="337.90" y="461.20" width="15.59" height="1.05" fill="#1c271c"/>
<rect x="337.90" y="462.20" width="15.59" height="2.05" fill="#27120d"/>
<rect x="337.90" y="464.20" width="15.59" height="1.05" fill="#b73f24"/>
<rect x="337.90" y="465.20" width="15.59" height="1.05" fill="#2f140e"/>
<rect x="337.90" y="466.20" width="15.59" height="2.05" fill="#1b0e0b"/>
<rect x="337.90" y="468.20" width="15.59" height="1.05" fill="#9d3720"/>
<rect x="337.90" y="469.20" width="15.59" height="1.05" fill="#31150f"/>
<rect x="337.90" y="470.20" width="15.59" height="1.05" fill="#461b12"/>
<rect x="337.90" y="471.20" width="15.59" height="2.05" fill="#22100c"/>
<rect x="337.90" y="473.20" width="15.59" height="1.55" fill="#3e1911"/>
<rect x="337.90" y="474.70" width="15.59" height="1.05" fill="#28120d"/>
<rect x="337.90" y="475.70" width="15.59" height="1.05" fill="#0b0908"/>
<rect x="337.90" y="476.70" width="15.59" height="1.05" fill="#1b0e0b"/>
<rect x="337.90" y="477.70" width="15.59" height="1.85" fill="#170d0a"/>
<rect x="353.19" y="217.20" width="15.59" height="1.05" fill="#141914"/>
<rect x="353.19" y="218.20" width="15.59" height="1.05" fill="#0a0a0a"/>
<rect x="353.19" y="219.20" width="15.59" height="1.55" fill="#090909"/>
<rect x="353.19" y="220.70" width="15.59" height="1.05" fill="#151a15"/>
<rect x="353.19" y="221.70" width="15.59" height="1.05" fill="#090909"/>
<rect x="353.19" y="222.70" width="15.59" height="2.05" fill="#0a090a"/>
<rect x="353.19" y="224.70" width="15.59" height="1.05" fill="#131613"/>
<rect x="353.19" y="225.70" width="15.59" height="1.05" fill="#131713"/>
<rect x="353.19" y="226.70" width="15.59" height="2.05" fill="#141914"/>
<rect x="353.19" y="228.70" width="15.59" height="1.05" fill="#0f100f"/>
<rect x="353.19" y="229.70" width="15.59" height="2.05" fill="#0f110f"/>
<rect x="353.19" y="231.70" width="15.59" height="1.05" fill="#181f18"/>
<rect x="353.19" y="232.70" width="15.59" height="2.05" fill="#141914"/>
<rect x="353.19" y="234.70" width="15.59" height="1.55" fill="#0c0c0c"/>
<rect x="353.19" y="236.20" width="15.59" height="1.55" fill="#101310"/>
<rect x="353.19" y="237.70" width="15.59" height="2.05" fill="#111311"/>
<rect x="353.19" y="239.70" width="15.59" height="1.05" fill="#151915"/>
<rect x="353.19" y="240.70" width="15.59" height="2.05" fill="#0e0f0e"/>
<rect x="353.19" y="242.70" width="15.59" height="1.55" fill="#0e0e0e"/>
<rect x="353.19" y="244.20" width="15.59" height="1.05" fill="#101210"/>
<rect x="353.19" y="245.20" width="15.59" height="2.05" fill="#121512"/>
<rect x="353.19" y="247.20" width="15.59" height="1.05" fill="#151a15"/>
<rect x="353.19" y="248.20" width="15.59" height="1.05" fill="#111411"/>
<rect x="353.19" y="249.20" width="15.59" height="2.05" fill="#181f18"/>
<rect x="353.19" y="251.20" width="15.59" height="1.05" fill="#151a15"/>
<rect x="353.19" y="252.20" width="15.59" height="2.05" fill="#161c16"/>
<rect x="353.19" y="254.20" width="15.59" height="2.05" fill="#171e17"/>
<rect x="353.19" y="256.20" width="15.59" height="1.55" fill="#1a241a"/>
<rect x="353.19" y="257.70" width="15.59" height="1.05" fill="#181f18"/>
<rect x="353.19" y="258.70" width="15.59" height="1.05" fill="#161b16"/>
<rect x="353.19" y="259.70" width="15.59" height="1.05" fill="#161c16"/>
<rect x="353.19" y="260.70" width="15.59" height="2.05" fill="#1a231a"/>
<rect x="353.19" y="262.70" width="15.59" height="1.05" fill="#243724"/>
<rect x="353.19" y="263.70" width="15.59" height="1.05" fill="#151b15"/>
<rect x="353.19" y="264.70" width="15.59" height="1.55" fill="#1c271c"/>
<rect x="353.19" y="266.20" width="15.59" height="1.05" fill="#131713"/>
<rect x="353.19" y="267.20" width="15.59" height="2.05" fill="#161c16"/>
<rect x="353.19" y="269.20" width="15.59" height="1.05" fill="#171f17"/>
<rect x="353.19" y="270.20" width="15.59" height="2.05" fill="#1b251b"/>
<rect x="353.19" y="272.20" width="15.59" height="1.05" fill="#192119"/>
<rect x="353.19" y="273.20" width="15.59" height="2.05" fill="#1c261c"/>
<rect x="353.19" y="275.20" width="15.59" height="1.05" fill="#161c16"/>
<rect x="353.19" y="276.20" width="15.59" height="1.05" fill="#192119"/>
<rect x="353.19" y="277.20" width="15.59" height="2.05" fill="#171d17"/>
<rect x="353.19" y="279.20" width="15.59" height="2.05" fill="#151a15"/>
<rect x="353.19" y="281.20" width="15.59" height="1.05" fill="#181f18"/>
<rect x="353.19" y="282.20" width="15.59" height="1.05" fill="#161c16"/>
<rect x="353.19" y="283.20" width="15.59" height="1.05" fill="#192119"/>
<rect x="353.19" y="284.20" width="15.59" height="2.05" fill="#141914"/>
<rect x="353.19" y="286.20" width="15.59" height="1.05" fill="#131613"/>
<rect x="353.19" y="287.20" width="15.59" height="2.05" fill="#0c0d0c"/>
<rect x="353.19" y="289.20" width="15.59" height="1.05" fill="#161d16"/>
<rect x="353.19" y="290.20" width="15.59" height="2.05" fill="#161c16"/>
<rect x="353.19" y="292.20" width="15.59" height="1.05" fill="#181f18"/>
<rect x="353.19" y="293.20" width="15.59" height="1.55" fill="#1b251b"/>
<rect x="353.19" y="294.70" width="15.59" height="2.05" fill="#111311"/>
<rect x="353.19" y="296.70" width="15.59" height="1.55" fill="#192219"/>
<rect x="353.19" y="298.20" width="15.59" height="1.05" fill="#161c16"/>
<rect x="353.19" y="299.20" width="15.59" height="1.55" fill="#161b16"/>
<rect x="353.19" y="300.70" width="15.59" height="2.05" fill="#0f100f"/>
<rect x="353.19" y="302.70" width="15.59" height="1.55" fill="#111411"/>
<rect x="353.19" y="304.20" width="15.59" height="1.05" fill="#151a15"/>
<rect x="353.19" y="305.20" width="15.59" height="1.05" fill="#0d0e0d"/>
<rect x="353.19" y="306.20" width="15.59" height="1.05" fill="#253925"/>
<rect x="353.19" y="307.20" width="15.59" height="1.05" fill="#0d0e0d"/>
<rect x="353.19" y="308.20" width="15.59" height="1.05" fill="#192219"/>
<rect x="353.19" y="309.20" width="15.59" height="1.05" fill="#161c16"/>
<rect x="353.19" y="310.20" width="15.59" height="2.05" fill="#1a231a"/>
<rect x="353.19" y="312.20" width="15.59" height="1.05" fill="#171d17"/>
<rect x="353.19" y="313.20" width="15.59" height="2.05" fill="#0c0c0c"/>
<rect x="353.19" y="315.20" width="15.59" height="1.55" fill="#0e0e0e"/>
<rect x="353.19" y="316.70" width="15.59" height="1.05" fill="#151a15"/>
<rect x="353.19" y="317.70" width="15.59" height="1.55" fill="#0d0e0d"/>
<rect x="353.19" y="319.20" width="15.59" height="1.05" fill="#161b16"/>
<rect x="353.19" y="320.20" width="15.59" height="2.05" fill="#171f17"/>
<rect x="353.19" y="322.20" width="15.59" height="1.05" fill="#141914"/>
<rect x="353.19" y="323.20" width="15.59" height="1.05" fill="#171d17"/>
<rect x="353.19" y="324.20" width="15.59" height="2.05" fill="#151a15"/>
<rect x="353.19" y="326.20" width="15.59" height="1.55" fill="#1b261b"/>
<rect x="353.19" y="327.70" width="15.59" height="1.05" fill="#151b15"/>
<rect x="353.19" y="328.70" width="15.59" height="1.05" fill="#182018"/>
<rect x="353.19" y="329.70" width="15.59" height="1.05" fill="#1a231a"/>
<rect x="353.19" y="330.70" width="15.59" height="1.55" fill="#192119"/>
<rect x="353.19" y="332.20" width="15.59" height="1.55" fill="#1b251b"/>
<rect x="353.19" y="333.70" width="15.59" height="1.05" fill="#182018"/>
<rect x="353.19" y="334.70" width="15.59" height="1.05" fill="#192219"/>
<rect x="353.19" y="335.70" width="15.59" height="2.05" fill="#1a231a"/>
<rect x="353.19" y="337.70" width="15.59" height="2.05" fill="#171e17"/>
<rect x="353.19" y="339.70" width="15.59" height="1.05" fill="#0d0d0d"/>
<rect x="353.19" y="340.70" width="15.59" height="1.05" fill="#161d16"/>
<rect x="353.19" y="341.70" width="15.59" height="1.05" fill="#0e0f0e"/>
<rect x="353.19" y="342.70" width="15.59" height="2.05" fill="#151a15"/>
<rect x="353.19" y="344.70" width="15.59" height="3.55" fill="#192119"/>
<rect x="353.19" y="348.20" width="15.59" height="1.55" fill="#213121"/>
<rect x="353.19" y="349.70" width="15.59" height="1.05" fill="#161c16"/>
<rect x="353.19" y="350.70" width="15.59" height="1.05" fill="#0c0c0c"/>
<rect x="353.19" y="351.70" width="15.59" height="1.05" fill="#171d17"/>
<rect x="353.19" y="352.70" width="15.59" height="1.55" fill="#131713"/>
<rect x="353.19" y="354.20" width="15.59" height="1.05" fill="#182018"/>
<rect x="353.19" y="355.20" width="15.59" height="1.05" fill="#0b0b0b"/>
<rect x="353.19" y="356.20" width="15.59" height="1.05" fill="#1a231a"/>
<rect x="353.19" y="357.20" width="15.59" height="2.05" fill="#182018"/>
<rect x="353.19" y="359.20" width="15.59" height="1.55" fill="#1d281d"/>
<rect x="353.19" y="360.70" width="15.59" height="1.05" fill="#181f18"/>
<rect x="353.19" y="361.70" width="15.59" height="1.55" fill="#1d291d"/>
<rect x="353.19" y="363.20" width="15.59" height="1.05" fill="#1e2a1e"/>
<rect x="353.19" y="364.20" width="15.59" height="1.05" fill="#151a15"/>
<rect x="353.19" y="365.20" width="15.59" height="1.55" fill="#181f18"/>
<rect x="353.19" y="366.70" width="15.59" height="1.05" fill="#151b15"/>
<rect x="353.19" y="367.70" width="15.59" height="1.05" fill="#151a15"/>
<rect x="353.19" y="368.70" width="15.59" height="2.05" fill="#0d0e0d"/>
<rect x="353.19" y="370.70" width="15.59" height="1.05" fill="#1b251b"/>
<rect x="353.19" y="371.70" width="15.59" height="1.55" fill="#161c16"/>
<rect x="353.19" y="373.20" width="15.59" height="1.05" fill="#151a15"/>
<rect x="353.19" y="374.20" width="15.59" height="1.05" fill="#0d0d0d"/>
<rect x="353.19" y="375.20" width="15.59" height="1.05" fill="#121612"/>
<rect x="353.19" y="376.20" width="15.59" height="1.05" fill="#0c0d0c"/>
<rect x="353.19" y="377.20" width="15.59" height="1.05" fill="#192119"/>
<rect x="353.19" y="378.20" width="15.59" height="3.05" fill="#182018"/>
<rect x="353.19" y="381.20" width="15.59" height="1.55" fill="#101210"/>
<rect x="353.19" y="382.70" width="15.59" height="1.05" fill="#111411"/>
<rect x="353.19" y="383.70" width="15.59" height="1.05" fill="#0d0e0d"/>
<rect x="353.19" y="384.70" width="15.59" height="1.55" fill="#243824"/>
<rect x="353.19" y="386.20" width="15.59" height="3.55" fill="#0d0d0d"/>
<rect x="353.19" y="389.70" width="15.59" height="1.05" fill="#1c271c"/>
<rect x="353.19" y="390.70" width="15.59" height="1.05" fill="#121512"/>
<rect x="353.19" y="391.70" width="15.59" height="1.55" fill="#131713"/>
<rect x="353.19" y="393.20" width="15.59" height="2.05" fill="#161b16"/>
<rect x="353.19" y="395.20" width="15.59" height="1.05" fill="#151b15"/>
<rect x="353.19" y="396.20" width="15.59" height="1.55" fill="#0e0f0e"/>
<rect x="353.19" y="397.70" width="15.59" height="2.55" fill="#1b261b"/>
<rect x="353.19" y="400.20" width="15.59" height="1.05" fill="#223322"/>
<rect x="353.19" y="401.20" width="15.59" height="1.05" fill="#121512"/>
<rect x="353.19" y="402.20" width="15.59" height="1.05" fill="#9e3720"/>
<rect x="353.19" y="403.20" width="15.59" height="1.05" fill="#23100c"/>
<rect x="353.19" y="404.20" width="15.59" height="1.05" fill="#7b2c1b"/>
<rect x="353.19" y="405.20" width="15.59" height="1.05" fill="#ba4025"/>
<rect x="353.19" y="406.20" width="15.59" height="2.05" fill="#cd4628"/>
<rect x="353.19" y="408.20" width="15.59" height="1.55" fill="#c44327"/>
<rect x="353.19" y="409.70" width="15.59" height="2.05" fill="#471c12"/>
<rect x="353.19" y="411.70" width="15.59" height="1.05" fill="#93341f"/>
<rect x="353.19" y="412.70" width="15.59" height="1.05" fill="#cd4628"/>
<rect x="353.19" y="413.70" width="15.59" height="1.05" fill="#ac3c23"/>
<rect x="353.19" y="414.70" width="15.59" height="1.05" fill="#be4125"/>
<rect x="353.19" y="415.70" width="15.59" height="1.05" fill="#7b2c1b"/>
<rect x="353.19" y="416.70" width="15.59" height="1.55" fill="#c04226"/>
<rect x="353.19" y="418.20" width="15.59" height="3.05" fill="#cd4628"/>
<rect x="353.19" y="421.20" width="15.59" height="2.05" fill="#a33921"/>
<rect x="353.19" y="423.20" width="15.59" height="2.05" fill="#cd4628"/>
<rect x="353.19" y="425.20" width="15.59" height="1.05" fill="#9b3620"/>
<rect x="353.19" y="426.20" width="15.59" height="1.05" fill="#b83f25"/>
<rect x="353.19" y="427.20" width="15.59" height="2.05" fill="#a63a22"/>
<rect x="353.19" y="429.20" width="15.59" height="2.05" fill="#a33921"/>
<rect x="353.19" y="431.20" width="15.59" height="1.05" fill="#b13d24"/>
<rect x="353.19" y="432.20" width="15.59" height="1.55" fill="#9b3620"/>
<rect x="353.19" y="433.70" width="15.59" height="2.05" fill="#7f2e1b"/>
<rect x="353.19" y="435.70" width="15.59" height="1.55" fill="#bf4126"/>
<rect x="353.19" y="437.20" width="15.59" height="1.55" fill="#21100c"/>
<rect x="353.19" y="438.70" width="15.59" height="1.55" fill="#cd4628"/>
<rect x="353.19" y="440.20" width="15.59" height="1.55" fill="#8c321d"/>
<rect x="353.19" y="441.70" width="15.59" height="2.55" fill="#cd4628"/>
<rect x="353.19" y="444.20" width="15.59" height="1.55" fill="#b84025"/>
<rect x="353.19" y="445.70" width="15.59" height="1.05" fill="#7f2d1b"/>
<rect x="353.19" y="446.70" width="15.59" height="2.05" fill="#cd4628"/>
<rect x="353.19" y="448.70" width="15.59" height="1.05" fill="#25110d"/>
<rect x="353.19" y="449.70" width="15.59" height="3.55" fill="#cd4628"/>
<rect x="353.19" y="453.20" width="15.59" height="1.05" fill="#1b0e0b"/>
<rect x="353.19" y="454.20" width="15.59" height="2.05" fill="#0c0c0c"/>
<rect x="353.19" y="456.20" width="15.59" height="1.05" fill="#1c0e0b"/>
<rect x="353.19" y="457.20" width="15.59" height="1.05" fill="#190d0b"/>
<rect x="353.19" y="458.20" width="15.59" height="1.05" fill="#1a0e0b"/>
<rect x="353.19" y="459.20" width="15.59" height="2.05" fill="#5f2316"/>
<rect x="353.19" y="461.20" width="15.59" height="1.05" fill="#521f14"/>
<rect x="353.19" y="462.20" width="15.59" height="2.05" fill="#3c1810"/>
<rect x="353.19" y="464.20" width="15.59" height="1.05" fill="#411a11"/>
<rect x="353.19" y="465.20" width="15.59" height="1.05" fill="#160c0a"/>
<rect x="353.19" y="466.20" width="15.59" height="2.05" fill="#150c0a"/>
<rect x="353.19" y="468.20" width="15.59" height="1.05" fill="#0c0909"/>
<rect x="353.19" y="469.20" width="15.59" height="1.05" fill="#1b0e0b"/>
<rect x="353.19" y="470.20" width="15.59" height="1.05" fill="#812e1c"/>
<rect x="353.19" y="471.20" width="15.59" height="2.05" fill="#88301d"/>
<rect x="353.19" y="473.20" width="15.59" height="1.55" fill="#110b09"/>
<rect x="353.19" y="474.70" width="15.59" height="1.05" fill="#0c0d0c"/>
<rect x="353.19" y="475.70" width="15.59" height="1.05" fill="#110b09"/>
<rect x="353.19" y="476.70" width="15.59" height="1.05" fill="#160c0a"/>
<rect x="353.19" y="477.70" width="15.59" height="1.85" fill="#141814"/>
<rect x="368.48" y="217.20" width="15.59" height="1.05" fill="#0c0909"/>
<rect x="368.48" y="218.20" width="15.59" height="1.05" fill="#35160f"/>
<rect x="368.48" y="219.20" width="15.59" height="1.55" fill="#110b0a"/>
<rect x="368.48" y="220.70" width="15.59" height="1.05" fill="#130c0a"/>
<rect x="368.48" y="221.70" width="15.59" height="1.05" fill="#120b0a"/>
<rect x="368.48" y="222.70" width="15.59" height="2.05" fill="#140c0a"/>
<rect x="368.48" y="224.70" width="15.59" height="1.05" fill="#0a0808"/>
<rect x="368.48" y="225.70" width="15.59" height="1.05" fill="#190d0b"/>
<rect x="368.48" y="226.70" width="15.59" height="2.05" fill="#36160f"/>
<rect x="368.48" y="228.70" width="15.59" height="1.05" fill="#161d16"/>
<rect x="368.48" y="229.70" width="15.59" height="2.05" fill="#2a130d"/>
<rect x="368.48" y="231.70" width="15.59" height="1.05" fill="#170d0a"/>
<rect x="368.48" y="232.70" width="15.59" height="1.05" fill="#090808"/>
<rect x="368.48" y="233.70" width="15.59" height="1.05" fill="#120b0a"/>
<rect x="368.48" y="234.70" width="15.59" height="1.55" fill="#0d0909"/>
<rect x="368.48" y="236.20" width="15.59" height="1.55" fill="#0a0908"/>
<rect x="368.48" y="237.70" width="15.59" height="1.05" fill="#0b0908"/>
<rect x="368.48" y="238.70" width="15.59" height="1.05" fill="#0a0908"/>
<rect x="368.48" y="239.70" width="15.59" height="1.05" fill="#1a0e0b"/>
<rect x="368.48" y="240.70" width="15.59" height="2.05" fill="#140c0a"/>
<rect x="368.48" y="242.70" width="15.59" height="1.55" fill="#0c0909"/>
<rect x="368.48" y="244.20" width="15.59" height="1.05" fill="#1a0e0b"/>
<rect x="368.48" y="245.20" width="15.59" height="2.05" fill="#0b0a0b"/>
<rect x="368.48" y="247.20" width="15.59" height="1.05" fill="#150c0a"/>
<rect x="368.48" y="248.20" width="15.59" height="1.05" fill="#110b0a"/>
<rect x="368.48" y="249.20" width="15.59" height="2.05" fill="#1f0f0c"/>
<rect x="368.48" y="251.20" width="15.59" height="1.05" fill="#160c0a"/>
<rect x="368.48" y="252.20" width="15.59" height="2.05" fill="#23100c"/>
<rect x="368.48" y="254.20" width="15.59" height="2.05" fill="#090808"/>
<rect x="368.48" y="256.20" width="15.59" height="1.55" fill="#150c0a"/>
<rect x="368.48" y="257.70" width="15.59" height="1.05" fill="#2d140e"/>
<rect x="368.48" y="258.70" width="15.59" height="1.05" fill="#100a09"/>
<rect x="368.48" y="259.70" width="15.59" height="1.05" fill="#0b0908"/>
<rect x="368.48" y="260.70" width="15.59" height="2.05" fill="#29120d"/>
<rect x="368.48" y="262.70" width="15.59" height="1.05" fill="#0b0908"/>
<rect x="368.48" y="263.70" width="15.59" height="1.05" fill="#1b0e0b"/>
<rect x="368.48" y="264.70" width="15.59" height="1.55" fill="#120b0a"/>
<rect x="368.48" y="266.20" width="15.59" height="1.05" fill="#090808"/>
<rect x="368.48" y="267.20" width="15.59" height="2.05" fill="#160c0a"/>
<rect x="368.48" y="269.20" width="15.59" height="1.05" fill="#090808"/>
<rect x="368.48" y="270.20" width="15.59" height="2.05" fill="#0c0d0c"/>
<rect x="368.48" y="272.20" width="15.59" height="1.05" fill="#160c0a"/>
<rect x="368.48" y="273.20" width="15.59" height="2.05" fill="#080808"/>
<rect x="368.48" y="275.20" width="15.59" height="1.05" fill="#130b0a"/>
<rect x="368.48" y="276.20" width="15.59" height="1.05" fill="#170d0b"/>
<rect x="368.48" y="277.20" width="15.59" height="2.05" fill="#170d0a"/>
<rect x="368.48" y="279.20" width="15.59" height="2.05" fill="#100a09"/>
<rect x="368.48" y="281.20" width="15.59" height="1.05" fill="#0d0e0d"/>
<rect x="368.48" y="282.20" width="15.59" height="1.05" fill="#1b0e0b"/>
<rect x="368.48" y="283.20" width="15.59" height="1.05" fill="#23100c"/>
<rect x="368.48" y="284.20" width="15.59" height="2.05" fill="#100b09"/>
<rect x="368.48" y="286.20" width="15.59" height="1.05" fill="#131613"/>
<rect x="368.48" y="287.20" width="15.59" height="2.05" fill="#0a0908"/>
<rect x="368.48" y="289.20" width="15.59" height="1.05" fill="#100b09"/>
<rect x="368.48" y="290.20" width="15.59" height="2.05" fill="#0d0d0d"/>
<rect x="368.48" y="292.20" width="15.59" height="1.05" fill="#0c0d0c"/>
<rect x="368.48" y="293.20" width="15.59" height="1.55" fill="#141914"/>
<rect x="368.48" y="294.70" width="15.59" height="2.05" fill="#160c0a"/>
<rect x="368.48" y="296.70" width="15.59" height="1.55" fill="#0c0909"/>
<rect x="368.48" y="298.20" width="15.59" height="1.05" fill="#080808"/>
<rect x="368.48" y="299.20" width="15.59" height="1.55" fill="#0f0a09"/>
<rect x="368.48" y="300.70" width="15.59" height="2.05" fill="#090808"/>
<rect x="368.48" y="302.70" width="15.59" height="1.55" fill="#110b09"/>
<rect x="368.48" y="304.20" width="15.59" height="1.05" fill="#100b09"/>
<rect x="368.48" y="305.20" width="15.59" height="1.05" fill="#1e0f0c"/>
<rect x="368.48" y="306.20" width="15.59" height="1.05" fill="#171f17"/>
<rect x="368.48" y="307.20" width="15.59" height="1.05" fill="#732a19"/>
<rect x="368.48" y="308.20" width="15.59" height="2.05" fill="#0f0a09"/>
<rect x="368.48" y="310.20" width="15.59" height="2.05" fill="#0b0b0b"/>
<rect x="368.48" y="312.20" width="15.59" height="3.05" fill="#0c0909"/>
<rect x="368.48" y="315.20" width="15.59" height="1.55" fill="#0b0b0b"/>
<rect x="368.48" y="316.70" width="15.59" height="1.05" fill="#592115"/>
<rect x="368.48" y="317.70" width="15.59" height="1.55" fill="#8c321d"/>
<rect x="368.48" y="319.20" width="15.59" height="1.05" fill="#0e0a09"/>
<rect x="368.48" y="320.20" width="15.59" height="2.05" fill="#0c0909"/>
<rect x="368.48" y="322.20" width="15.59" height="2.05" fill="#20100c"/>
<rect x="368.48" y="324.20" width="15.59" height="2.05" fill="#110b0a"/>
<rect x="368.48" y="326.20" width="15.59" height="1.55" fill="#160c0a"/>
<rect x="368.48" y="327.70" width="15.59" height="1.05" fill="#090808"/>
<rect x="368.48" y="328.70" width="15.59" height="1.05" fill="#160c0a"/>
<rect x="368.48" y="329.70" width="15.59" height="1.05" fill="#411a11"/>
<rect x="368.48" y="330.70" width="15.59" height="1.55" fill="#ab3b22"/>
<rect x="368.48" y="332.20" width="15.59" height="1.55" fill="#3f1911"/>
<rect x="368.48" y="333.70" width="15.59" height="1.05" fill="#481c12"/>
<rect x="368.48" y="334.70" width="15.59" height="1.05" fill="#411a11"/>
<rect x="368.48" y="335.70" width="15.59" height="2.05" fill="#2b130e"/>
<rect x="368.48" y="337.70" width="15.59" height="2.05" fill="#9f3720"/>
<rect x="368.48" y="339.70" width="15.59" height="1.05" fill="#702919"/>
<rect x="368.48" y="340.70" width="15.59" height="1.05" fill="#552014"/>
<rect x="368.48" y="341.70" width="15.59" height="1.05" fill="#140c0a"/>
<rect x="368.48" y="342.70" width="15.59" height="2.05" fill="#0d0e0d"/>
<rect x="368.48" y="344.70" width="15.59" height="1.55" fill="#0d0909"/>
<rect x="368.48" y="346.20" width="15.59" height="2.05" fill="#120b0a"/>
<rect x="368.48" y="348.20" width="15.59" height="1.55" fill="#0c0c0c"/>
<rect x="368.48" y="349.70" width="15.59" height="1.05" fill="#130c0a"/>
<rect x="368.48" y="350.70" width="15.59" height="1.05" fill="#090808"/>
<rect x="368.48" y="351.70" width="15.59" height="1.05" fill="#0f110f"/>
<rect x="368.48" y="352.70" width="15.59" height="1.55" fill="#100b09"/>
<rect x="368.48" y="354.20" width="15.59" height="1.05" fill="#110b09"/>
<rect x="368.48" y="355.20" width="15.59" height="1.05" fill="#0c0909"/>
<rect x="368.48" y="356.20" width="15.59" height="1.05" fill="#0e0a09"/>
<rect x="368.48" y="357.20" width="15.59" height="2.05" fill="#0d0909"/>
<rect x="368.48" y="359.20" width="15.59" height="1.55" fill="#110b0a"/>
<rect x="368.48" y="360.70" width="15.59" height="1.05" fill="#96351f"/>
<rect x="368.48" y="361.70" width="15.59" height="1.55" fill="#ba4025"/>
<rect x="368.48" y="363.20" width="15.59" height="1.05" fill="#5b2215"/>
<rect x="368.48" y="364.20" width="15.59" height="1.05" fill="#95341f"/>
<rect x="368.48" y="365.20" width="15.59" height="1.55" fill="#8f321e"/>
<rect x="368.48" y="366.70" width="15.59" height="1.05" fill="#582115"/>
<rect x="368.48" y="367.70" width="15.59" height="1.05" fill="#a13821"/>
<rect x="368.48" y="368.70" width="15.59" height="2.05" fill="#782b1a"/>
<rect x="368.48" y="370.70" width="15.59" height="1.05" fill="#8d321e"/>
<rect x="368.48" y="371.70" width="15.59" height="1.55" fill="#652517"/>
<rect x="368.48" y="373.20" width="15.59" height="1.05" fill="#6d2818"/>
<rect x="368.48" y="374.20" width="15.59" height="1.05" fill="#cd4628"/>
<rect x="368.48" y="375.20" width="15.59" height="1.05" fill="#160c0a"/>
<rect x="368.48" y="376.20" width="15.59" height="1.05" fill="#0d0a09"/>
<rect x="368.48" y="377.20" width="15.59" height="1.05" fill="#8b311d"/>
<rect x="368.48" y="378.20" width="15.59" height="1.55" fill="#5e2316"/>
<rect x="368.48" y="379.70" width="15.59" height="1.55" fill="#782b1a"/>
<rect x="368.48" y="381.20" width="15.59" height="1.55" fill="#92341e"/>
<rect x="368.48" y="382.70" width="15.59" height="1.05" fill="#5d2316"/>
<rect x="368.48" y="383.70" width="15.59" height="1.05" fill="#97351f"/>
<rect x="368.48" y="384.70" width="15.59" height="1.55" fill="#692718"/>
<rect x="368.48" y="386.20" width="15.59" height="1.55" fill="#6b2718"/>
<rect x="368.48" y="387.70" width="15.59" height="2.05" fill="#c64427"/>
<rect x="368.48" y="389.70" width="15.59" height="1.05" fill="#bf4226"/>
<rect x="368.48" y="390.70" width="15.59" height="1.05" fill="#9c3720"/>
<rect x="368.48" y="391.70" width="15.59" height="1.55" fill="#c64427"/>
<rect x="368.48" y="393.20" width="15.59" height="3.05" fill="#cd4628"/>
<rect x="368.48" y="396.20" width="15.59" height="1.55" fill="#bf4226"/>
<rect x="368.48" y="397.70" width="15.59" height="1.05" fill="#cd4628"/>
<rect x="368.48" y="398.70" width="15.59" height="1.55" fill="#6e2819"/>
<rect x="368.48" y="400.20" width="15.59" height="1.05" fill="#c04226"/>
<rect x="368.48" y="401.20" width="15.59" height="1.05" fill="#c24326"/>
<rect x="368.48" y="402.20" width="15.59" height="1.05" fill="#182018"/>
<rect x="368.48" y="403.20" width="15.59" height="1.05" fill="#1a241a"/>
<rect x="368.48" y="404.20" width="15.59" height="1.05" fill="#1c271c"/>
<rect x="368.48" y="405.20" width="15.59" height="1.05" fill="#243824"/>
<rect x="368.48" y="406.20" width="15.59" height="1.05" fill="#131613"/>
<rect x="368.48" y="407.20" width="15.59" height="1.05" fill="#2a452a"/>
<rect x="368.48" y="408.20" width="15.59" height="1.55" fill="#171e17"/>
<rect x="368.48" y="409.70" width="15.59" height="2.05" fill="#2e4e2e"/>
<rect x="368.48" y="411.70" width="15.59" height="1.05" fill="#1d2a1d"/>
<rect x="368.48" y="412.70" width="15.59" height="1.05" fill="#192119"/>
<rect x="368.48" y="413.70" width="15.59" height="1.05" fill="#1c281c"/>
<rect x="368.48" y="414.70" width="15.59" height="1.05" fill="#151a15"/>
<rect x="368.48" y="415.70" width="15.59" height="1.05" fill="#2f4f2f"/>
<rect x="368.48" y="416.70" width="15.59" height="1.55" fill="#181f18"/>
<rect x="368.48" y="418.20" width="15.59" height="2.05" fill="#1f2e1f"/>
<rect x="368.48" y="420.20" width="15.59" height="1.05" fill="#202f20"/>
<rect x="368.48" y="421.20" width="15.59" height="2.05" fill="#243724"/>
<rect x="368.48" y="423.20" width="15.59" height="2.05" fill="#213121"/>
<rect x="368.48" y="425.20" width="15.59" height="1.05" fill="#1c281c"/>
<rect x="368.48" y="426.20" width="15.59" height="1.05" fill="#121512"/>
<rect x="368.48" y="427.20" width="15.59" height="2.05" fill="#1b241b"/>
<rect x="368.48" y="429.20" width="15.59" height="2.05" fill="#1c261c"/>
<rect x="368.48" y="431.20" width="15.59" height="1.05" fill="#0b0b0b"/>
<rect x="368.48" y="432.20" width="15.59" height="1.55" fill="#141914"/>
<rect x="368.48" y="433.70" width="15.59" height="2.05" fill="#121512"/>
<rect x="368.48" y="435.70" width="15.59" height="1.55" fill="#131813"/>
<rect x="368.48" y="437.20" width="15.59" height="1.55" fill="#1c281c"/>
<rect x="368.48" y="438.70" width="15.59" height="1.55" fill="#151a15"/>
<rect x="368.48" y="440.20" width="15.59" height="1.55" fill="#0c0909"/>
<rect x="368.48" y="441.70" width="15.59" height="1.05" fill="#192219"/>
<rect x="368.48" y="442.70" width="15.59" height="1.55" fill="#1a231a"/>
<rect x="368.48" y="444.20" width="15.59" height="1.55" fill="#0a0908"/>
<rect x="368.48" y="445.70" width="15.59" height="1.05" fill="#0c0c0c"/>
<rect x="368.48" y="446.70" width="15.59" height="1.05" fill="#131713"/>
<rect x="368.48" y="447.70" width="15.59" height="1.05" fill="#0a0808"/>
<rect x="368.48" y="448.70" width="15.59" height="1.05" fill="#111411"/>
<rect x="368.48" y="449.70" width="15.59" height="1.55" fill="#192219"/>
<rect x="368.48" y="451.20" width="15.59" height="1.05" fill="#1b251b"/>
<rect x="368.48" y="452.20" width="15.59" height="1.05" fill="#0d0e0d"/>
<rect x="368.48" y="453.20" width="15.59" height="1.05" fill="#131713"/>
<rect x="368.48" y="454.20" width="15.59" height="2.05" fill="#1d291d"/>
<rect x="368.48" y="456.20" width="15.59" height="1.05" fill="#263c26"/>
<rect x="368.48" y="457.20" width="15.59" height="1.05" fill="#121512"/>
<rect x="368.48" y="458.20" width="15.59" height="1.05" fill="#1a231a"/>
<rect x="368.48" y="459.20" width="15.59" height="2.05" fill="#1a241a"/>
<rect x="368.48" y="461.20" width="15.59" height="1.05" fill="#203020"/>
<rect x="368.48" y="462.20" width="15.59" height="2.05" fill="#1f2d1f"/>
<rect x="368.48" y="464.20" width="15.59" height="1.05" fill="#192219"/>
<rect x="368.48" y="465.20" width="15.59" height="1.05" fill="#090808"/>
<rect x="368.48" y="466.20" width="15.59" height="2.05" fill="#141914"/>
<rect x="368.48" y="468.20" width="15.59" height="1.05" fill="#171e17"/>
<rect x="368.48" y="469.20" width="15.59" height="1.05" fill="#1c271c"/>
<rect x="368.48" y="470.20" width="15.59" height="1.05" fill="#090808"/>
<rect x="368.48" y="471.20" width="15.59" height="2.05" fill="#1b251b"/>
<rect x="368.48" y="473.20" width="15.59" height="1.55" fill="#151915"/>
<rect x="368.48" y="474.70" width="15.59" height="1.05" fill="#213021"/>
<rect x="368.48" y="475.70" width="15.59" height="1.05" fill="#141814"/>
<rect x="368.48" y="476.70" width="15.59" height="1.05" fill="#213221"/>
<rect x="368.48" y="477.70" width="15.59" height="1.85" fill="#181f18"/>
<rect x="383.77" y="217.20" width="15.59" height="1.05" fill="#150c0a"/>
<rect x="383.77" y="218.20" width="15.59" height="1.05" fill="#0c0909"/>
<rect x="383.77" y="219.20" width="15.59" height="1.55" fill="#120b0a"/>
<rect x="383.77" y="220.70" width="15.59" height="1.05" fill="#110b09"/>
<rect x="383.77" y="221.70" width="15.59" height="1.05" fill="#1b0e0b"/>
<rect x="383.77" y="222.70" width="15.59" height="2.05" fill="#0c0909"/>
<rect x="383.77" y="224.70" width="15.59" height="1.05" fill="#140c0a"/>
<rect x="383.77" y="225.70" width="15.59" height="1.05" fill="#471c12"/>
<rect x="383.77" y="226.70" width="15.59" height="2.05" fill="#993620"/>
<rect x="383.77" y="228.70" width="15.59" height="1.05" fill="#0d0a09"/>
<rect x="383.77" y="229.70" width="15.59" height="2.05" fill="#100b09"/>
<rect x="383.77" y="231.70" width="15.59" height="1.05" fill="#0c0909"/>
<rect x="383.77" y="232.70" width="15.59" height="1.05" fill="#0f0a09"/>
<rect x="383.77" y="233.70" width="15.59" height="1.05" fill="#0d0e0d"/>
<rect x="383.77" y="234.70" width="15.59" height="1.55" fill="#090808"/>
<rect x="383.77" y="236.20" width="15.59" height="1.55" fill="#180d0b"/>
<rect x="383.77" y="237.70" width="15.59" height="1.05" fill="#0f0a09"/>
<rect x="383.77" y="238.70" width="15.59" height="1.05" fill="#190d0b"/>
<rect x="383.77" y="239.70" width="15.59" height="1.05" fill="#c24226"/>
<rect x="383.77" y="240.70" width="15.59" height="2.05" fill="#140c0a"/>
<rect x="383.77" y="242.70" width="15.59" height="1.55" fill="#111311"/>
<rect x="383.77" y="244.20" width="15.59" height="1.05" fill="#170d0a"/>
<rect x="383.77" y="245.20" width="15.59" height="2.05" fill="#140c0a"/>
<rect x="383.77" y="247.20" width="15.59" height="1.05" fill="#110b09"/>
<rect x="383.77" y="248.20" width="15.59" height="1.05" fill="#170d0a"/>
<rect x="383.77" y="249.20" width="15.59" height="2.05" fill="#0c0c0c"/>
<rect x="383.77" y="251.20" width="15.59" height="1.05" fill="#0d0e0d"/>
<rect x="383.77" y="252.20" width="15.59" height="2.05" fill="#0a0a0a"/>
<rect x="383.77" y="254.20" width="15.59" height="2.05" fill="#0b0908"/>
<rect x="383.77" y="256.20" width="15.59" height="1.55" fill="#140c0a"/>
<rect x="383.77" y="257.70" width="15.59" height="1.05" fill="#110b09"/>
<rect x="383.77" y="258.70" width="15.59" height="1.05" fill="#0b0a0b"/>
<rect x="383.77" y="259.70" width="15.59" height="1.05" fill="#0f100f"/>
<rect x="383.77" y="260.70" width="15.59" height="2.05" fill="#0d0e0d"/>
<rect x="383.77" y="262.70" width="15.59" height="1.05" fill="#100b09"/>
<rect x="383.77" y="263.70" width="15.59" height="1.05" fill="#140c0a"/>
<rect x="383.77" y="264.70" width="15.59" height="1.55" fill="#170d0a"/>
<rect x="383.77" y="266.20" width="15.59" height="1.05" fill="#0a0a0a"/>
<rect x="383.77" y="267.20" width="15.59" height="2.05" fill="#151b15"/>
<rect x="383.77" y="269.20" width="15.59" height="1.05" fill="#0c0c0c"/>
<rect x="383.77" y="270.20" width="15.59" height="2.05" fill="#0c0909"/>
<rect x="383.77" y="272.20" width="15.59" height="1.05" fill="#121412"/>
<rect x="383.77" y="273.20" width="15.59" height="3.05" fill="#130b0a"/>
<rect x="383.77" y="276.20" width="15.59" height="1.05" fill="#0c0909"/>
<rect x="383.77" y="277.20" width="15.59" height="2.05" fill="#1a0e0b"/>
<rect x="383.77" y="279.20" width="15.59" height="2.05" fill="#0d0a09"/>
<rect x="383.77" y="281.20" width="15.59" height="1.05" fill="#111311"/>
<rect x="383.77" y="282.20" width="15.59" height="1.05" fill="#1a0e0b"/>
<rect x="383.77" y="283.20" width="15.59" height="1.05" fill="#0f0a09"/>
<rect x="383.77" y="284.20" width="15.59" height="2.05" fill="#190d0b"/>
<rect x="383.77" y="286.20" width="15.59" height="1.05" fill="#080808"/>
<rect x="383.77" y="287.20" width="15.59" height="2.05" fill="#0c0d0c"/>
<rect x="383.77" y="289.20" width="15.59" height="1.05" fill="#150c0a"/>
<rect x="383.77" y="290.20" width="15.59" height="2.05" fill="#0d0a09"/>
<rect x="383.77" y="292.20" width="15.59" height="1.05" fill="#7d2d1b"/>
<rect x="383.77" y="293.20" width="15.59" height="1.55" fill="#0f0a09"/>
<rect x="383.77" y="294.70" width="15.59" height="2.05" fill="#0b0b0b"/>
<rect x="383.77" y="296.70" width="15.59" height="1.55" fill="#161c16"/>
<rect x="383.77" y="298.20" width="15.59" height="1.05" fill="#0d0909"/>
<rect x="383.77" y="299.20" width="15.59" height="1.55" fill="#0f0a09"/>
<rect x="383.77" y="300.70" width="15.59" height="2.05" fill="#0b0908"/>
<rect x="383.77" y="302.70" width="15.59" height="1.55" fill="#0c0909"/>
<rect x="383.77" y="304.20" width="15.59" height="1.05" fill="#0c0d0c"/>
<rect x="383.77" y="305.20" width="15.59" height="1.05" fill="#110b09"/>
<rect x="383.77" y="306.20" width="15.59" height="1.05" fill="#120b0a"/>
<rect x="383.77" y="307.20" width="15.59" height="1.05" fill="#101210"/>
<rect x="383.77" y="308.20" width="15.59" height="1.05" fill="#20100c"/>
<rect x="383.77" y="309.20" width="15.59" height="1.05" fill="#131713"/>
<rect x="383.77" y="310.20" width="15.59" height="2.05" fill="#cd4628"/>
<rect x="383.77" y="312.20" width="15.59" height="1.05" fill="#0d0d0d"/>
<rect x="383.77" y="313.20" width="15.59" height="2.05" fill="#150c0a"/>
<rect x="383.77" y="315.20" width="15.59" height="1.55" fill="#121512"/>
<rect x="383.77" y="316.70" width="15.59" height="1.05" fill="#090808"/>
<rect x="383.77" y="317.70" width="15.59" height="1.55" fill="#130b0a"/>
<rect x="383.77" y="319.20" width="15.59" height="1.05" fill="#090808"/>
<rect x="383.77" y="320.20" width="15.59" height="2.05" fill="#190d0b"/>
<rect x="383.77" y="322.20" width="15.59" height="1.05" fill="#140c0a"/>
<rect x="383.77" y="323.20" width="15.59" height="1.05" fill="#090808"/>
<rect x="383.77" y="324.20" width="15.59" height="2.05" fill="#491d13"/>
<rect x="383.77" y="326.20" width="15.59" height="1.55" fill="#100a09"/>
<rect x="383.77" y="327.70" width="15.59" height="2.05" fill="#0a0a0a"/>
<rect x="383.77" y="329.70" width="15.59" height="1.05" fill="#090808"/>
<rect x="383.77" y="330.70" width="15.59" height="1.55" fill="#2a130e"/>
<rect x="383.77" y="332.20" width="15.59" height="1.55" fill="#0d0a09"/>
<rect x="383.77" y="333.70" width="15.59" height="1.05" fill="#0b0908"/>
<rect x="383.77" y="334.70" width="15.59" height="1.05" fill="#441b12"/>
<rect x="383.77" y="335.70" width="15.59" height="2.05" fill="#101210"/>
<rect x="383.77" y="337.70" width="15.59" height="2.05" fill="#100b09"/>
<rect x="383.77" y="339.70" width="15.59" height="1.05" fill="#1b0e0b"/>
<rect x="383.77" y="340.70" width="15.59" height="1.05" fill="#090808"/>
<rect x="383.77" y="341.70" width="15.59" height="1.05" fill="#1b0e0b"/>
<rect x="383.77" y="342.70" width="15.59" height="2.05" fill="#130c0a"/>
<rect x="383.77" y="344.70" width="15.59" height="1.55" fill="#0c0909"/>
<rect x="383.77" y="346.20" width="15.59" height="2.05" fill="#0d0d0d"/>
<rect x="383.77" y="348.20" width="15.59" height="1.55" fill="#170d0a"/>
<rect x="383.77" y="349.70" width="15.59" height="1.05" fill="#100b09"/>
<rect x="383.77" y="350.70" width="15.59" height="1.05" fill="#28120d"/>
<rect x="383.77" y="351.70" width="15.59" height="1.05" fill="#171d17"/>
<rect x="383.77" y="352.70" width="15.59" height="1.55" fill="#0f0a09"/>
<rect x="383.77" y="354.20" width="15.59" height="1.05" fill="#0d0e0d"/>
<rect x="383.77" y="355.20" width="15.59" height="1.05" fill="#160c0a"/>
<rect x="383.77" y="356.20" width="15.59" height="1.05" fill="#0b0908"/>
<rect x="383.77" y="357.20" width="15.59" height="2.05" fill="#100b09"/>
<rect x="383.77" y="359.20" width="15.59" height="1.55" fill="#0a0908"/>
<rect x="383.77" y="360.70" width="15.59" height="1.05" fill="#101210"/>
<rect x="383.77" y="361.70" width="15.59" height="1.55" fill="#0a0908"/>
<rect x="383.77" y="363.20" width="15.59" height="1.05" fill="#0c0909"/>
<rect x="383.77" y="364.20" width="15.59" height="1.05" fill="#130c0a"/>
<rect x="383.77" y="365.20" width="15.59" height="1.55" fill="#25110d"/>
<rect x="383.77" y="366.70" width="15.59" height="1.05" fill="#160c0a"/>
<rect x="383.77" y="367.70" width="15.59" height="3.05" fill="#0e0a09"/>
<rect x="383.77" y="370.70" width="15.59" height="1.05" fill="#131713"/>
<rect x="383.77" y="371.70" width="15.59" height="1.55" fill="#140c0a"/>
<rect x="383.77" y="373.20" width="15.59" height="1.05" fill="#0c0909"/>
<rect x="383.77" y="374.20" width="15.59" height="1.05" fill="#090808"/>
<rect x="383.77" y="375.20" width="15.59" height="1.05" fill="#140c0a"/>
<rect x="383.77" y="376.20" width="15.59" height="1.05" fill="#080808"/>
<rect x="383.77" y="377.20" width="15.59" height="1.05" fill="#0c0909"/>
<rect x="383.77" y="378.20" width="15.59" height="1.55" fill="#160c0a"/>
<rect x="383.77" y="379.70" width="15.59" height="1.55" fill="#190d0b"/>
<rect x="383.77" y="381.20" width="15.59" height="1.55" fill="#0a0908"/>
<rect x="383.77" y="382.70" width="15.59" height="1.05" fill="#0f110f"/>
<rect x="383.77" y="383.70" width="15.59" height="1.05" fill="#0f0a09"/>
<rect x="383.77" y="384.70" width="15.59" height="1.55" fill="#0b0a0b"/>
<rect x="383.77" y="386.20" width="15.59" height="1.55" fill="#110b09"/>
<rect x="383.77" y="387.70" width="15.59" height="2.05" fill="#0e0e0e"/>
<rect x="383.77" y="389.70" width="15.59" height="1.05" fill="#130b0a"/>
<rect x="383.77" y="390.70" width="15.59" height="1.05" fill="#100b09"/>
<rect x="383.77" y="391.70" width="15.59" height="1.55" fill="#1c0e0b"/>
<rect x="383.77" y="393.20" width="15.59" height="2.05" fill="#140c0a"/>
<rect x="383.77" y="395.20" width="15.59" height="1.05" fill="#160c0a"/>
<rect x="383.77" y="396.20" width="15.59" height="1.55" fill="#110b09"/>
<rect x="383.77" y="397.70" width="15.59" height="1.05" fill="#0c0c0c"/>
<rect x="383.77" y="398.70" width="15.59" height="1.55" fill="#501f14"/>
<rect x="383.77" y="400.20" width="15.59" height="1.05" fill="#0f0a09"/>
<rect x="383.77" y="401.20" width="15.59" height="1.05" fill="#1b0e0b"/>
<rect x="383.77" y="402.20" width="15.59" height="1.05" fill="#2e4e2e"/>
<rect x="383.77" y="403.20" width="15.59" height="1.05" fill="#294329"/>
<rect x="383.77" y="404.20" width="15.59" height="1.05" fill="#2a442a"/>
<rect x="383.77" y="405.20" width="15.59" height="1.05" fill="#253a25"/>
<rect x="383.77" y="406.20" width="15.59" height="1.05" fill="#2a432a"/>
<rect x="383.77" y="407.20" width="15.59" height="1.05" fill="#284028"/>
<rect x="383.77" y="408.20" width="15.59" height="1.55" fill="#2a452a"/>
<rect x="383.77" y="409.70" width="15.59" height="2.05" fill="#2f4f2f"/>
<rect x="383.77" y="411.70" width="15.59" height="1.05" fill="#315531"/>
<rect x="383.77" y="412.70" width="15.59" height="1.05" fill="#263b26"/>
<rect x="383.77" y="413.70" width="15.59" height="1.05" fill="#305130"/>
<rect x="383.77" y="414.70" width="15.59" height="1.05" fill="#294229"/>
<rect x="383.77" y="415.70" width="15.59" height="1.05" fill="#2a442a"/>
<rect x="383.77" y="416.70" width="15.59" height="1.55" fill="#1e2b1e"/>
<rect x="383.77" y="418.20" width="15.59" height="2.05" fill="#2c4a2c"/>
<rect x="383.77" y="420.20" width="15.59" height="1.05" fill="#213121"/>
<rect x="383.77" y="421.20" width="15.59" height="2.05" fill="#1d291d"/>
<rect x="383.77" y="423.20" width="15.59" height="2.05" fill="#243724"/>
<rect x="383.77" y="425.20" width="15.59" height="1.05" fill="#2b462b"/>
<rect x="383.77" y="426.20" width="15.59" height="1.05" fill="#1e2b1e"/>
<rect x="383.77" y="427.20" width="15.59" height="2.05" fill="#2a442a"/>
<rect x="383.77" y="429.20" width="15.59" height="2.05" fill="#273d27"/>
<rect x="383.77" y="431.20" width="15.59" height="1.05" fill="#273f27"/>
<rect x="383.77" y="432.20" width="15.59" height="1.55" fill="#325732"/>
<rect x="383.77" y="433.70" width="15.59" height="2.05" fill="#203020"/>
<rect x="383.77" y="435.70" width="15.59" height="1.55" fill="#2d4b2d"/>
<rect x="383.77" y="437.20" width="15.59" height="1.55" fill="#263d26"/>
<rect x="383.77" y="438.70" width="15.59" height="1.55" fill="#2c492c"/>
<rect x="383.77" y="440.20" width="15.59" height="1.55" fill="#294329"/>
<rect x="383.77" y="441.70" width="15.59" height="1.05" fill="#1f2d1f"/>
<rect x="383.77" y="442.70" width="15.59" height="1.55" fill="#2f502f"/>
<rect x="383.77" y="444.20" width="15.59" height="1.55" fill="#213121"/>
<rect x="383.77" y="445.70" width="15.59" height="1.05" fill="#273f27"/>
<rect x="383.77" y="446.70" width="15.59" height="1.05" fill="#1f2d1f"/>
<rect x="383.77" y="447.70" width="15.59" height="1.05" fill="#2c492c"/>
<rect x="383.77" y="448.70" width="15.59" height="1.05" fill="#233523"/>
<rect x="383.77" y="449.70" width="15.59" height="1.55" fill="#1d2a1d"/>
<rect x="383.77" y="451.20" width="15.59" height="1.05" fill="#2a452a"/>
<rect x="383.77" y="452.20" width="15.59" height="1.05" fill="#1b261b"/>
<rect x="383.77" y="453.20" width="15.59" height="1.05" fill="#263c26"/>
<rect x="383.77" y="454.20" width="15.59" height="2.05" fill="#213121"/>
<rect x="383.77" y="456.20" width="15.59" height="1.05" fill="#223422"/>
<rect x="383.77" y="457.20" width="15.59" height="1.05" fill="#223322"/>
<rect x="383.77" y="458.20" width="15.59" height="1.05" fill="#1a241a"/>
<rect x="383.77" y="459.20" width="15.59" height="2.05" fill="#294229"/>
<rect x="383.77" y="461.20" width="15.59" height="1.05" fill="#253b25"/>
<rect x="383.77" y="462.20" width="15.59" height="2.05" fill="#366036"/>
<rect x="383.77" y="464.20" width="15.59" height="1.05" fill="#1f2e1f"/>
<rect x="383.77" y="465.20" width="15.59" height="1.05" fill="#243724"/>
<rect x="383.77" y="466.20" width="15.59" height="2.05" fill="#1c281c"/>
<rect x="383.77" y="468.20" width="15.59" height="1.05" fill="#273e27"/>
<rect x="383.77" y="469.20" width="15.59" height="1.05" fill="#2a452a"/>
<rect x="383.77" y="470.20" width="15.59" height="1.05" fill="#2d4c2d"/>
<rect x="383.77" y="471.20" width="15.59" height="2.05" fill="#273e27"/>
<rect x="383.77" y="473.20" width="15.59" height="1.55" fill="#263d26"/>
<rect x="383.77" y="474.70" width="15.59" height="1.05" fill="#325732"/>
<rect x="383.77" y="475.70" width="15.59" height="1.05" fill="#243824"/>
<rect x="383.77" y="476.70" width="15.59" height="1.05" fill="#2b472b"/>
<rect x="383.77" y="477.70" width="15.59" height="1.85" fill="#2d4b2d"/>
<rect x="399.06" y="217.20" width="15.59" height="1.05" fill="#90331e"/>
<rect x="399.06" y="218.20" width="15.59" height="1.05" fill="#521f14"/>
<rect x="399.06" y="219.20" width="15.59" height="1.55" fill="#3d1911"/>
<rect x="399.06" y="220.70" width="15.59" height="1.05" fill="#23110c"/>
<rect x="399.06" y="221.70" width="15.59" height="1.05" fill="#30140e"/>
<rect x="399.06" y="222.70" width="15.59" height="2.05" fill="#371710"/>
<rect x="399.06" y="224.70" width="15.59" height="1.05" fill="#1c0e0b"/>
<rect x="399.06" y="225.70" width="15.59" height="1.05" fill="#2d140e"/>
<rect x="399.06" y="226.70" width="15.59" height="2.05" fill="#180d0b"/>
<rect x="399.06" y="228.70" width="15.59" height="1.05" fill="#22100c"/>
<rect x="399.06" y="229.70" width="15.59" height="2.05" fill="#371710"/>
<rect x="399.06" y="231.70" width="15.59" height="1.05" fill="#100b09"/>
<rect x="399.06" y="232.70" width="15.59" height="1.05" fill="#25110d"/>
<rect x="399.06" y="233.70" width="15.59" height="1.05" fill="#36160f"/>
<rect x="399.06" y="234.70" width="15.59" height="1.55" fill="#9f3821"/>
<rect x="399.06" y="236.20" width="15.59" height="1.55" fill="#542014"/>
<rect x="399.06" y="237.70" width="15.59" height="1.05" fill="#1d0f0b"/>
<rect x="399.06" y="238.70" width="15.59" height="1.05" fill="#34160f"/>
<rect x="399.06" y="239.70" width="15.59" height="1.05" fill="#532014"/>
<rect x="399.06" y="240.70" width="15.59" height="2.05" fill="#1e0f0c"/>
<rect x="399.06" y="242.70" width="15.59" height="1.55" fill="#4c1d13"/>
<rect x="399.06" y="244.20" width="15.59" height="1.05" fill="#542014"/>
<rect x="399.06" y="245.20" width="15.59" height="2.05" fill="#29120d"/>
<rect x="399.06" y="247.20" width="15.59" height="1.05" fill="#6c2718"/>
<rect x="399.06" y="248.20" width="15.59" height="1.05" fill="#26120d"/>
<rect x="399.06" y="249.20" width="15.59" height="2.05" fill="#31150f"/>
<rect x="399.06" y="251.20" width="15.59" height="1.05" fill="#24110d"/>
<rect x="399.06" y="252.20" width="15.59" height="2.05" fill="#120b0a"/>
<rect x="399.06" y="254.20" width="15.59" height="2.05" fill="#22100c"/>
<rect x="399.06" y="256.20" width="15.59" height="1.55" fill="#832f1c"/>
<rect x="399.06" y="257.70" width="15.59" height="1.05" fill="#1e0f0c"/>
<rect x="399.06" y="258.70" width="15.59" height="1.05" fill="#511f14"/>
<rect x="399.06" y="259.70" width="15.59" height="1.05" fill="#4f1e14"/>
<rect x="399.06" y="260.70" width="15.59" height="2.05" fill="#120b0a"/>
<rect x="399.06" y="262.70" width="15.59" height="1.05" fill="#36160f"/>
<rect x="399.06" y="263.70" width="15.59" height="1.05" fill="#140c0a"/>
<rect x="399.06" y="264.70" width="15.59" height="1.55" fill="#2f140e"/>
<rect x="399.06" y="266.20" width="15.59" height="1.05" fill="#21100c"/>
<rect x="399.06" y="267.20" width="15.59" height="2.05" fill="#4c1d13"/>
<rect x="399.06" y="269.20" width="15.59" height="1.05" fill="#391710"/>
<rect x="399.06" y="270.20" width="15.59" height="2.05" fill="#110b0a"/>
<rect x="399.06" y="272.20" width="15.59" height="1.05" fill="#411a11"/>
<rect x="399.06" y="273.20" width="15.59" height="2.05" fill="#471c12"/>
<rect x="399.06" y="275.20" width="15.59" height="1.05" fill="#2f140e"/>
<rect x="399.06" y="276.20" width="15.59" height="1.05" fill="#371710"/>
<rect x="399.06" y="277.20" width="15.59" height="2.05" fill="#481c12"/>
<rect x="399.06" y="279.20" width="15.59" height="2.05" fill="#21100c"/>
<rect x="399.06" y="281.20" width="15.59" height="1.05" fill="#1b0e0b"/>
<rect x="399.06" y="282.20" width="15.59" height="1.05" fill="#33160f"/>
<rect x="399.06" y="283.20" width="15.59" height="1.05" fill="#491d13"/>
<rect x="399.06" y="284.20" width="15.59" height="2.05" fill="#401911"/>
<rect x="399.06" y="286.20" width="15.59" height="1.05" fill="#090808"/>
<rect x="399.06" y="287.20" width="15.59" height="2.05" fill="#a43921"/>
<rect x="399.06" y="289.20" width="15.59" height="1.05" fill="#33160f"/>
<rect x="399.06" y="290.20" width="15.59" height="2.05" fill="#2f140e"/>
<rect x="399.06" y="292.20" width="15.59" height="1.05" fill="#2e140e"/>
<rect x="399.06" y="293.20" width="15.59" height="1.55" fill="#381710"/>
<rect x="399.06" y="294.70" width="15.59" height="2.05" fill="#3c1810"/>
<rect x="399.06" y="296.70" width="15.59" height="1.55" fill="#371710"/>
<rect x="399.06" y="298.20" width="15.59" height="1.05" fill="#27120d"/>
<rect x="399.06" y="299.20" width="15.59" height="1.55" fill="#582115"/>
<rect x="399.06" y="300.70" width="15.59" height="2.05" fill="#140c0a"/>
<rect x="399.06" y="302.70" width="15.59" height="1.55" fill="#4f1e13"/>
<rect x="399.06" y="304.20" width="15.59" height="1.05" fill="#1a0e0b"/>
<rect x="399.06" y="305.20" width="15.59" height="1.05" fill="#411a11"/>
<rect x="399.06" y="306.20" width="15.59" height="1.05" fill="#2c130e"/>
<rect x="399.06" y="307.20" width="15.59" height="1.05" fill="#2d140e"/>
<rect x="399.06" y="308.20" width="15.59" height="1.05" fill="#552014"/>
<rect x="399.06" y="309.20" width="15.59" height="1.05" fill="#2d140e"/>
<rect x="399.06" y="310.20" width="15.59" height="2.05" fill="#4a1d13"/>
<rect x="399.06" y="312.20" width="15.59" height="1.05" fill="#1e0f0c"/>
<rect x="399.06" y="313.20" width="15.59" height="2.05" fill="#35160f"/>
<rect x="399.06" y="315.20" width="15.59" height="1.55" fill="#3d1911"/>
<rect x="399.06" y="316.70" width="15.59" height="1.05" fill="#2d140e"/>
<rect x="399.06" y="317.70" width="15.59" height="1.55" fill="#a23821"/>
<rect x="399.06" y="319.20" width="15.59" height="1.05" fill="#2f140e"/>
<rect x="399.06" y="320.20" width="15.59" height="2.05" fill="#3e1911"/>
<rect x="399.06" y="322.20" width="15.59" height="1.05" fill="#2c130e"/>
<rect x="399.06" y="323.20" width="15.59" height="1.05" fill="#28120d"/>
<rect x="399.06" y="324.20" width="15.59" height="2.05" fill="#36160f"/>
<rect x="399.06" y="326.20" width="15.59" height="1.55" fill="#361710"/>
<rect x="399.06" y="327.70" width="15.59" height="1.05" fill="#3e1911"/>
<rect x="399.06" y="328.70" width="15.59" height="1.05" fill="#32150f"/>
<rect x="399.06" y="329.70" width="15.59" height="1.05" fill="#140c0a"/>
<rect x="399.06" y="330.70" width="15.59" height="1.55" fill="#722919"/>
<rect x="399.06" y="332.20" width="15.59" height="1.55" fill="#0f100f"/>
<rect x="399.06" y="333.70" width="15.59" height="1.05" fill="#1a0e0b"/>
<rect x="399.06" y="334.70" width="15.59" height="1.05" fill="#2b130e"/>
<rect x="399.06" y="335.70" width="15.59" height="2.05" fill="#0e0a09"/>
<rect x="399.06" y="337.70" width="15.59" height="2.05" fill="#3d1911"/>
<rect x="399.06" y="339.70" width="15.59" height="1.05" fill="#2e140e"/>
<rect x="399.06" y="340.70" width="15.59" height="1.05" fill="#26120d"/>
<rect x="399.06" y="341.70" width="15.59" height="3.05" fill="#592215"/>
<rect x="399.06" y="344.70" width="15.59" height="1.55" fill="#36160f"/>
<rect x="399.06" y="346.20" width="15.59" height="2.05" fill="#0c0909"/>
<rect x="399.06" y="348.20" width="15.59" height="1.55" fill="#2f140e"/>
<rect x="399.06" y="349.70" width="15.59" height="1.05" fill="#33160f"/>
<rect x="399.06" y="350.70" width="15.59" height="1.05" fill="#802e1b"/>
<rect x="399.06" y="351.70" width="15.59" height="1.05" fill="#170d0a"/>
<rect x="399.06" y="352.70" width="15.59" height="1.55" fill="#0d0a09"/>
<rect x="399.06" y="354.20" width="15.59" height="1.05" fill="#2b130e"/>
<rect x="399.06" y="355.20" width="15.59" height="1.05" fill="#21100c"/>
<rect x="399.06" y="356.20" width="15.59" height="1.05" fill="#180d0b"/>
<rect x="399.06" y="357.20" width="15.59" height="2.05" fill="#1a0e0b"/>
<rect x="399.06" y="359.20" width="15.59" height="1.55" fill="#111311"/>
<rect x="399.06" y="360.70" width="15.59" height="1.05" fill="#0c0909"/>
<rect x="399.06" y="361.70" width="15.59" height="1.55" fill="#a13821"/>
<rect x="399.06" y="363.20" width="15.59" height="1.05" fill="#4f1e13"/>
<rect x="399.06" y="364.20" width="15.59" height="1.05" fill="#9f3821"/>
<rect x="399.06" y="365.20" width="15.59" height="1.55" fill="#23100c"/>
<rect x="399.06" y="366.70" width="15.59" height="1.05" fill="#26110d"/>
<rect x="399.06" y="367.70" width="15.59" height="1.05" fill="#0e0a09"/>
<rect x="399.06" y="368.70" width="15.59" height="2.05" fill="#3a1810"/>
<rect x="399.06" y="370.70" width="15.59" height="1.05" fill="#8c321d"/>
<rect x="399.06" y="371.70" width="15.59" height="1.55" fill="#572115"/>
<rect x="399.06" y="373.20" width="15.59" height="1.05" fill="#692618"/>
<rect x="399.06" y="374.20" width="15.59" height="1.05" fill="#35160f"/>
<rect x="399.06" y="375.20" width="15.59" height="1.05" fill="#3b1810"/>
<rect x="399.06" y="376.20" width="15.59" height="1.05" fill="#090808"/>
<rect x="399.06" y="377.20" width="15.59" height="1.05" fill="#23100c"/>
<rect x="399.06" y="378.20" width="15.59" height="1.55" fill="#1f0f0c"/>
<rect x="399.06" y="379.70" width="15.59" height="1.55" fill="#150c0a"/>
<rect x="399.06" y="381.20" width="15.59" height="1.55" fill="#1f0f0c"/>
<rect x="399.06" y="382.70" width="15.59" height="1.05" fill="#27120d"/>
<rect x="399.06" y="383.70" width="15.59" height="1.05" fill="#181f18"/>
<rect x="399.06" y="384.70" width="15.59" height="1.55" fill="#0e0a09"/>
<rect x="399.06" y="386.20" width="15.59" height="1.55" fill="#361710"/>
<rect x="399.06" y="387.70" width="15.59" height="2.05" fill="#662617"/>
<rect x="399.06" y="389.70" width="15.59" height="1.05" fill="#1a0e0b"/>
<rect x="399.06" y="390.70" width="15.59" height="1.05" fill="#22100c"/>
<rect x="399.06" y="391.70" width="15.59" height="1.55" fill="#8b311d"/>
<rect x="399.06" y="393.20" width="15.59" height="2.05" fill="#150c0a"/>
<rect x="399.06" y="395.20" width="15.59" height="1.05" fill="#200f0c"/>
<rect x="399.06" y="396.20" width="15.59" height="1.55" fill="#141814"/>
<rect x="399.06" y="397.70" width="15.59" height="1.05" fill="#28120d"/>
<rect x="399.06" y="398.70" width="15.59" height="1.55" fill="#20100c"/>
<rect x="399.06" y="400.20" width="15.59" height="1.05" fill="#2c130e"/>
<rect x="399.06" y="401.20" width="15.59" height="1.05" fill="#2e140e"/>
<rect x="399.06" y="402.20" width="15.59" height="1.05" fill="#2a452a"/>
<rect x="399.06" y="403.20" width="15.59" height="1.05" fill="#2e4d2e"/>
<rect x="399.06" y="404.20" width="15.59" height="1.05" fill="#305130"/>
<rect x="399.06" y="405.20" width="15.59" height="1.05" fill="#386438"/>
<rect x="399.06" y="406.20" width="15.59" height="1.05" fill="#335833"/>
<rect x="399.06" y="407.20" width="15.59" height="1.05" fill="#355d35"/>
<rect x="399.06" y="408.20" width="15.59" height="1.55" fill="#2e4e2e"/>
<rect x="399.06" y="409.70" width="15.59" height="2.05" fill="#3c703c"/>
<rect x="399.06" y="411.70" width="15.59" height="1.05" fill="#335933"/>
<rect x="399.06" y="412.70" width="15.59" height="1.05" fill="#2f502f"/>
<rect x="399.06" y="413.70" width="15.59" height="1.05" fill="#3d713d"/>
<rect x="399.06" y="414.70" width="15.59" height="1.05" fill="#305230"/>
<rect x="399.06" y="415.70" width="15.59" height="1.05" fill="#396839"/>
<rect x="399.06" y="416.70" width="15.59" height="1.55" fill="#263b26"/>
<rect x="399.06" y="418.20" width="15.59" height="2.05" fill="#253925"/>
<rect x="399.06" y="420.20" width="15.59" height="1.05" fill="#2f4f2f"/>
<rect x="399.06" y="421.20" width="15.59" height="2.05" fill="#294329"/>
<rect x="399.06" y="423.20" width="15.59" height="2.05" fill="#335833"/>
<rect x="399.06" y="425.20" width="15.59" height="1.05" fill="#263d26"/>
<rect x="399.06" y="426.20" width="15.59" height="1.05" fill="#233623"/>
<rect x="399.06" y="427.20" width="15.59" height="2.05" fill="#2b462b"/>
<rect x="399.06" y="429.20" width="15.59" height="2.05" fill="#2e4d2e"/>
<rect x="399.06" y="431.20" width="15.59" height="1.05" fill="#366036"/>
<rect x="399.06" y="432.20" width="15.59" height="3.55" fill="#325732"/>
<rect x="399.06" y="435.70" width="15.59" height="1.55" fill="#2f4f2f"/>
<rect x="399.06" y="437.20" width="15.59" height="1.55" fill="#284028"/>
<rect x="399.06" y="438.70" width="15.59" height="1.55" fill="#3a693a"/>
<rect x="399.06" y="440.20" width="15.59" height="1.55" fill="#223422"/>
<rect x="399.06" y="441.70" width="15.59" height="1.05" fill="#2d4c2d"/>
<rect x="399.06" y="442.70" width="15.59" height="1.55" fill="#284128"/>
<rect x="399.06" y="444.20" width="15.59" height="1.55" fill="#253925"/>
<rect x="399.06" y="445.70" width="15.59" height="1.05" fill="#2f502f"/>
<rect x="399.06" y="446.70" width="15.59" height="1.05" fill="#243824"/>
<rect x="399.06" y="447.70" width="15.59" height="1.05" fill="#2f512f"/>
<rect x="399.06" y="448.70" width="15.59" height="1.05" fill="#2e4d2e"/>
<rect x="399.06" y="449.70" width="15.59" height="1.55" fill="#2a452a"/>
<rect x="399.06" y="451.20" width="15.59" height="1.05" fill="#233523"/>
<rect x="399.06" y="452.20" width="15.59" height="1.05" fill="#243824"/>
<rect x="399.06" y="453.20" width="15.59" height="1.05" fill="#2b472b"/>
<rect x="399.06" y="454.20" width="15.59" height="2.05" fill="#335933"/>
<rect x="399.06" y="456.20" width="15.59" height="1.05" fill="#243824"/>
<rect x="399.06" y="457.20" width="15.59" height="1.05" fill="#345b34"/>
<rect x="399.06" y="458.20" width="15.59" height="1.05" fill="#243824"/>
<rect x="399.06" y="459.20" width="15.59" height="2.05" fill="#2c4a2c"/>
<rect x="399.06" y="461.20" width="15.59" height="1.05" fill="#2f4f2f"/>
<rect x="399.06" y="462.20" width="15.59" height="2.05" fill="#315531"/>
<rect x="399.06" y="464.20" width="15.59" height="1.05" fill="#2c492c"/>
<rect x="399.06" y="465.20" width="15.59" height="1.05" fill="#2f502f"/>
<rect x="399.06" y="466.20" width="15.59" height="2.05" fill="#223222"/>
<rect x="399.06" y="468.20" width="15.59" height="1.05" fill="#2c4a2c"/>
<rect x="399.06" y="469.20" width="15.59" height="1.05" fill="#305330"/>
<rect x="399.06" y="470.20" width="15.59" height="1.05" fill="#2e4e2e"/>
<rect x="399.06" y="471.20" width="15.59" height="2.05" fill="#243724"/>
<rect x="399.06" y="473.20" width="15.59" height="1.55" fill="#2f502f"/>
<rect x="399.06" y="474.70" width="15.59" height="1.05" fill="#2d4c2d"/>
<rect x="399.06" y="475.70" width="15.59" height="1.05" fill="#2a452a"/>
<rect x="399.06" y="476.70" width="15.59" height="1.05" fill="#2b462b"/>
<rect x="399.06" y="477.70" width="15.59" height="1.85" fill="#315431"/>
<rect x="414.35" y="217.20" width="15.59" height="4.55" fill="#cd4628"/>
<rect x="414.35" y="221.70" width="15.59" height="1.05" fill="#c24226"/>
<rect x="414.35" y="222.70" width="15.59" height="2.05" fill="#c04226"/>
<rect x="414.35" y="224.70" width="15.59" height="1.05" fill="#cd4628"/>
<rect x="414.35" y="225.70" width="15.59" height="1.05" fill="#96351f"/>
<rect x="414.35" y="226.70" width="15.59" height="2.05" fill="#cd4628"/>
<rect x="414.35" y="228.70" width="15.59" height="1.05" fill="#bb4025"/>
<rect x="414.35" y="229.70" width="15.59" height="2.05" fill="#cd4628"/>
<rect x="414.35" y="231.70" width="15.59" height="1.05" fill="#8f331e"/>
<rect x="414.35" y="232.70" width="15.59" height="1.05" fill="#ac3c23"/>
<rect x="414.35" y="233.70" width="15.59" height="1.05" fill="#cd4628"/>
<rect x="414.35" y="234.70" width="15.59" height="1.55" fill="#c44326"/>
<rect x="414.35" y="236.20" width="15.59" height="2.55" fill="#cd4628"/>
<rect x="414.35" y="238.70" width="15.59" height="1.05" fill="#552015"/>
<rect x="414.35" y="239.70" width="15.59" height="1.05" fill="#702919"/>
<rect x="414.35" y="240.70" width="15.59" height="2.05" fill="#521f14"/>
<rect x="414.35" y="242.70" width="15.59" height="1.55" fill="#31150f"/>
<rect x="414.35" y="244.20" width="15.59" height="1.05" fill="#7d2d1b"/>
<rect x="414.35" y="245.20" width="15.59" height="2.05" fill="#501f14"/>
<rect x="414.35" y="247.20" width="15.59" height="1.05" fill="#521f14"/>
<rect x="414.35" y="248.20" width="15.59" height="1.05" fill="#361710"/>
<rect x="414.35" y="249.20" width="15.59" height="2.05" fill="#752a1a"/>
<rect x="414.35" y="251.20" width="15.59" height="1.05" fill="#662617"/>
<rect x="414.35" y="252.20" width="15.59" height="2.05" fill="#7b2c1b"/>
<rect x="414.35" y="254.20" width="15.59" height="2.05" fill="#4d1e13"/>
<rect x="414.35" y="256.20" width="15.59" height="1.55" fill="#4e1e13"/>
<rect x="414.35" y="257.70" width="15.59" height="1.05" fill="#3e1911"/>
<rect x="414.35" y="258.70" width="15.59" height="1.05" fill="#401a11"/>
<rect x="414.35" y="259.70" width="15.59" height="1.05" fill="#140c0a"/>
<rect x="414.35" y="260.70" width="15.59" height="2.05" fill="#0c0c0c"/>
<rect x="414.35" y="262.70" width="15.59" height="1.05" fill="#0f100f"/>
<rect x="414.35" y="263.70" width="15.59" height="1.05" fill="#24110d"/>
<rect x="414.35" y="264.70" width="15.59" height="1.55" fill="#7b2c1b"/>
<rect x="414.35" y="266.20" width="15.59" height="1.05" fill="#0b0909"/>
<rect x="414.35" y="267.20" width="15.59" height="2.05" fill="#180d0b"/>
<rect x="414.35" y="269.20" width="15.59" height="1.05" fill="#130b0a"/>
<rect x="414.35" y="270.20" width="15.59" height="2.05" fill="#110b0a"/>
<rect x="414.35" y="272.20" width="15.59" height="1.05" fill="#0a0808"/>
<rect x="414.35" y="273.20" width="15.59" height="2.05" fill="#100a09"/>
<rect x="414.35" y="275.20" width="15.59" height="1.05" fill="#130c0a"/>
<rect x="414.35" y="276.20" width="15.59" height="1.05" fill="#130b0a"/>
<rect x="414.35" y="277.20" width="15.59" height="2.05" fill="#131713"/>
<rect x="414.35" y="279.20" width="15.59" height="2.05" fill="#0a0908"/>
<rect x="414.35" y="281.20" width="15.59" height="1.05" fill="#1c0e0b"/>
<rect x="414.35" y="282.20" width="15.59" height="1.05" fill="#6d2818"/>
<rect x="414.35" y="283.20" width="15.59" height="1.05" fill="#1b0e0b"/>
<rect x="414.35" y="284.20" width="15.59" height="2.05" fill="#21100c"/>
<rect x="414.35" y="286.20" width="15.59" height="1.05" fill="#0b0908"/>
<rect x="414.35" y="287.20" width="15.59" height="2.05" fill="#26120d"/>
<rect x="414.35" y="289.20" width="15.59" height="1.05" fill="#090808"/>
<rect x="414.35" y="290.20" width="15.59" height="2.05" fill="#131613"/>
<rect x="414.35" y="292.20" width="15.59" height="1.05" fill="#0b0908"/>
<rect x="414.35" y="293.20" width="15.59" height="1.55" fill="#090808"/>
<rect x="414.35" y="294.70" width="15.59" height="2.05" fill="#0c0909"/>
<rect x="414.35" y="296.70" width="15.59" height="1.55" fill="#120b0a"/>
<rect x="414.35" y="298.20" width="15.59" height="1.05" fill="#0c0c0c"/>
<rect x="414.35" y="299.20" width="15.59" height="1.55" fill="#0e0a09"/>
<rect x="414.35" y="300.70" width="15.59" height="2.05" fill="#2d140e"/>
<rect x="414.35" y="302.70" width="15.59" height="1.55" fill="#22100c"/>
<rect x="414.35" y="304.20" width="15.59" height="1.05" fill="#100a09"/>
<rect x="414.35" y="305.20" width="15.59" height="1.05" fill="#111311"/>
<rect x="414.35" y="306.20" width="15.59" height="1.05" fill="#170d0a"/>
<rect x="414.35" y="307.20" width="15.59" height="1.05" fill="#160c0a"/>
<rect x="414.35" y="308.20" width="15.59" height="1.05" fill="#0c0909"/>
<rect x="414.35" y="309.20" width="15.59" height="1.05" fill="#160c0a"/>
<rect x="414.35" y="310.20" width="15.59" height="2.05" fill="#0c0909"/>
<rect x="414.35" y="312.20" width="15.59" height="1.05" fill="#131713"/>
<rect x="414.35" y="313.20" width="15.59" height="2.05" fill="#0d0a09"/>
<rect x="414.35" y="315.20" width="15.59" height="1.55" fill="#120b0a"/>
<rect x="414.35" y="316.70" width="15.59" height="1.05" fill="#090808"/>
<rect x="414.35" y="317.70" width="15.59" height="1.55" fill="#170d0a"/>
<rect x="414.35" y="319.20" width="15.59" height="1.05" fill="#131613"/>
<rect x="414.35" y="320.20" width="15.59" height="2.05" fill="#160c0a"/>
<rect x="414.35" y="322.20" width="15.59" height="1.05" fill="#121512"/>
<rect x="414.35" y="323.20" width="15.59" height="1.05" fill="#0f0a09"/>
<rect x="414.35" y="324.20" width="15.59" height="2.05" fill="#0c0909"/>
<rect x="414.35" y="326.20" width="15.59" height="1.55" fill="#0c0c0c"/>
<rect x="414.35" y="327.70" width="15.59" height="1.05" fill="#0b0b0b"/>
<rect x="414.35" y="328.70" width="15.59" height="1.05" fill="#0e0a09"/>
<rect x="414.35" y="329.70" width="15.59" height="1.05" fill="#130c0a"/>
<rect x="414.35" y="330.70" width="15.59" height="1.55" fill="#4c1e13"/>
<rect x="414.35" y="332.20" width="15.59" height="1.55" fill="#0f0a09"/>
<rect x="414.35" y="333.70" width="15.59" height="1.05" fill="#0d0a09"/>
<rect x="414.35" y="334.70" width="15.59" height="1.05" fill="#0e0f0e"/>
<rect x="414.35" y="335.70" width="15.59" height="2.05" fill="#0b0909"/>
<rect x="414.35" y="337.70" width="15.59" height="2.05" fill="#25110d"/>
<rect x="414.35" y="339.70" width="15.59" height="1.05" fill="#1c0e0b"/>
<rect x="414.35" y="340.70" width="15.59" height="1.05" fill="#090808"/>
<rect x="414.35" y="341.70" width="15.59" height="1.05" fill="#111311"/>
<rect x="414.35" y="342.70" width="15.59" height="2.05" fill="#120b0a"/>
<rect x="414.35" y="344.70" width="15.59" height="1.55" fill="#431a12"/>
<rect x="414.35" y="346.20" width="15.59" height="2.05" fill="#110b09"/>
<rect x="414.35" y="348.20" width="15.59" height="1.55" fill="#0a0908"/>
<rect x="414.35" y="349.70" width="15.59" height="1.05" fill="#160c0a"/>
<rect x="414.35" y="350.70" width="15.59" height="1.05" fill="#1d0f0b"/>
<rect x="414.35" y="351.70" width="15.59" height="1.05" fill="#0b0b0b"/>
<rect x="414.35" y="352.70" width="15.59" height="1.55" fill="#170d0a"/>
<rect x="414.35" y="354.20" width="15.59" height="1.05" fill="#140c0a"/>
<rect x="414.35" y="355.20" width="15.59" height="2.05" fill="#131613"/>
<rect x="414.35" y="357.20" width="15.59" height="2.05" fill="#100a09"/>
<rect x="414.35" y="359.20" width="15.59" height="1.55" fill="#0b0909"/>
<rect x="414.35" y="360.70" width="15.59" height="1.05" fill="#0d0e0d"/>
<rect x="414.35" y="361.70" width="15.59" height="1.55" fill="#1c281c"/>
<rect x="414.35" y="363.20" width="15.59" height="1.05" fill="#361710"/>
<rect x="414.35" y="364.20" width="15.59" height="1.05" fill="#0e0a09"/>
<rect x="414.35" y="365.20" width="15.59" height="1.55" fill="#0f100f"/>
<rect x="414.35" y="366.70" width="15.59" height="1.05" fill="#090909"/>
<rect x="414.35" y="367.70" width="15.59" height="1.05" fill="#1c0e0b"/>
<rect x="414.35" y="368.70" width="15.59" height="2.05" fill="#1b0e0b"/>
<rect x="414.35" y="370.70" width="15.59" height="1.05" fill="#511f14"/>
<rect x="414.35" y="371.70" width="15.59" height="1.55" fill="#190d0b"/>
<rect x="414.35" y="373.20" width="15.59" height="1.05" fill="#130b0a"/>
<rect x="414.35" y="374.20" width="15.59" height="1.05" fill="#0d0909"/>
<rect x="414.35" y="375.20" width="15.59" height="1.05" fill="#6c2818"/>
<rect x="414.35" y="376.20" width="15.59" height="1.05" fill="#762b1a"/>
<rect x="414.35" y="377.20" width="15.59" height="1.05" fill="#94341f"/>
<rect x="414.35" y="378.20" width="15.59" height="1.55" fill="#652517"/>
<rect x="414.35" y="379.70" width="15.59" height="1.55" fill="#b73f25"/>
<rect x="414.35" y="381.20" width="15.59" height="1.55" fill="#9b3620"/>
<rect x="414.35" y="382.70" width="15.59" height="1.05" fill="#722919"/>
<rect x="414.35" y="383.70" width="15.59" height="1.05" fill="#cd4628"/>
<rect x="414.35" y="384.70" width="15.59" height="1.55" fill="#bb4025"/>
<rect x="414.35" y="386.20" width="15.59" height="1.55" fill="#cd4628"/>
<rect x="414.35" y="387.70" width="15.59" height="2.05" fill="#c24226"/>
<rect x="414.35" y="389.70" width="15.59" height="1.05" fill="#190d0b"/>
<rect x="414.35" y="390.70" width="15.59" height="1.05" fill="#1e0f0c"/>
<rect x="414.35" y="391.70" width="15.59" height="1.55" fill="#0e0a09"/>
<rect x="414.35" y="393.20" width="15.59" height="2.05" fill="#121612"/>
<rect x="414.35" y="395.20" width="15.59" height="1.05" fill="#1c0e0b"/>
<rect x="414.35" y="396.20" width="15.59" height="1.55" fill="#182018"/>
<rect x="414.35" y="397.70" width="15.59" height="1.05" fill="#090808"/>
<rect x="414.35" y="398.70" width="15.59" height="1.55" fill="#140c0a"/>
<rect x="414.35" y="400.20" width="15.59" height="1.05" fill="#110b0a"/>
<rect x="414.35" y="401.20" width="15.59" height="1.05" fill="#110b09"/>
<rect x="414.35" y="402.20" width="15.59" height="1.05" fill="#111411"/>
<rect x="414.35" y="403.20" width="15.59" height="1.05" fill="#233623"/>
<rect x="414.35" y="404.20" width="15.59" height="1.05" fill="#1d281d"/>
<rect x="414.35" y="405.20" width="15.59" height="1.05" fill="#0a0a0a"/>
<rect x="414.35" y="406.20" width="15.59" height="1.05" fill="#131713"/>
<rect x="414.35" y="407.20" width="15.59" height="1.05" fill="#1e2a1e"/>
<rect x="414.35" y="408.20" width="15.59" height="1.55" fill="#0d0d0d"/>
<rect x="414.35" y="409.70" width="15.59" height="2.05" fill="#121512"/>
<rect x="414.35" y="411.70" width="15.59" height="1.05" fill="#1f2e1f"/>
<rect x="414.35" y="412.70" width="15.59" height="1.05" fill="#151b15"/>
<rect x="414.35" y="413.70" width="15.59" height="1.05" fill="#2b462b"/>
<rect x="414.35" y="414.70" width="15.59" height="1.05" fill="#243724"/>
<rect x="414.35" y="415.70" width="15.59" height="1.05" fill="#213121"/>
<rect x="414.35" y="416.70" width="15.59" height="1.55" fill="#243824"/>
<rect x="414.35" y="418.20" width="15.59" height="2.05" fill="#273d27"/>
<rect x="414.35" y="420.20" width="15.59" height="1.05" fill="#140c0a"/>
<rect x="414.35" y="421.20" width="15.59" height="2.05" fill="#171e17"/>
<rect x="414.35" y="423.20" width="15.59" height="2.05" fill="#1a241a"/>
<rect x="414.35" y="425.20" width="15.59" height="1.05" fill="#203020"/>
<rect x="414.35" y="426.20" width="15.59" height="1.05" fill="#151a15"/>
<rect x="414.35" y="427.20" width="15.59" height="2.05" fill="#0b0908"/>
<rect x="414.35" y="429.20" width="15.59" height="2.05" fill="#202f20"/>
<rect x="414.35" y="431.20" width="15.59" height="1.05" fill="#151a15"/>
<rect x="414.35" y="432.20" width="15.59" height="1.55" fill="#1e2b1e"/>
<rect x="414.35" y="433.70" width="15.59" height="2.05" fill="#203020"/>
<rect x="414.35" y="435.70" width="15.59" height="1.55" fill="#141814"/>
<rect x="414.35" y="437.20" width="15.59" height="1.55" fill="#1c281c"/>
<rect x="414.35" y="438.70" width="15.59" height="1.55" fill="#202f20"/>
<rect x="414.35" y="440.20" width="15.59" height="1.55" fill="#1a231a"/>
<rect x="414.35" y="441.70" width="15.59" height="1.05" fill="#1f2e1f"/>
<rect x="414.35" y="442.70" width="15.59" height="1.55" fill="#0a0908"/>
<rect x="414.35" y="444.20" width="15.59" height="1.55" fill="#171f17"/>
<rect x="414.35" y="445.70" width="15.59" height="1.05" fill="#0f0a09"/>
<rect x="414.35" y="446.70" width="15.59" height="1.05" fill="#171d17"/>
<rect x="414.35" y="447.70" width="15.59" height="1.05" fill="#2a452a"/>
<rect x="414.35" y="448.70" width="15.59" height="1.05" fill="#1c281c"/>
<rect x="414.35" y="449.70" width="15.59" height="1.55" fill="#151b15"/>
<rect x="414.35" y="451.20" width="15.59" height="1.05" fill="#202f20"/>
<rect x="414.35" y="452.20" width="15.59" height="1.05" fill="#131713"/>
<rect x="414.35" y="453.20" width="15.59" height="1.05" fill="#0b0908"/>
<rect x="414.35" y="454.20" width="15.59" height="2.05" fill="#1d2a1d"/>
<rect x="414.35" y="456.20" width="15.59" height="1.05" fill="#192119"/>
<rect x="414.35" y="457.20" width="15.59" height="1.05" fill="#182018"/>
<rect x="414.35" y="458.20" width="15.59" height="1.05" fill="#131813"/>
<rect x="414.35" y="459.20" width="15.59" height="2.05" fill="#161d16"/>
<rect x="414.35" y="461.20" width="15.59" height="1.05" fill="#1a241a"/>
<rect x="414.35" y="462.20" width="15.59" height="2.05" fill="#1c271c"/>
<rect x="414.35" y="464.20" width="15.59" height="1.05" fill="#090808"/>
<rect x="414.35" y="465.20" width="15.59" height="1.05" fill="#1a231a"/>
<rect x="414.35" y="466.20" width="15.59" height="2.05" fill="#141814"/>
<rect x="414.35" y="468.20" width="15.59" height="1.05" fill="#1d2a1d"/>
<rect x="414.35" y="469.20" width="15.59" height="1.05" fill="#1a231a"/>
<rect x="414.35" y="470.20" width="15.59" height="1.05" fill="#273f27"/>
<rect x="414.35" y="471.20" width="15.59" height="2.05" fill="#223222"/>
<rect x="414.35" y="473.20" width="15.59" height="1.55" fill="#192119"/>
<rect x="414.35" y="474.70" width="15.59" height="1.05" fill="#202e20"/>
<rect x="414.35" y="475.70" width="15.59" height="1.05" fill="#131813"/>
<rect x="414.35" y="476.70" width="15.59" height="1.05" fill="#1b251b"/>
<rect x="414.35" y="477.70" width="15.59" height="1.85" fill="#182018"/>
<rect x="429.64" y="217.20" width="15.59" height="1.05" fill="#2d140e"/>
<rect x="429.64" y="218.20" width="15.59" height="1.05" fill="#1c0e0b"/>
<rect x="429.64" y="219.20" width="15.59" height="1.55" fill="#0f0a09"/>
<rect x="429.64" y="220.70" width="15.59" height="1.05" fill="#1a241a"/>
<rect x="429.64" y="221.70" width="15.59" height="1.05" fill="#1f0f0c"/>
<rect x="429.64" y="222.70" width="15.59" height="2.05" fill="#100b09"/>
<rect x="429.64" y="224.70" width="15.59" height="1.05" fill="#0b0908"/>
<rect x="429.64" y="225.70" width="15.59" height="1.05" fill="#150c0a"/>
<rect x="429.64" y="226.70" width="15.59" height="2.05" fill="#0d0e0d"/>
<rect x="429.64" y="228.70" width="15.59" height="1.05" fill="#0b0908"/>
<rect x="429.64" y="229.70" width="15.59" height="2.05" fill="#0f0a09"/>
<rect x="429.64" y="231.70" width="15.59" height="1.05" fill="#151b15"/>
<rect x="429.64" y="232.70" width="15.59" height="1.05" fill="#0d0909"/>
<rect x="429.64" y="233.70" width="15.59" height="1.05" fill="#130b0a"/>
<rect x="429.64" y="234.70" width="15.59" height="1.55" fill="#21100c"/>
<rect x="429.64" y="236.20" width="15.59" height="1.55" fill="#1b0e0b"/>
<rect x="429.64" y="237.70" width="15.59" height="1.05" fill="#441b12"/>
<rect x="429.64" y="238.70" width="15.59" height="1.05" fill="#c24326"/>
<rect x="429.64" y="239.70" width="15.59" height="1.05" fill="#ae3c23"/>
<rect x="429.64" y="240.70" width="15.59" height="2.05" fill="#c34326"/>
<rect x="429.64" y="242.70" width="15.59" height="1.55" fill="#c04226"/>
<rect x="429.64" y="244.20" width="15.59" height="1.05" fill="#cd4628"/>
<rect x="429.64" y="245.20" width="15.59" height="2.05" fill="#a83a22"/>
<rect x="429.64" y="247.20" width="15.59" height="1.05" fill="#a33921"/>
<rect x="429.64" y="248.20" width="15.59" height="1.05" fill="#852f1c"/>
<rect x="429.64" y="249.20" width="15.59" height="2.05" fill="#ba4025"/>
<rect x="429.64" y="251.20" width="15.59" height="1.05" fill="#cd4628"/>
<rect x="429.64" y="252.20" width="15.59" height="2.05" fill="#c34326"/>
<rect x="429.64" y="254.20" width="15.59" height="2.05" fill="#90331e"/>
<rect x="429.64" y="256.20" width="15.59" height="1.55" fill="#c04226"/>
<rect x="429.64" y="257.70" width="15.59" height="1.05" fill="#8e321e"/>
<rect x="429.64" y="258.70" width="15.59" height="1.05" fill="#6c2718"/>
<rect x="429.64" y="259.70" width="15.59" height="1.05" fill="#cd4628"/>
<rect x="429.64" y="260.70" width="15.59" height="2.05" fill="#9a3620"/>
<rect x="429.64" y="262.70" width="15.59" height="1.05" fill="#bc4125"/>
<rect x="429.64" y="263.70" width="15.59" height="1.05" fill="#8d321e"/>
<rect x="429.64" y="264.70" width="15.59" height="1.55" fill="#cd4628"/>
<rect x="429.64" y="266.20" width="15.59" height="1.05" fill="#842f1c"/>
<rect x="429.64" y="267.20" width="15.59" height="2.05" fill="#b53e24"/>
<rect x="429.64" y="269.20" width="15.59" height="1.05" fill="#98351f"/>
<rect x="429.64" y="270.20" width="15.59" height="2.05" fill="#86301c"/>
<rect x="429.64" y="272.20" width="15.59" height="1.05" fill="#95341f"/>
<rect x="429.64" y="273.20" width="15.59" height="2.05" fill="#8e321e"/>
<rect x="429.64" y="275.20" width="15.59" height="1.05" fill="#b83f25"/>
<rect x="429.64" y="276.20" width="15.59" height="1.05" fill="#6d2818"/>
<rect x="429.64" y="277.20" width="15.59" height="2.05" fill="#c24226"/>
<rect x="429.64" y="279.20" width="15.59" height="2.05" fill="#a43921"/>
<rect x="429.64" y="281.20" width="15.59" height="1.05" fill="#7c2c1b"/>
<rect x="429.64" y="282.20" width="15.59" height="2.05" fill="#cd4628"/>
<rect x="429.64" y="284.20" width="15.59" height="2.05" fill="#c74427"/>
<rect x="429.64" y="286.20" width="15.59" height="3.05" fill="#cd4628"/>
<rect x="429.64" y="289.20" width="15.59" height="1.05" fill="#c24226"/>
<rect x="429.64" y="290.20" width="15.59" height="2.05" fill="#88301d"/>
<rect x="429.64" y="292.20" width="15.59" height="1.05" fill="#a83a22"/>
<rect x="429.64" y="293.20" width="15.59" height="1.55" fill="#722919"/>
<rect x="429.64" y="294.70" width="15.59" height="2.05" fill="#bc4125"/>
<rect x="429.64" y="296.70" width="15.59" height="1.55" fill="#852f1c"/>
<rect x="429.64" y="298.20" width="15.59" height="1.05" fill="#b53e24"/>
<rect x="429.64" y="299.20" width="15.59" height="1.55" fill="#c64427"/>
<rect x="429.64" y="300.70" width="15.59" height="2.05" fill="#4b1d13"/>
<rect x="429.64" y="302.70" width="15.59" height="1.55" fill="#712919"/>
<rect x="429.64" y="304.20" width="15.59" height="1.05" fill="#8d321e"/>
<rect x="429.64" y="305.20" width="15.59" height="1.05" fill="#cd4628"/>
<rect x="429.64" y="306.20" width="15.59" height="1.05" fill="#a43921"/>
<rect x="429.64" y="307.20" width="15.59" height="1.05" fill="#c34326"/>
<rect x="429.64" y="308.20" width="15.59" height="1.05" fill="#a03821"/>
<rect x="429.64" y="309.20" width="15.59" height="1.05" fill="#852f1c"/>
<rect x="429.64" y="310.20" width="15.59" height="2.05" fill="#c74427"/>
<rect x="429.64" y="312.20" width="15.59" height="1.05" fill="#762b1a"/>
<rect x="429.64" y="313.20" width="15.59" height="2.05" fill="#702919"/>
<rect x="429.64" y="315.20" width="15.59" height="1.55" fill="#92331e"/>
<rect x="429.64" y="316.70" width="15.59" height="1.05" fill="#682618"/>
<rect x="429.64" y="317.70" width="15.59" height="1.55" fill="#cd4628"/>
<rect x="429.64" y="319.20" width="15.59" height="1.05" fill="#6d2818"/>
<rect x="429.64" y="320.20" width="15.59" height="2.05" fill="#c84427"/>
<rect x="429.64" y="322.20" width="15.59" height="1.05" fill="#842f1c"/>
<rect x="429.64" y="323.20" width="15.59" height="1.05" fill="#af3d23"/>
<rect x="429.64" y="324.20" width="15.59" height="2.05" fill="#90331e"/>
<rect x="429.64" y="326.20" width="15.59" height="1.55" fill="#742a1a"/>
<rect x="429.64" y="327.70" width="15.59" height="1.05" fill="#aa3b22"/>
<rect x="429.64" y="328.70" width="15.59" height="1.05" fill="#a43921"/>
<rect x="429.64" y="329.70" width="15.59" height="1.05" fill="#993620"/>
<rect x="429.64" y="330.70" width="15.59" height="1.55" fill="#cd4628"/>
<rect x="429.64" y="332.20" width="15.59" height="1.55" fill="#4c1d13"/>
<rect x="429.64" y="333.70" width="15.59" height="1.05" fill="#521f14"/>
<rect x="429.64" y="334.70" width="15.59" height="1.05" fill="#782b1a"/>
<rect x="429.64" y="335.70" width="15.59" height="2.05" fill="#89311d"/>
<rect x="429.64" y="337.70" width="15.59" height="2.05" fill="#6f2919"/>
<rect x="429.64" y="339.70" width="15.59" height="1.05" fill="#aa3b22"/>
<rect x="429.64" y="340.70" width="15.59" height="1.05" fill="#842f1c"/>
<rect x="429.64" y="341.70" width="15.59" height="1.05" fill="#a33921"/>
<rect x="429.64" y="342.70" width="15.59" height="2.05" fill="#c54327"/>
<rect x="429.64" y="344.70" width="15.59" height="1.55" fill="#88301d"/>
<rect x="429.64" y="346.20" width="15.59" height="2.05" fill="#9e3720"/>
<rect x="429.64" y="348.20" width="15.59" height="1.55" fill="#a83a22"/>
<rect x="429.64" y="349.70" width="15.59" height="1.05" fill="#4d1e13"/>
<rect x="429.64" y="350.70" width="15.59" height="1.05" fill="#652517"/>
<rect x="429.64" y="351.70" width="15.59" height="1.05" fill="#5b2215"/>
<rect x="429.64" y="352.70" width="15.59" height="1.55" fill="#592215"/>
<rect x="429.64" y="354.20" width="15.59" height="1.05" fill="#4b1d13"/>
<rect x="429.64" y="355.20" width="15.59" height="1.05" fill="#8f321e"/>
<rect x="429.64" y="356.20" width="15.59" height="1.05" fill="#812e1c"/>
<rect x="429.64" y="357.20" width="15.59" height="2.05" fill="#511f14"/>
<rect x="429.64" y="359.20" width="15.59" height="1.55" fill="#652517"/>
<rect x="429.64" y="360.70" width="15.59" height="1.05" fill="#662617"/>
<rect x="429.64" y="361.70" width="15.59" height="1.55" fill="#8f331e"/>
<rect x="429.64" y="363.20" width="15.59" height="1.05" fill="#7b2c1b"/>
<rect x="429.64" y="364.20" width="15.59" height="1.05" fill="#29120d"/>
<rect x="429.64" y="365.20" width="15.59" height="1.55" fill="#652517"/>
<rect x="429.64" y="366.70" width="15.59" height="1.05" fill="#1e0f0c"/>
<rect x="429.64" y="367.70" width="15.59" height="1.05" fill="#2d140e"/>
<rect x="429.64" y="368.70" width="15.59" height="2.05" fill="#431b12"/>
<rect x="429.64" y="370.70" width="15.59" height="1.05" fill="#682618"/>
<rect x="429.64" y="371.70" width="15.59" height="1.55" fill="#822e1c"/>
<rect x="429.64" y="373.20" width="15.59" height="1.05" fill="#140c0a"/>
<rect x="429.64" y="374.20" width="15.59" height="1.05" fill="#712919"/>
<rect x="429.64" y="375.20" width="15.59" height="1.05" fill="#752a1a"/>
<rect x="429.64" y="376.20" width="15.59" height="1.05" fill="#96351f"/>
<rect x="429.64" y="377.20" width="15.59" height="1.05" fill="#5b2216"/>
<rect x="429.64" y="378.20" width="15.59" height="1.55" fill="#752a1a"/>
<rect x="429.64" y="379.70" width="15.59" height="1.55" fill="#a93b22"/>
<rect x="429.64" y="381.20" width="15.59" height="1.55" fill="#832f1c"/>
<rect x="429.64" y="382.70" width="15.59" height="1.05" fill="#772b1a"/>
<rect x="429.64" y="383.70" width="15.59" height="1.05" fill="#a53921"/>
<rect x="429.64" y="384.70" width="15.59" height="1.55" fill="#160d0a"/>
<rect x="429.64" y="386.20" width="15.59" height="1.55" fill="#151b15"/>
<rect x="429.64" y="387.70" width="15.59" height="2.05" fill="#0f0a09"/>
<rect x="429.64" y="389.70" width="15.59" height="1.05" fill="#0c0909"/>
<rect x="429.64" y="390.70" width="15.59" height="1.05" fill="#0f0a09"/>
<rect x="429.64" y="391.70" width="15.59" height="1.55" fill="#1c0e0b"/>
<rect x="429.64" y="393.20" width="15.59" height="2.05" fill="#9a3620"/>
<rect x="429.64" y="395.20" width="15.59" height="1.05" fill="#ba4025"/>
<rect x="429.64" y="396.20" width="15.59" height="1.55" fill="#91331e"/>
<rect x="429.64" y="397.70" width="15.59" height="1.05" fill="#9e3720"/>
<rect x="429.64" y="398.70" width="15.59" height="1.55" fill="#4b1d13"/>
<rect x="429.64" y="400.20" width="15.59" height="1.05" fill="#c64427"/>
<rect x="429.64" y="401.20" width="15.59" height="1.05" fill="#9a3620"/>
<rect x="429.64" y="402.20" width="15.59" height="1.05" fill="#2f502f"/>
<rect x="429.64" y="403.20" width="15.59" height="1.05" fill="#2d4b2d"/>
<rect x="429.64" y="404.20" width="15.59" height="1.05" fill="#325832"/>
<rect x="429.64" y="405.20" width="15.59" height="1.05" fill="#2c482c"/>
<rect x="429.64" y="406.20" width="15.59" height="1.05" fill="#2b472b"/>
<rect x="429.64" y="407.20" width="15.59" height="1.05" fill="#396839"/>
<rect x="429.64" y="408.20" width="15.59" height="1.55" fill="#1c261c"/>
<rect x="429.64" y="409.70" width="15.59" height="2.05" fill="#396839"/>
<rect x="429.64" y="411.70" width="15.59" height="1.05" fill="#345d34"/>
<rect x="429.64" y="412.70" width="15.59" height="1.05" fill="#2f4f2f"/>
<rect x="429.64" y="413.70" width="15.59" height="1.05" fill="#335a33"/>
<rect x="429.64" y="414.70" width="15.59" height="1.05" fill="#273e27"/>
<rect x="429.64" y="415.70" width="15.59" height="1.05" fill="#366036"/>
<rect x="429.64" y="416.70" width="15.59" height="1.55" fill="#2c492c"/>
<rect x="429.64" y="418.20" width="15.59" height="2.05" fill="#294229"/>
<rect x="429.64" y="420.20" width="15.59" height="1.05" fill="#325732"/>
<rect x="429.64" y="421.20" width="15.59" height="2.05" fill="#213121"/>
<rect x="429.64" y="423.20" width="15.59" height="2.05" fill="#315431"/>
<rect x="429.64" y="425.20" width="15.59" height="1.05" fill="#335833"/>
<rect x="429.64" y="426.20" width="15.59" height="1.05" fill="#1e2a1e"/>
<rect x="429.64" y="427.20" width="15.59" height="2.05" fill="#2b462b"/>
<rect x="429.64" y="429.20" width="15.59" height="2.05" fill="#2d4c2d"/>
<rect x="429.64" y="431.20" width="15.59" height="1.05" fill="#386638"/>
<rect x="429.64" y="432.20" width="15.59" height="1.55" fill="#2e4e2e"/>
<rect x="429.64" y="433.70" width="15.59" height="2.05" fill="#2c492c"/>
<rect x="429.64" y="435.70" width="15.59" height="1.55" fill="#2d4c2d"/>
<rect x="429.64" y="437.20" width="15.59" height="1.55" fill="#2d4b2d"/>
<rect x="429.64" y="438.70" width="15.59" height="1.55" fill="#2c482c"/>
<rect x="429.64" y="440.20" width="15.59" height="1.55" fill="#2e4f2e"/>
<rect x="429.64" y="441.70" width="15.59" height="1.05" fill="#2b462b"/>
<rect x="429.64" y="442.70" width="15.59" height="1.55" fill="#2d4b2d"/>
<rect x="429.64" y="444.20" width="15.59" height="1.55" fill="#223322"/>
<rect x="429.64" y="445.70" width="15.59" height="1.05" fill="#263c26"/>
<rect x="429.64" y="446.70" width="15.59" height="1.05" fill="#213221"/>
<rect x="429.64" y="447.70" width="15.59" height="1.05" fill="#315431"/>
<rect x="429.64" y="448.70" width="15.59" height="1.05" fill="#305330"/>
<rect x="429.64" y="449.70" width="15.59" height="1.55" fill="#1c271c"/>
<rect x="429.64" y="451.20" width="15.59" height="1.05" fill="#294229"/>
<rect x="429.64" y="452.20" width="15.59" height="1.05" fill="#1d2a1d"/>
<rect x="429.64" y="453.20" width="15.59" height="1.05" fill="#2a452a"/>
<rect x="429.64" y="454.20" width="15.59" height="2.05" fill="#2d4c2d"/>
<rect x="429.64" y="456.20" width="15.59" height="1.05" fill="#1b261b"/>
<rect x="429.64" y="457.20" width="15.59" height="1.05" fill="#2a452a"/>
<rect x="429.64" y="458.20" width="15.59" height="1.05" fill="#2f4f2f"/>
<rect x="429.64" y="459.20" width="15.59" height="2.05" fill="#273f27"/>
<rect x="429.64" y="461.20" width="15.59" height="1.05" fill="#2c492c"/>
<rect x="429.64" y="462.20" width="15.59" height="2.05" fill="#284028"/>
<rect x="429.64" y="464.20" width="15.59" height="1.05" fill="#263c26"/>
<rect x="429.64" y="465.20" width="15.59" height="1.05" fill="#2b462b"/>
<rect x="429.64" y="466.20" width="15.59" height="2.05" fill="#223222"/>
<rect x="429.64" y="468.20" width="15.59" height="1.05" fill="#2d4b2d"/>
<rect x="429.64" y="469.20" width="15.59" height="1.05" fill="#315531"/>
<rect x="429.64" y="470.20" width="15.59" height="1.05" fill="#2c482c"/>
<rect x="429.64" y="471.20" width="15.59" height="2.05" fill="#273e27"/>
<rect x="429.64" y="473.20" width="15.59" height="1.55" fill="#223322"/>
<rect x="429.64" y="474.70" width="15.59" height="1.05" fill="#253925"/>
<rect x="429.64" y="475.70" width="15.59" height="1.05" fill="#273f27"/>
<rect x="429.64" y="476.70" width="15.59" height="1.05" fill="#273d27"/>
<rect x="429.64" y="477.70" width="15.59" height="1.85" fill="#315331"/>
<rect x="444.93" y="217.20" width="14.27" height="1.05" fill="#7e2d1b"/>
<rect x="444.93" y="218.20" width="14.27" height="1.05" fill="#0b0909"/>
<rect x="444.93" y="219.20" width="14.27" height="1.55" fill="#130b0a"/>
<rect x="444.93" y="220.70" width="14.27" height="1.05" fill="#622417"/>
<rect x="444.93" y="221.70" width="14.27" height="1.05" fill="#391710"/>
<rect x="444.93" y="222.70" width="14.27" height="2.05" fill="#411a11"/>
<rect x="444.93" y="224.70" width="14.27" height="1.05" fill="#471c12"/>
<rect x="444.93" y="225.70" width="14.27" height="1.05" fill="#1c0e0b"/>
<rect x="444.93" y="226.70" width="14.27" height="2.05" fill="#36160f"/>
<rect x="444.93" y="228.70" width="14.27" height="1.05" fill="#1e0f0c"/>
<rect x="444.93" y="229.70" width="14.27" height="2.05" fill="#762b1a"/>
<rect x="444.93" y="231.70" width="14.27" height="1.05" fill="#2a130e"/>
<rect x="444.93" y="232.70" width="14.27" height="1.05" fill="#29120d"/>
<rect x="444.93" y="233.70" width="14.27" height="1.05" fill="#2f140e"/>
<rect x="444.93" y="234.70" width="14.27" height="1.55" fill="#542014"/>
<rect x="444.93" y="236.20" width="14.27" height="1.55" fill="#1f2c1f"/>
<rect x="444.93" y="237.70" width="14.27" height="1.05" fill="#3f1911"/>
<rect x="444.93" y="238.70" width="14.27" height="1.05" fill="#c84427"/>
<rect x="444.93" y="239.70" width="14.27" height="3.05" fill="#cd4628"/>
<rect x="444.93" y="242.70" width="14.27" height="1.55" fill="#c64427"/>
<rect x="444.93" y="244.20" width="14.27" height="1.05" fill="#cd4628"/>
<rect x="444.93" y="245.20" width="14.27" height="2.05" fill="#9c3720"/>
<rect x="444.93" y="247.20" width="14.27" height="1.05" fill="#9f3720"/>
<rect x="444.93" y="248.20" width="14.27" height="1.05" fill="#95341f"/>
<rect x="444.93" y="249.20" width="14.27" height="2.05" fill="#b83f25"/>
<rect x="444.93" y="251.20" width="14.27" height="3.05" fill="#cd4628"/>
<rect x="444.93" y="254.20" width="14.27" height="2.05" fill="#87301d"/>
<rect x="444.93" y="256.20" width="14.27" height="1.55" fill="#7a2c1b"/>
<rect x="444.93" y="257.70" width="14.27" height="1.05" fill="#822e1c"/>
<rect x="444.93" y="258.70" width="14.27" height="1.05" fill="#552015"/>
<rect x="444.93" y="259.70" width="14.27" height="1.05" fill="#a83a22"/>
<rect x="444.93" y="260.70" width="14.27" height="2.05" fill="#a63a22"/>
<rect x="444.93" y="262.70" width="14.27" height="1.05" fill="#94341f"/>
<rect x="444.93" y="263.70" width="14.27" height="1.05" fill="#5d2316"/>
<rect x="444.93" y="264.70" width="14.27" height="1.55" fill="#732a19"/>
<rect x="444.93" y="266.20" width="14.27" height="1.05" fill="#90331e"/>
<rect x="444.93" y="267.20" width="14.27" height="3.05" fill="#cd4628"/>
<rect x="444.93" y="270.20" width="14.27" height="2.05" fill="#6b2718"/>
<rect x="444.93" y="272.20" width="14.27" height="1.05" fill="#a13821"/>
<rect x="444.93" y="273.20" width="14.27" height="2.05" fill="#b94025"/>
<rect x="444.93" y="275.20" width="14.27" height="1.05" fill="#9e3720"/>
<rect x="444.93" y="276.20" width="14.27" height="1.05" fill="#752a1a"/>
<rect x="444.93" y="277.20" width="14.27" height="2.05" fill="#af3d23"/>
<rect x="444.93" y="279.20" width="14.27" height="2.05" fill="#a13821"/>
<rect x="444.93" y="281.20" width="14.27" height="1.05" fill="#8d321e"/>
<rect x="444.93" y="282.20" width="14.27" height="1.05" fill="#a83a22"/>
<rect x="444.93" y="283.20" width="14.27" height="1.05" fill="#8d321e"/>
<rect x="444.93" y="284.20" width="14.27" height="2.05" fill="#ae3c23"/>
<rect x="444.93" y="286.20" width="14.27" height="1.05" fill="#c24226"/>
<rect x="444.93" y="287.20" width="14.27" height="2.05" fill="#be4126"/>
<rect x="444.93" y="289.20" width="14.27" height="1.05" fill="#c04226"/>
<rect x="444.93" y="290.20" width="14.27" height="2.05" fill="#9c3620"/>
<rect x="444.93" y="292.20" width="14.27" height="1.05" fill="#642517"/>
<rect x="444.93" y="293.20" width="14.27" height="1.55" fill="#cc4628"/>
<rect x="444.93" y="294.70" width="14.27" height="2.05" fill="#752a1a"/>
<rect x="444.93" y="296.70" width="14.27" height="1.55" fill="#772b1a"/>
<rect x="444.93" y="298.20" width="14.27" height="1.05" fill="#501f14"/>
<rect x="444.93" y="299.20" width="14.27" height="1.55" fill="#93341f"/>
<rect x="444.93" y="300.70" width="14.27" height="2.05" fill="#6b2718"/>
<rect x="444.93" y="302.70" width="14.27" height="1.55" fill="#842f1c"/>
<rect x="444.93" y="304.20" width="14.27" height="1.05" fill="#9c3720"/>
<rect x="444.93" y="305.20" width="14.27" height="1.05" fill="#cd4628"/>
<rect x="444.93" y="306.20" width="14.27" height="1.05" fill="#bb4025"/>
<rect x="444.93" y="307.20" width="14.27" height="1.05" fill="#89311d"/>
<rect x="444.93" y="308.20" width="14.27" height="1.05" fill="#a83a22"/>
<rect x="444.93" y="309.20" width="14.27" height="1.05" fill="#98351f"/>
<rect x="444.93" y="310.20" width="14.27" height="2.05" fill="#cd4628"/>
<rect x="444.93" y="312.20" width="14.27" height="1.05" fill="#702919"/>
<rect x="444.93" y="313.20" width="14.27" height="2.05" fill="#ab3b22"/>
<rect x="444.93" y="315.20" width="14.27" height="1.55" fill="#542014"/>
<rect x="444.93" y="316.70" width="14.27" height="1.05" fill="#8c321d"/>
<rect x="444.93" y="317.70" width="14.27" height="1.55" fill="#b23e24"/>
<rect x="444.93" y="319.20" width="14.27" height="1.05" fill="#772b1a"/>
<rect x="444.93" y="320.20" width="14.27" height="2.05" fill="#95341f"/>
<rect x="444.93" y="322.20" width="14.27" height="1.05" fill="#91331e"/>
<rect x="444.93" y="323.20" width="14.27" height="1.05" fill="#b63f24"/>
<rect x="444.93" y="324.20" width="14.27" height="2.05" fill="#86301c"/>
<rect x="444.93" y="326.20" width="14.27" height="1.55" fill="#8b311d"/>
<rect x="444.93" y="327.70" width="14.27" height="1.05" fill="#bc4125"/>
<rect x="444.93" y="328.70" width="14.27" height="1.05" fill="#cd4628"/>
<rect x="444.93" y="329.70" width="14.27" height="1.05" fill="#b83f25"/>
<rect x="444.93" y="330.70" width="14.27" height="1.55" fill="#cd4628"/>
<rect x="444.93" y="332.20" width="14.27" height="1.55" fill="#782b1a"/>
<rect x="444.93" y="333.70" width="14.27" height="1.05" fill="#8f321e"/>
<rect x="444.93" y="334.70" width="14.27" height="1.05" fill="#a03821"/>
<rect x="444.93" y="335.70" width="14.27" height="2.05" fill="#a73a22"/>
<rect x="444.93" y="337.70" width="14.27" height="2.05" fill="#c54427"/>
<rect x="444.93" y="339.70" width="14.27" height="1.05" fill="#c54327"/>
<rect x="444.93" y="340.70" width="14.27" height="2.05" fill="#cd4628"/>
<rect x="444.93" y="342.70" width="14.27" height="2.05" fill="#b33e24"/>
<rect x="444.93" y="344.70" width="14.27" height="1.55" fill="#a23821"/>
<rect x="444.93" y="346.20" width="14.27" height="2.05" fill="#be4126"/>
<rect x="444.93" y="348.20" width="14.27" height="1.55" fill="#9b3620"/>
<rect x="444.93" y="349.70" width="14.27" height="1.05" fill="#bc4125"/>
<rect x="444.93" y="350.70" width="14.27" height="2.05" fill="#cd4628"/>
<rect x="444.93" y="352.70" width="14.27" height="1.55" fill="#b63f24"/>
<rect x="444.93" y="354.20" width="14.27" height="2.05" fill="#cd4628"/>
<rect x="444.93" y="356.20" width="14.27" height="1.05" fill="#a23921"/>
<rect x="444.93" y="357.20" width="14.27" height="2.05" fill="#ac3c23"/>
<rect x="444.93" y="359.20" width="14.27" height="1.55" fill="#b03d23"/>
<rect x="444.93" y="360.70" width="14.27" height="2.55" fill="#cd4628"/>
<rect x="444.93" y="363.20" width="14.27" height="1.05" fill="#93341f"/>
<rect x="444.93" y="364.20" width="14.27" height="2.55" fill="#cd4628"/>
<rect x="444.93" y="366.70" width="14.27" height="1.05" fill="#772b1a"/>
<rect x="444.93" y="367.70" width="14.27" height="1.05" fill="#ab3b22"/>
<rect x="444.93" y="368.70" width="14.27" height="2.05" fill="#b63f24"/>
<rect x="444.93" y="370.70" width="14.27" height="1.05" fill="#cd4628"/>
<rect x="444.93" y="371.70" width="14.27" height="1.55" fill="#a93b22"/>
<rect x="444.93" y="373.20" width="14.27" height="1.05" fill="#3f1911"/>
<rect x="444.93" y="374.20" width="14.27" height="1.05" fill="#89311d"/>
<rect x="444.93" y="375.20" width="14.27" height="1.05" fill="#36160f"/>
<rect x="444.93" y="376.20" width="14.27" height="1.05" fill="#2f140e"/>
<rect x="444.93" y="377.20" width="14.27" height="1.05" fill="#8a311d"/>
<rect x="444.93" y="378.20" width="14.27" height="1.55" fill="#3e1911"/>
<rect x="444.93" y="379.70" width="14.27" height="1.55" fill="#722919"/>
<rect x="444.93" y="381.20" width="14.27" height="1.55" fill="#692718"/>
<rect x="444.93" y="382.70" width="14.27" height="1.05" fill="#5e2316"/>
<rect x="444.93" y="383.70" width="14.27" height="1.05" fill="#441b12"/>
<rect x="444.93" y="384.70" width="14.27" height="1.55" fill="#a63a22"/>
<rect x="444.93" y="386.20" width="14.27" height="1.55" fill="#572115"/>
<rect x="444.93" y="387.70" width="14.27" height="2.05" fill="#5a2215"/>
<rect x="444.93" y="389.70" width="14.27" height="1.05" fill="#4a1d13"/>
<rect x="444.93" y="390.70" width="14.27" height="1.05" fill="#34160f"/>
<rect x="444.93" y="391.70" width="14.27" height="1.55" fill="#140c0a"/>
<rect x="444.93" y="393.20" width="14.27" height="2.05" fill="#562115"/>
<rect x="444.93" y="395.20" width="14.27" height="1.05" fill="#542014"/>
<rect x="444.93" y="396.20" width="14.27" height="1.55" fill="#391710"/>
<rect x="444.93" y="397.70" width="14.27" height="1.05" fill="#24110d"/>
<rect x="444.93" y="398.70" width="14.27" height="1.55" fill="#21100c"/>
<rect x="444.93" y="400.20" width="14.27" height="1.05" fill="#2b130e"/>
<rect x="444.93" y="401.20" width="14.27" height="1.05" fill="#6a2718"/>
<rect x="444.93" y="402.20" width="14.27" height="1.05" fill="#1c271c"/>
<rect x="444.93" y="403.20" width="14.27" height="1.05" fill="#2b462b"/>
<rect x="444.93" y="404.20" width="14.27" height="1.05" fill="#2a452a"/>
<rect x="444.93" y="405.20" width="14.27" height="1.05" fill="#294229"/>
<rect x="444.93" y="406.20" width="14.27" height="1.05" fill="#335833"/>
<rect x="444.93" y="407.20" width="14.27" height="1.05" fill="#3c6e3c"/>
<rect x="444.93" y="408.20" width="14.27" height="1.55" fill="#2a432a"/>
<rect x="444.93" y="409.70" width="14.27" height="2.05" fill="#3f763f"/>
<rect x="444.93" y="411.70" width="14.27" height="1.05" fill="#335833"/>
<rect x="444.93" y="412.70" width="14.27" height="1.05" fill="#2a452a"/>
<rect x="444.93" y="413.70" width="14.27" height="1.05" fill="#325632"/>
<rect x="444.93" y="414.70" width="14.27" height="1.05" fill="#3a693a"/>
<rect x="444.93" y="415.70" width="14.27" height="1.05" fill="#355e35"/>
<rect x="444.93" y="416.70" width="14.27" height="1.55" fill="#294329"/>
<rect x="444.93" y="418.20" width="14.27" height="2.05" fill="#325632"/>
<rect x="444.93" y="420.20" width="14.27" height="1.05" fill="#325732"/>
<rect x="444.93" y="421.20" width="14.27" height="2.05" fill="#294329"/>
<rect x="444.93" y="423.20" width="14.27" height="2.05" fill="#366036"/>
<rect x="444.93" y="425.20" width="14.27" height="1.05" fill="#2b482b"/>
<rect x="444.93" y="426.20" width="14.27" height="1.05" fill="#213021"/>
<rect x="444.93" y="427.20" width="14.27" height="2.05" fill="#2c4a2c"/>
<rect x="444.93" y="429.20" width="14.27" height="2.05" fill="#2f502f"/>
<rect x="444.93" y="431.20" width="14.27" height="1.05" fill="#376437"/>
<rect x="444.93" y="432.20" width="14.27" height="1.55" fill="#3d723d"/>
<rect x="444.93" y="433.70" width="14.27" height="2.05" fill="#263b26"/>
<rect x="444.93" y="435.70" width="14.27" height="1.55" fill="#2e4d2e"/>
<rect x="444.93" y="437.20" width="14.27" height="1.55" fill="#284028"/>
<rect x="444.93" y="438.70" width="14.27" height="1.55" fill="#376237"/>
<rect x="444.93" y="440.20" width="14.27" height="1.55" fill="#2d4c2d"/>
<rect x="444.93" y="441.70" width="14.27" height="2.55" fill="#315531"/>
<rect x="444.93" y="444.20" width="14.27" height="1.55" fill="#283f28"/>
<rect x="444.93" y="445.70" width="14.27" height="1.05" fill="#2f512f"/>
<rect x="444.93" y="446.70" width="14.27" height="1.05" fill="#243724"/>
<rect x="444.93" y="447.70" width="14.27" height="1.05" fill="#335933"/>
<rect x="444.93" y="448.70" width="14.27" height="1.05" fill="#2a442a"/>
<rect x="444.93" y="449.70" width="14.27" height="1.55" fill="#2c4a2c"/>
<rect x="444.93" y="451.20" width="14.27" height="1.05" fill="#305230"/>
<rect x="444.93" y="452.20" width="14.27" height="1.05" fill="#223422"/>
<rect x="444.93" y="453.20" width="14.27" height="1.05" fill="#294329"/>
<rect x="444.93" y="454.20" width="14.27" height="2.05" fill="#2b462b"/>
<rect x="444.93" y="456.20" width="14.27" height="1.05" fill="#305330"/>
<rect x="444.93" y="457.20" width="14.27" height="1.05" fill="#2c492c"/>
<rect x="444.93" y="458.20" width="14.27" height="1.05" fill="#376237"/>
<rect x="444.93" y="459.20" width="14.27" height="2.05" fill="#2a462a"/>
<rect x="444.93" y="461.20" width="14.27" height="1.05" fill="#2b462b"/>
<rect x="444.93" y="462.20" width="14.27" height="2.05" fill="#2f502f"/>
<rect x="444.93" y="464.20" width="14.27" height="1.05" fill="#2e4d2e"/>
<rect x="444.93" y="465.20" width="14.27" height="1.05" fill="#2a452a"/>
<rect x="444.93" y="466.20" width="14.27" height="2.05" fill="#213121"/>
<rect x="444.93" y="468.20" width="14.27" height="1.05" fill="#366036"/>
<rect x="444.93" y="469.20" width="14.27" height="1.05" fill="#2b472b"/>
<rect x="444.93" y="470.20" width="14.27" height="1.05" fill="#325632"/>
<rect x="444.93" y="471.20" width="14.27" height="2.05" fill="#305230"/>
<rect x="444.93" y="473.20" width="14.27" height="1.55" fill="#2a452a"/>
<rect x="444.93" y="474.70" width="14.27" height="1.05" fill="#2c492c"/>
<rect x="444.93" y="475.70" width="14.27" height="1.05" fill="#2a452a"/>
<rect x="444.93" y="476.70" width="14.27" height="1.05" fill="#2a442a"/>
<rect x="444.93" y="477.70" width="14.27" height="1.85" fill="#263b26"/>
</g>
<rect x="185" y="217.2" width="0.8" height="262.3" fill="#0a0a0a" opacity="0.6"/>
</svg>
</body></html>
